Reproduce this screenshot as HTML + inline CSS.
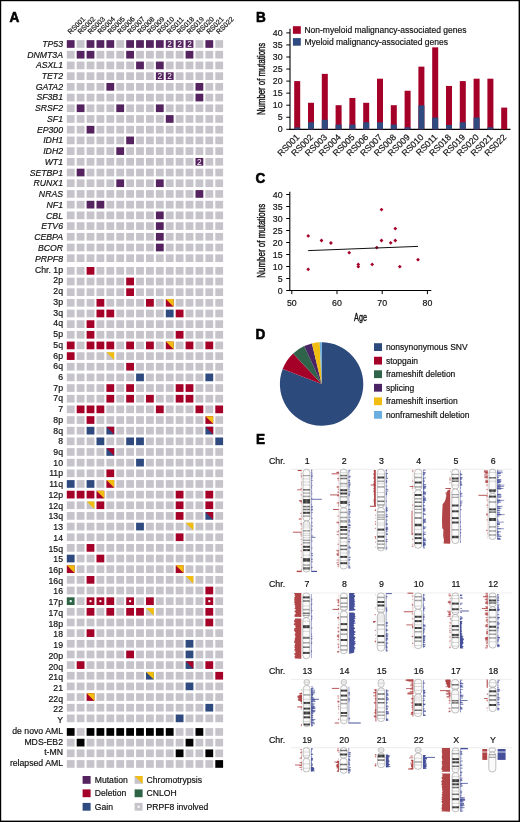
<!DOCTYPE html>
<html><head><meta charset="utf-8"><style>
html,body{margin:0;padding:0;background:#fff;}
svg{display:block;will-change:transform;}
text{font-family:"Liberation Sans", sans-serif;}
text[fill="#111"]{stroke:#111;stroke-width:0.18px;}
</style></head><body>
<svg width="520" height="822" viewBox="0 0 520 822">
<rect width="520" height="822" fill="#fff"/>
<g><rect x="66.80" y="40.15" width="7.8" height="7.7" fill="#55235f"/><rect x="76.70" y="40.15" width="7.8" height="7.7" fill="#c6c4ca"/><rect x="86.60" y="40.15" width="7.8" height="7.7" fill="#55235f"/><rect x="96.50" y="40.15" width="7.8" height="7.7" fill="#55235f"/><rect x="106.40" y="40.15" width="7.8" height="7.7" fill="#55235f"/><rect x="116.30" y="40.15" width="7.8" height="7.7" fill="#c6c4ca"/><rect x="126.20" y="40.15" width="7.8" height="7.7" fill="#55235f"/><rect x="136.10" y="40.15" width="7.8" height="7.7" fill="#55235f"/><rect x="146.00" y="40.15" width="7.8" height="7.7" fill="#55235f"/><rect x="155.90" y="40.15" width="7.8" height="7.7" fill="#55235f"/><rect x="165.80" y="40.15" width="7.8" height="7.7" fill="#55235f"/><text x="169.70" y="47.05" font-size="8.4" fill="#fff" text-anchor="middle">2</text><rect x="175.70" y="40.15" width="7.8" height="7.7" fill="#55235f"/><text x="179.60" y="47.05" font-size="8.4" fill="#fff" text-anchor="middle">2</text><rect x="185.60" y="40.15" width="7.8" height="7.7" fill="#55235f"/><text x="189.50" y="47.05" font-size="8.4" fill="#fff" text-anchor="middle">2</text><rect x="195.50" y="40.15" width="7.8" height="7.7" fill="#c6c4ca"/><rect x="205.40" y="40.15" width="7.8" height="7.7" fill="#55235f"/><rect x="215.30" y="40.15" width="7.8" height="7.7" fill="#c6c4ca"/><text x="63" y="46.80" font-size="8.7" text-anchor="end" font-style="italic" fill="#111">TP53</text><rect x="66.80" y="50.86" width="7.8" height="7.7" fill="#c6c4ca"/><rect x="76.70" y="50.86" width="7.8" height="7.7" fill="#55235f"/><rect x="86.60" y="50.86" width="7.8" height="7.7" fill="#55235f"/><rect x="96.50" y="50.86" width="7.8" height="7.7" fill="#c6c4ca"/><rect x="106.40" y="50.86" width="7.8" height="7.7" fill="#c6c4ca"/><rect x="116.30" y="50.86" width="7.8" height="7.7" fill="#c6c4ca"/><rect x="126.20" y="50.86" width="7.8" height="7.7" fill="#55235f"/><rect x="136.10" y="50.86" width="7.8" height="7.7" fill="#c6c4ca"/><rect x="146.00" y="50.86" width="7.8" height="7.7" fill="#c6c4ca"/><rect x="155.90" y="50.86" width="7.8" height="7.7" fill="#c6c4ca"/><rect x="165.80" y="50.86" width="7.8" height="7.7" fill="#c6c4ca"/><rect x="175.70" y="50.86" width="7.8" height="7.7" fill="#c6c4ca"/><rect x="185.60" y="50.86" width="7.8" height="7.7" fill="#55235f"/><rect x="195.50" y="50.86" width="7.8" height="7.7" fill="#c6c4ca"/><rect x="205.40" y="50.86" width="7.8" height="7.7" fill="#c6c4ca"/><rect x="215.30" y="50.86" width="7.8" height="7.7" fill="#c6c4ca"/><text x="63" y="57.53" font-size="8.7" text-anchor="end" font-style="italic" fill="#111">DNMT3A</text><rect x="66.80" y="61.57" width="7.8" height="7.7" fill="#c6c4ca"/><rect x="76.70" y="61.57" width="7.8" height="7.7" fill="#c6c4ca"/><rect x="86.60" y="61.57" width="7.8" height="7.7" fill="#c6c4ca"/><rect x="96.50" y="61.57" width="7.8" height="7.7" fill="#c6c4ca"/><rect x="106.40" y="61.57" width="7.8" height="7.7" fill="#c6c4ca"/><rect x="116.30" y="61.57" width="7.8" height="7.7" fill="#c6c4ca"/><rect x="126.20" y="61.57" width="7.8" height="7.7" fill="#c6c4ca"/><rect x="136.10" y="61.57" width="7.8" height="7.7" fill="#55235f"/><rect x="146.00" y="61.57" width="7.8" height="7.7" fill="#c6c4ca"/><rect x="155.90" y="61.57" width="7.8" height="7.7" fill="#55235f"/><rect x="165.80" y="61.57" width="7.8" height="7.7" fill="#c6c4ca"/><rect x="175.70" y="61.57" width="7.8" height="7.7" fill="#c6c4ca"/><rect x="185.60" y="61.57" width="7.8" height="7.7" fill="#c6c4ca"/><rect x="195.50" y="61.57" width="7.8" height="7.7" fill="#c6c4ca"/><rect x="205.40" y="61.57" width="7.8" height="7.7" fill="#c6c4ca"/><rect x="215.30" y="61.57" width="7.8" height="7.7" fill="#c6c4ca"/><text x="63" y="68.27" font-size="8.7" text-anchor="end" font-style="italic" fill="#111">ASXL1</text><rect x="66.80" y="72.28" width="7.8" height="7.7" fill="#c6c4ca"/><rect x="76.70" y="72.28" width="7.8" height="7.7" fill="#c6c4ca"/><rect x="86.60" y="72.28" width="7.8" height="7.7" fill="#c6c4ca"/><rect x="96.50" y="72.28" width="7.8" height="7.7" fill="#c6c4ca"/><rect x="106.40" y="72.28" width="7.8" height="7.7" fill="#c6c4ca"/><rect x="116.30" y="72.28" width="7.8" height="7.7" fill="#c6c4ca"/><rect x="126.20" y="72.28" width="7.8" height="7.7" fill="#c6c4ca"/><rect x="136.10" y="72.28" width="7.8" height="7.7" fill="#c6c4ca"/><rect x="146.00" y="72.28" width="7.8" height="7.7" fill="#c6c4ca"/><rect x="155.90" y="72.28" width="7.8" height="7.7" fill="#55235f"/><text x="159.80" y="79.18" font-size="8.4" fill="#fff" text-anchor="middle">2</text><rect x="165.80" y="72.28" width="7.8" height="7.7" fill="#55235f"/><text x="169.70" y="79.18" font-size="8.4" fill="#fff" text-anchor="middle">2</text><rect x="175.70" y="72.28" width="7.8" height="7.7" fill="#c6c4ca"/><rect x="185.60" y="72.28" width="7.8" height="7.7" fill="#c6c4ca"/><rect x="195.50" y="72.28" width="7.8" height="7.7" fill="#c6c4ca"/><rect x="205.40" y="72.28" width="7.8" height="7.7" fill="#c6c4ca"/><rect x="215.30" y="72.28" width="7.8" height="7.7" fill="#c6c4ca"/><text x="63" y="79.00" font-size="8.7" text-anchor="end" font-style="italic" fill="#111">TET2</text><rect x="66.80" y="82.99" width="7.8" height="7.7" fill="#c6c4ca"/><rect x="76.70" y="82.99" width="7.8" height="7.7" fill="#c6c4ca"/><rect x="86.60" y="82.99" width="7.8" height="7.7" fill="#c6c4ca"/><rect x="96.50" y="82.99" width="7.8" height="7.7" fill="#c6c4ca"/><rect x="106.40" y="82.99" width="7.8" height="7.7" fill="#55235f"/><rect x="116.30" y="82.99" width="7.8" height="7.7" fill="#c6c4ca"/><rect x="126.20" y="82.99" width="7.8" height="7.7" fill="#c6c4ca"/><rect x="136.10" y="82.99" width="7.8" height="7.7" fill="#c6c4ca"/><rect x="146.00" y="82.99" width="7.8" height="7.7" fill="#c6c4ca"/><rect x="155.90" y="82.99" width="7.8" height="7.7" fill="#c6c4ca"/><rect x="165.80" y="82.99" width="7.8" height="7.7" fill="#c6c4ca"/><rect x="175.70" y="82.99" width="7.8" height="7.7" fill="#c6c4ca"/><rect x="185.60" y="82.99" width="7.8" height="7.7" fill="#c6c4ca"/><rect x="195.50" y="82.99" width="7.8" height="7.7" fill="#55235f"/><rect x="205.40" y="82.99" width="7.8" height="7.7" fill="#c6c4ca"/><rect x="215.30" y="82.99" width="7.8" height="7.7" fill="#c6c4ca"/><text x="63" y="89.74" font-size="8.7" text-anchor="end" font-style="italic" fill="#111">GATA2</text><rect x="66.80" y="93.70" width="7.8" height="7.7" fill="#c6c4ca"/><rect x="76.70" y="93.70" width="7.8" height="7.7" fill="#c6c4ca"/><rect x="86.60" y="93.70" width="7.8" height="7.7" fill="#c6c4ca"/><rect x="96.50" y="93.70" width="7.8" height="7.7" fill="#c6c4ca"/><rect x="106.40" y="93.70" width="7.8" height="7.7" fill="#c6c4ca"/><rect x="116.30" y="93.70" width="7.8" height="7.7" fill="#c6c4ca"/><rect x="126.20" y="93.70" width="7.8" height="7.7" fill="#c6c4ca"/><rect x="136.10" y="93.70" width="7.8" height="7.7" fill="#c6c4ca"/><rect x="146.00" y="93.70" width="7.8" height="7.7" fill="#c6c4ca"/><rect x="155.90" y="93.70" width="7.8" height="7.7" fill="#c6c4ca"/><rect x="165.80" y="93.70" width="7.8" height="7.7" fill="#c6c4ca"/><rect x="175.70" y="93.70" width="7.8" height="7.7" fill="#c6c4ca"/><rect x="185.60" y="93.70" width="7.8" height="7.7" fill="#c6c4ca"/><rect x="195.50" y="93.70" width="7.8" height="7.7" fill="#55235f"/><rect x="205.40" y="93.70" width="7.8" height="7.7" fill="#c6c4ca"/><rect x="215.30" y="93.70" width="7.8" height="7.7" fill="#c6c4ca"/><text x="63" y="100.47" font-size="8.7" text-anchor="end" font-style="italic" fill="#111">SF3B1</text><rect x="66.80" y="104.41" width="7.8" height="7.7" fill="#c6c4ca"/><rect x="76.70" y="104.41" width="7.8" height="7.7" fill="#55235f"/><rect x="86.60" y="104.41" width="7.8" height="7.7" fill="#c6c4ca"/><rect x="96.50" y="104.41" width="7.8" height="7.7" fill="#c6c4ca"/><rect x="106.40" y="104.41" width="7.8" height="7.7" fill="#c6c4ca"/><rect x="116.30" y="104.41" width="7.8" height="7.7" fill="#55235f"/><rect x="126.20" y="104.41" width="7.8" height="7.7" fill="#c6c4ca"/><rect x="136.10" y="104.41" width="7.8" height="7.7" fill="#c6c4ca"/><rect x="146.00" y="104.41" width="7.8" height="7.7" fill="#c6c4ca"/><rect x="155.90" y="104.41" width="7.8" height="7.7" fill="#55235f"/><rect x="165.80" y="104.41" width="7.8" height="7.7" fill="#c6c4ca"/><rect x="175.70" y="104.41" width="7.8" height="7.7" fill="#c6c4ca"/><rect x="185.60" y="104.41" width="7.8" height="7.7" fill="#c6c4ca"/><rect x="195.50" y="104.41" width="7.8" height="7.7" fill="#c6c4ca"/><rect x="205.40" y="104.41" width="7.8" height="7.7" fill="#c6c4ca"/><rect x="215.30" y="104.41" width="7.8" height="7.7" fill="#c6c4ca"/><text x="63" y="111.21" font-size="8.7" text-anchor="end" font-style="italic" fill="#111">SRSF2</text><rect x="66.80" y="115.12" width="7.8" height="7.7" fill="#c6c4ca"/><rect x="76.70" y="115.12" width="7.8" height="7.7" fill="#c6c4ca"/><rect x="86.60" y="115.12" width="7.8" height="7.7" fill="#c6c4ca"/><rect x="96.50" y="115.12" width="7.8" height="7.7" fill="#c6c4ca"/><rect x="106.40" y="115.12" width="7.8" height="7.7" fill="#c6c4ca"/><rect x="116.30" y="115.12" width="7.8" height="7.7" fill="#c6c4ca"/><rect x="126.20" y="115.12" width="7.8" height="7.7" fill="#c6c4ca"/><rect x="136.10" y="115.12" width="7.8" height="7.7" fill="#c6c4ca"/><rect x="146.00" y="115.12" width="7.8" height="7.7" fill="#c6c4ca"/><rect x="155.90" y="115.12" width="7.8" height="7.7" fill="#c6c4ca"/><rect x="165.80" y="115.12" width="7.8" height="7.7" fill="#55235f"/><rect x="175.70" y="115.12" width="7.8" height="7.7" fill="#c6c4ca"/><rect x="185.60" y="115.12" width="7.8" height="7.7" fill="#c6c4ca"/><rect x="195.50" y="115.12" width="7.8" height="7.7" fill="#c6c4ca"/><rect x="205.40" y="115.12" width="7.8" height="7.7" fill="#c6c4ca"/><rect x="215.30" y="115.12" width="7.8" height="7.7" fill="#c6c4ca"/><text x="63" y="121.94" font-size="8.7" text-anchor="end" font-style="italic" fill="#111">SF1</text><rect x="66.80" y="125.83" width="7.8" height="7.7" fill="#c6c4ca"/><rect x="76.70" y="125.83" width="7.8" height="7.7" fill="#c6c4ca"/><rect x="86.60" y="125.83" width="7.8" height="7.7" fill="#55235f"/><rect x="96.50" y="125.83" width="7.8" height="7.7" fill="#c6c4ca"/><rect x="106.40" y="125.83" width="7.8" height="7.7" fill="#c6c4ca"/><rect x="116.30" y="125.83" width="7.8" height="7.7" fill="#c6c4ca"/><rect x="126.20" y="125.83" width="7.8" height="7.7" fill="#c6c4ca"/><rect x="136.10" y="125.83" width="7.8" height="7.7" fill="#c6c4ca"/><rect x="146.00" y="125.83" width="7.8" height="7.7" fill="#c6c4ca"/><rect x="155.90" y="125.83" width="7.8" height="7.7" fill="#c6c4ca"/><rect x="165.80" y="125.83" width="7.8" height="7.7" fill="#c6c4ca"/><rect x="175.70" y="125.83" width="7.8" height="7.7" fill="#c6c4ca"/><rect x="185.60" y="125.83" width="7.8" height="7.7" fill="#c6c4ca"/><rect x="195.50" y="125.83" width="7.8" height="7.7" fill="#c6c4ca"/><rect x="205.40" y="125.83" width="7.8" height="7.7" fill="#c6c4ca"/><rect x="215.30" y="125.83" width="7.8" height="7.7" fill="#c6c4ca"/><text x="63" y="132.68" font-size="8.7" text-anchor="end" font-style="italic" fill="#111">EP300</text><rect x="66.80" y="136.54" width="7.8" height="7.7" fill="#c6c4ca"/><rect x="76.70" y="136.54" width="7.8" height="7.7" fill="#c6c4ca"/><rect x="86.60" y="136.54" width="7.8" height="7.7" fill="#c6c4ca"/><rect x="96.50" y="136.54" width="7.8" height="7.7" fill="#c6c4ca"/><rect x="106.40" y="136.54" width="7.8" height="7.7" fill="#c6c4ca"/><rect x="116.30" y="136.54" width="7.8" height="7.7" fill="#c6c4ca"/><rect x="126.20" y="136.54" width="7.8" height="7.7" fill="#55235f"/><rect x="136.10" y="136.54" width="7.8" height="7.7" fill="#c6c4ca"/><rect x="146.00" y="136.54" width="7.8" height="7.7" fill="#c6c4ca"/><rect x="155.90" y="136.54" width="7.8" height="7.7" fill="#c6c4ca"/><rect x="165.80" y="136.54" width="7.8" height="7.7" fill="#c6c4ca"/><rect x="175.70" y="136.54" width="7.8" height="7.7" fill="#c6c4ca"/><rect x="185.60" y="136.54" width="7.8" height="7.7" fill="#c6c4ca"/><rect x="195.50" y="136.54" width="7.8" height="7.7" fill="#c6c4ca"/><rect x="205.40" y="136.54" width="7.8" height="7.7" fill="#c6c4ca"/><rect x="215.30" y="136.54" width="7.8" height="7.7" fill="#c6c4ca"/><text x="63" y="143.41" font-size="8.7" text-anchor="end" font-style="italic" fill="#111">IDH1</text><rect x="66.80" y="147.25" width="7.8" height="7.7" fill="#c6c4ca"/><rect x="76.70" y="147.25" width="7.8" height="7.7" fill="#c6c4ca"/><rect x="86.60" y="147.25" width="7.8" height="7.7" fill="#c6c4ca"/><rect x="96.50" y="147.25" width="7.8" height="7.7" fill="#c6c4ca"/><rect x="106.40" y="147.25" width="7.8" height="7.7" fill="#c6c4ca"/><rect x="116.30" y="147.25" width="7.8" height="7.7" fill="#55235f"/><rect x="126.20" y="147.25" width="7.8" height="7.7" fill="#c6c4ca"/><rect x="136.10" y="147.25" width="7.8" height="7.7" fill="#c6c4ca"/><rect x="146.00" y="147.25" width="7.8" height="7.7" fill="#c6c4ca"/><rect x="155.90" y="147.25" width="7.8" height="7.7" fill="#c6c4ca"/><rect x="165.80" y="147.25" width="7.8" height="7.7" fill="#c6c4ca"/><rect x="175.70" y="147.25" width="7.8" height="7.7" fill="#c6c4ca"/><rect x="185.60" y="147.25" width="7.8" height="7.7" fill="#c6c4ca"/><rect x="195.50" y="147.25" width="7.8" height="7.7" fill="#c6c4ca"/><rect x="205.40" y="147.25" width="7.8" height="7.7" fill="#c6c4ca"/><rect x="215.30" y="147.25" width="7.8" height="7.7" fill="#c6c4ca"/><text x="63" y="154.15" font-size="8.7" text-anchor="end" font-style="italic" fill="#111">IDH2</text><rect x="66.80" y="157.96" width="7.8" height="7.7" fill="#c6c4ca"/><rect x="76.70" y="157.96" width="7.8" height="7.7" fill="#c6c4ca"/><rect x="86.60" y="157.96" width="7.8" height="7.7" fill="#c6c4ca"/><rect x="96.50" y="157.96" width="7.8" height="7.7" fill="#c6c4ca"/><rect x="106.40" y="157.96" width="7.8" height="7.7" fill="#c6c4ca"/><rect x="116.30" y="157.96" width="7.8" height="7.7" fill="#c6c4ca"/><rect x="126.20" y="157.96" width="7.8" height="7.7" fill="#c6c4ca"/><rect x="136.10" y="157.96" width="7.8" height="7.7" fill="#c6c4ca"/><rect x="146.00" y="157.96" width="7.8" height="7.7" fill="#c6c4ca"/><rect x="155.90" y="157.96" width="7.8" height="7.7" fill="#c6c4ca"/><rect x="165.80" y="157.96" width="7.8" height="7.7" fill="#c6c4ca"/><rect x="175.70" y="157.96" width="7.8" height="7.7" fill="#c6c4ca"/><rect x="185.60" y="157.96" width="7.8" height="7.7" fill="#c6c4ca"/><rect x="195.50" y="157.96" width="7.8" height="7.7" fill="#55235f"/><text x="199.40" y="164.86" font-size="8.4" fill="#fff" text-anchor="middle">2</text><rect x="205.40" y="157.96" width="7.8" height="7.7" fill="#c6c4ca"/><rect x="215.30" y="157.96" width="7.8" height="7.7" fill="#c6c4ca"/><text x="63" y="164.88" font-size="8.7" text-anchor="end" font-style="italic" fill="#111">WT1</text><rect x="66.80" y="168.67" width="7.8" height="7.7" fill="#c6c4ca"/><rect x="76.70" y="168.67" width="7.8" height="7.7" fill="#55235f"/><rect x="86.60" y="168.67" width="7.8" height="7.7" fill="#c6c4ca"/><rect x="96.50" y="168.67" width="7.8" height="7.7" fill="#c6c4ca"/><rect x="106.40" y="168.67" width="7.8" height="7.7" fill="#c6c4ca"/><rect x="116.30" y="168.67" width="7.8" height="7.7" fill="#c6c4ca"/><rect x="126.20" y="168.67" width="7.8" height="7.7" fill="#c6c4ca"/><rect x="136.10" y="168.67" width="7.8" height="7.7" fill="#c6c4ca"/><rect x="146.00" y="168.67" width="7.8" height="7.7" fill="#c6c4ca"/><rect x="155.90" y="168.67" width="7.8" height="7.7" fill="#c6c4ca"/><rect x="165.80" y="168.67" width="7.8" height="7.7" fill="#c6c4ca"/><rect x="175.70" y="168.67" width="7.8" height="7.7" fill="#c6c4ca"/><rect x="185.60" y="168.67" width="7.8" height="7.7" fill="#c6c4ca"/><rect x="195.50" y="168.67" width="7.8" height="7.7" fill="#c6c4ca"/><rect x="205.40" y="168.67" width="7.8" height="7.7" fill="#c6c4ca"/><rect x="215.30" y="168.67" width="7.8" height="7.7" fill="#c6c4ca"/><text x="63" y="175.62" font-size="8.7" text-anchor="end" font-style="italic" fill="#111">SETBP1</text><rect x="66.80" y="179.38" width="7.8" height="7.7" fill="#c6c4ca"/><rect x="76.70" y="179.38" width="7.8" height="7.7" fill="#c6c4ca"/><rect x="86.60" y="179.38" width="7.8" height="7.7" fill="#c6c4ca"/><rect x="96.50" y="179.38" width="7.8" height="7.7" fill="#c6c4ca"/><rect x="106.40" y="179.38" width="7.8" height="7.7" fill="#c6c4ca"/><rect x="116.30" y="179.38" width="7.8" height="7.7" fill="#55235f"/><rect x="126.20" y="179.38" width="7.8" height="7.7" fill="#c6c4ca"/><rect x="136.10" y="179.38" width="7.8" height="7.7" fill="#c6c4ca"/><rect x="146.00" y="179.38" width="7.8" height="7.7" fill="#c6c4ca"/><rect x="155.90" y="179.38" width="7.8" height="7.7" fill="#55235f"/><rect x="165.80" y="179.38" width="7.8" height="7.7" fill="#c6c4ca"/><rect x="175.70" y="179.38" width="7.8" height="7.7" fill="#c6c4ca"/><rect x="185.60" y="179.38" width="7.8" height="7.7" fill="#c6c4ca"/><rect x="195.50" y="179.38" width="7.8" height="7.7" fill="#c6c4ca"/><rect x="205.40" y="179.38" width="7.8" height="7.7" fill="#c6c4ca"/><rect x="215.30" y="179.38" width="7.8" height="7.7" fill="#c6c4ca"/><text x="63" y="186.36" font-size="8.7" text-anchor="end" font-style="italic" fill="#111">RUNX1</text><rect x="66.80" y="190.09" width="7.8" height="7.7" fill="#c6c4ca"/><rect x="76.70" y="190.09" width="7.8" height="7.7" fill="#c6c4ca"/><rect x="86.60" y="190.09" width="7.8" height="7.7" fill="#c6c4ca"/><rect x="96.50" y="190.09" width="7.8" height="7.7" fill="#c6c4ca"/><rect x="106.40" y="190.09" width="7.8" height="7.7" fill="#c6c4ca"/><rect x="116.30" y="190.09" width="7.8" height="7.7" fill="#c6c4ca"/><rect x="126.20" y="190.09" width="7.8" height="7.7" fill="#c6c4ca"/><rect x="136.10" y="190.09" width="7.8" height="7.7" fill="#c6c4ca"/><rect x="146.00" y="190.09" width="7.8" height="7.7" fill="#c6c4ca"/><rect x="155.90" y="190.09" width="7.8" height="7.7" fill="#c6c4ca"/><rect x="165.80" y="190.09" width="7.8" height="7.7" fill="#c6c4ca"/><rect x="175.70" y="190.09" width="7.8" height="7.7" fill="#c6c4ca"/><rect x="185.60" y="190.09" width="7.8" height="7.7" fill="#c6c4ca"/><rect x="195.50" y="190.09" width="7.8" height="7.7" fill="#55235f"/><rect x="205.40" y="190.09" width="7.8" height="7.7" fill="#c6c4ca"/><rect x="215.30" y="190.09" width="7.8" height="7.7" fill="#c6c4ca"/><text x="63" y="197.09" font-size="8.7" text-anchor="end" font-style="italic" fill="#111">NRAS</text><rect x="66.80" y="200.80" width="7.8" height="7.7" fill="#c6c4ca"/><rect x="76.70" y="200.80" width="7.8" height="7.7" fill="#c6c4ca"/><rect x="86.60" y="200.80" width="7.8" height="7.7" fill="#55235f"/><rect x="96.50" y="200.80" width="7.8" height="7.7" fill="#55235f"/><rect x="106.40" y="200.80" width="7.8" height="7.7" fill="#c6c4ca"/><rect x="116.30" y="200.80" width="7.8" height="7.7" fill="#c6c4ca"/><rect x="126.20" y="200.80" width="7.8" height="7.7" fill="#c6c4ca"/><rect x="136.10" y="200.80" width="7.8" height="7.7" fill="#c6c4ca"/><rect x="146.00" y="200.80" width="7.8" height="7.7" fill="#c6c4ca"/><rect x="155.90" y="200.80" width="7.8" height="7.7" fill="#c6c4ca"/><rect x="165.80" y="200.80" width="7.8" height="7.7" fill="#c6c4ca"/><rect x="175.70" y="200.80" width="7.8" height="7.7" fill="#c6c4ca"/><rect x="185.60" y="200.80" width="7.8" height="7.7" fill="#c6c4ca"/><rect x="195.50" y="200.80" width="7.8" height="7.7" fill="#c6c4ca"/><rect x="205.40" y="200.80" width="7.8" height="7.7" fill="#c6c4ca"/><rect x="215.30" y="200.80" width="7.8" height="7.7" fill="#c6c4ca"/><text x="63" y="207.82" font-size="8.7" text-anchor="end" font-style="italic" fill="#111">NF1</text><rect x="66.80" y="211.51" width="7.8" height="7.7" fill="#c6c4ca"/><rect x="76.70" y="211.51" width="7.8" height="7.7" fill="#c6c4ca"/><rect x="86.60" y="211.51" width="7.8" height="7.7" fill="#c6c4ca"/><rect x="96.50" y="211.51" width="7.8" height="7.7" fill="#c6c4ca"/><rect x="106.40" y="211.51" width="7.8" height="7.7" fill="#c6c4ca"/><rect x="116.30" y="211.51" width="7.8" height="7.7" fill="#c6c4ca"/><rect x="126.20" y="211.51" width="7.8" height="7.7" fill="#c6c4ca"/><rect x="136.10" y="211.51" width="7.8" height="7.7" fill="#c6c4ca"/><rect x="146.00" y="211.51" width="7.8" height="7.7" fill="#c6c4ca"/><rect x="155.90" y="211.51" width="7.8" height="7.7" fill="#55235f"/><rect x="165.80" y="211.51" width="7.8" height="7.7" fill="#c6c4ca"/><rect x="175.70" y="211.51" width="7.8" height="7.7" fill="#c6c4ca"/><rect x="185.60" y="211.51" width="7.8" height="7.7" fill="#c6c4ca"/><rect x="195.50" y="211.51" width="7.8" height="7.7" fill="#c6c4ca"/><rect x="205.40" y="211.51" width="7.8" height="7.7" fill="#c6c4ca"/><rect x="215.30" y="211.51" width="7.8" height="7.7" fill="#c6c4ca"/><text x="63" y="218.56" font-size="8.7" text-anchor="end" font-style="italic" fill="#111">CBL</text><rect x="66.80" y="222.22" width="7.8" height="7.7" fill="#c6c4ca"/><rect x="76.70" y="222.22" width="7.8" height="7.7" fill="#c6c4ca"/><rect x="86.60" y="222.22" width="7.8" height="7.7" fill="#c6c4ca"/><rect x="96.50" y="222.22" width="7.8" height="7.7" fill="#c6c4ca"/><rect x="106.40" y="222.22" width="7.8" height="7.7" fill="#c6c4ca"/><rect x="116.30" y="222.22" width="7.8" height="7.7" fill="#c6c4ca"/><rect x="126.20" y="222.22" width="7.8" height="7.7" fill="#c6c4ca"/><rect x="136.10" y="222.22" width="7.8" height="7.7" fill="#c6c4ca"/><rect x="146.00" y="222.22" width="7.8" height="7.7" fill="#c6c4ca"/><rect x="155.90" y="222.22" width="7.8" height="7.7" fill="#55235f"/><rect x="165.80" y="222.22" width="7.8" height="7.7" fill="#c6c4ca"/><rect x="175.70" y="222.22" width="7.8" height="7.7" fill="#c6c4ca"/><rect x="185.60" y="222.22" width="7.8" height="7.7" fill="#c6c4ca"/><rect x="195.50" y="222.22" width="7.8" height="7.7" fill="#c6c4ca"/><rect x="205.40" y="222.22" width="7.8" height="7.7" fill="#c6c4ca"/><rect x="215.30" y="222.22" width="7.8" height="7.7" fill="#c6c4ca"/><text x="63" y="229.30" font-size="8.7" text-anchor="end" font-style="italic" fill="#111">ETV6</text><rect x="66.80" y="232.93" width="7.8" height="7.7" fill="#c6c4ca"/><rect x="76.70" y="232.93" width="7.8" height="7.7" fill="#c6c4ca"/><rect x="86.60" y="232.93" width="7.8" height="7.7" fill="#c6c4ca"/><rect x="96.50" y="232.93" width="7.8" height="7.7" fill="#c6c4ca"/><rect x="106.40" y="232.93" width="7.8" height="7.7" fill="#c6c4ca"/><rect x="116.30" y="232.93" width="7.8" height="7.7" fill="#c6c4ca"/><rect x="126.20" y="232.93" width="7.8" height="7.7" fill="#c6c4ca"/><rect x="136.10" y="232.93" width="7.8" height="7.7" fill="#c6c4ca"/><rect x="146.00" y="232.93" width="7.8" height="7.7" fill="#c6c4ca"/><rect x="155.90" y="232.93" width="7.8" height="7.7" fill="#55235f"/><rect x="165.80" y="232.93" width="7.8" height="7.7" fill="#c6c4ca"/><rect x="175.70" y="232.93" width="7.8" height="7.7" fill="#c6c4ca"/><rect x="185.60" y="232.93" width="7.8" height="7.7" fill="#c6c4ca"/><rect x="195.50" y="232.93" width="7.8" height="7.7" fill="#c6c4ca"/><rect x="205.40" y="232.93" width="7.8" height="7.7" fill="#c6c4ca"/><rect x="215.30" y="232.93" width="7.8" height="7.7" fill="#c6c4ca"/><text x="63" y="240.03" font-size="8.7" text-anchor="end" font-style="italic" fill="#111">CEBPA</text><rect x="66.80" y="243.64" width="7.8" height="7.7" fill="#c6c4ca"/><rect x="76.70" y="243.64" width="7.8" height="7.7" fill="#c6c4ca"/><rect x="86.60" y="243.64" width="7.8" height="7.7" fill="#c6c4ca"/><rect x="96.50" y="243.64" width="7.8" height="7.7" fill="#c6c4ca"/><rect x="106.40" y="243.64" width="7.8" height="7.7" fill="#c6c4ca"/><rect x="116.30" y="243.64" width="7.8" height="7.7" fill="#c6c4ca"/><rect x="126.20" y="243.64" width="7.8" height="7.7" fill="#c6c4ca"/><rect x="136.10" y="243.64" width="7.8" height="7.7" fill="#c6c4ca"/><rect x="146.00" y="243.64" width="7.8" height="7.7" fill="#c6c4ca"/><rect x="155.90" y="243.64" width="7.8" height="7.7" fill="#55235f"/><rect x="165.80" y="243.64" width="7.8" height="7.7" fill="#c6c4ca"/><rect x="175.70" y="243.64" width="7.8" height="7.7" fill="#c6c4ca"/><rect x="185.60" y="243.64" width="7.8" height="7.7" fill="#c6c4ca"/><rect x="195.50" y="243.64" width="7.8" height="7.7" fill="#c6c4ca"/><rect x="205.40" y="243.64" width="7.8" height="7.7" fill="#c6c4ca"/><rect x="215.30" y="243.64" width="7.8" height="7.7" fill="#c6c4ca"/><text x="63" y="250.76" font-size="8.7" text-anchor="end" font-style="italic" fill="#111">BCOR</text><rect x="66.80" y="254.35" width="7.8" height="7.7" fill="#c6c4ca"/><rect x="76.70" y="254.35" width="7.8" height="7.7" fill="#c6c4ca"/><rect x="86.60" y="254.35" width="7.8" height="7.7" fill="#c6c4ca"/><rect x="96.50" y="254.35" width="7.8" height="7.7" fill="#c6c4ca"/><rect x="106.40" y="254.35" width="7.8" height="7.7" fill="#c6c4ca"/><rect x="116.30" y="254.35" width="7.8" height="7.7" fill="#c6c4ca"/><rect x="126.20" y="254.35" width="7.8" height="7.7" fill="#c6c4ca"/><rect x="136.10" y="254.35" width="7.8" height="7.7" fill="#c6c4ca"/><rect x="146.00" y="254.35" width="7.8" height="7.7" fill="#c6c4ca"/><rect x="155.90" y="254.35" width="7.8" height="7.7" fill="#c6c4ca"/><rect x="165.80" y="254.35" width="7.8" height="7.7" fill="#c6c4ca"/><rect x="175.70" y="254.35" width="7.8" height="7.7" fill="#c6c4ca"/><rect x="185.60" y="254.35" width="7.8" height="7.7" fill="#c6c4ca"/><rect x="195.50" y="254.35" width="7.8" height="7.7" fill="#c6c4ca"/><rect x="205.40" y="254.35" width="7.8" height="7.7" fill="#c6c4ca"/><rect x="215.30" y="254.35" width="7.8" height="7.7" fill="#c6c4ca"/><text x="63" y="261.50" font-size="8.7" text-anchor="end" font-style="italic" fill="#111">PRPF8</text><rect x="66.80" y="267.00" width="7.8" height="7.7" fill="#c6c4ca"/><rect x="76.70" y="267.00" width="7.8" height="7.7" fill="#c6c4ca"/><rect x="86.60" y="267.00" width="7.8" height="7.7" fill="#a50028"/><rect x="96.50" y="267.00" width="7.8" height="7.7" fill="#c6c4ca"/><rect x="106.40" y="267.00" width="7.8" height="7.7" fill="#c6c4ca"/><rect x="116.30" y="267.00" width="7.8" height="7.7" fill="#c6c4ca"/><rect x="126.20" y="267.00" width="7.8" height="7.7" fill="#c6c4ca"/><rect x="136.10" y="267.00" width="7.8" height="7.7" fill="#c6c4ca"/><rect x="146.00" y="267.00" width="7.8" height="7.7" fill="#c6c4ca"/><rect x="155.90" y="267.00" width="7.8" height="7.7" fill="#c6c4ca"/><rect x="165.80" y="267.00" width="7.8" height="7.7" fill="#c6c4ca"/><rect x="175.70" y="267.00" width="7.8" height="7.7" fill="#c6c4ca"/><rect x="185.60" y="267.00" width="7.8" height="7.7" fill="#c6c4ca"/><rect x="195.50" y="267.00" width="7.8" height="7.7" fill="#c6c4ca"/><rect x="205.40" y="267.00" width="7.8" height="7.7" fill="#c6c4ca"/><rect x="215.30" y="267.00" width="7.8" height="7.7" fill="#c6c4ca"/><text x="63" y="272.70" font-size="8.7" text-anchor="end" fill="#111">Chr. 1p</text><rect x="66.80" y="277.65" width="7.8" height="7.7" fill="#c6c4ca"/><rect x="76.70" y="277.65" width="7.8" height="7.7" fill="#c6c4ca"/><rect x="86.60" y="277.65" width="7.8" height="7.7" fill="#c6c4ca"/><rect x="96.50" y="277.65" width="7.8" height="7.7" fill="#c6c4ca"/><rect x="106.40" y="277.65" width="7.8" height="7.7" fill="#c6c4ca"/><rect x="116.30" y="277.65" width="7.8" height="7.7" fill="#c6c4ca"/><rect x="126.20" y="277.65" width="7.8" height="7.7" fill="#a50028"/><rect x="136.10" y="277.65" width="7.8" height="7.7" fill="#c6c4ca"/><rect x="146.00" y="277.65" width="7.8" height="7.7" fill="#c6c4ca"/><rect x="155.90" y="277.65" width="7.8" height="7.7" fill="#c6c4ca"/><rect x="165.80" y="277.65" width="7.8" height="7.7" fill="#c6c4ca"/><rect x="175.70" y="277.65" width="7.8" height="7.7" fill="#c6c4ca"/><rect x="185.60" y="277.65" width="7.8" height="7.7" fill="#c6c4ca"/><rect x="195.50" y="277.65" width="7.8" height="7.7" fill="#c6c4ca"/><rect x="205.40" y="277.65" width="7.8" height="7.7" fill="#c6c4ca"/><rect x="215.30" y="277.65" width="7.8" height="7.7" fill="#c6c4ca"/><text x="63" y="283.43" font-size="8.7" text-anchor="end" fill="#111">2p</text><rect x="66.80" y="288.31" width="7.8" height="7.7" fill="#c6c4ca"/><rect x="76.70" y="288.31" width="7.8" height="7.7" fill="#c6c4ca"/><rect x="86.60" y="288.31" width="7.8" height="7.7" fill="#c6c4ca"/><rect x="96.50" y="288.31" width="7.8" height="7.7" fill="#c6c4ca"/><rect x="106.40" y="288.31" width="7.8" height="7.7" fill="#c6c4ca"/><rect x="116.30" y="288.31" width="7.8" height="7.7" fill="#c6c4ca"/><rect x="126.20" y="288.31" width="7.8" height="7.7" fill="#a50028"/><rect x="136.10" y="288.31" width="7.8" height="7.7" fill="#c6c4ca"/><rect x="146.00" y="288.31" width="7.8" height="7.7" fill="#c6c4ca"/><rect x="155.90" y="288.31" width="7.8" height="7.7" fill="#c6c4ca"/><rect x="165.80" y="288.31" width="7.8" height="7.7" fill="#c6c4ca"/><rect x="175.70" y="288.31" width="7.8" height="7.7" fill="#c6c4ca"/><rect x="185.60" y="288.31" width="7.8" height="7.7" fill="#c6c4ca"/><rect x="195.50" y="288.31" width="7.8" height="7.7" fill="#c6c4ca"/><rect x="205.40" y="288.31" width="7.8" height="7.7" fill="#c6c4ca"/><rect x="215.30" y="288.31" width="7.8" height="7.7" fill="#c6c4ca"/><text x="63" y="294.15" font-size="8.7" text-anchor="end" fill="#111">2q</text><rect x="66.80" y="298.96" width="7.8" height="7.7" fill="#c6c4ca"/><rect x="76.70" y="298.96" width="7.8" height="7.7" fill="#c6c4ca"/><rect x="86.60" y="298.96" width="7.8" height="7.7" fill="#c6c4ca"/><rect x="96.50" y="298.96" width="7.8" height="7.7" fill="#a50028"/><rect x="106.40" y="298.96" width="7.8" height="7.7" fill="#c6c4ca"/><rect x="116.30" y="298.96" width="7.8" height="7.7" fill="#c6c4ca"/><rect x="126.20" y="298.96" width="7.8" height="7.7" fill="#c6c4ca"/><rect x="136.10" y="298.96" width="7.8" height="7.7" fill="#c6c4ca"/><rect x="146.00" y="298.96" width="7.8" height="7.7" fill="#a50028"/><rect x="155.90" y="298.96" width="7.8" height="7.7" fill="#c6c4ca"/><rect x="165.80" y="298.96" width="7.8" height="7.7" fill="#a50028"/><path d="M165.80 298.96H173.60V306.66Z" fill="#f0bd10"/><rect x="175.70" y="298.96" width="7.8" height="7.7" fill="#c6c4ca"/><rect x="185.60" y="298.96" width="7.8" height="7.7" fill="#c6c4ca"/><rect x="195.50" y="298.96" width="7.8" height="7.7" fill="#c6c4ca"/><rect x="205.40" y="298.96" width="7.8" height="7.7" fill="#c6c4ca"/><rect x="215.30" y="298.96" width="7.8" height="7.7" fill="#c6c4ca"/><text x="63" y="304.88" font-size="8.7" text-anchor="end" fill="#111">3p</text><rect x="66.80" y="309.62" width="7.8" height="7.7" fill="#c6c4ca"/><rect x="76.70" y="309.62" width="7.8" height="7.7" fill="#c6c4ca"/><rect x="86.60" y="309.62" width="7.8" height="7.7" fill="#c6c4ca"/><rect x="96.50" y="309.62" width="7.8" height="7.7" fill="#a50028"/><rect x="106.40" y="309.62" width="7.8" height="7.7" fill="#a50028"/><rect x="116.30" y="309.62" width="7.8" height="7.7" fill="#c6c4ca"/><rect x="126.20" y="309.62" width="7.8" height="7.7" fill="#c6c4ca"/><rect x="136.10" y="309.62" width="7.8" height="7.7" fill="#c6c4ca"/><rect x="146.00" y="309.62" width="7.8" height="7.7" fill="#c6c4ca"/><rect x="155.90" y="309.62" width="7.8" height="7.7" fill="#c6c4ca"/><rect x="165.80" y="309.62" width="7.8" height="7.7" fill="#2e4a7e"/><rect x="175.70" y="309.62" width="7.8" height="7.7" fill="#a50028"/><rect x="185.60" y="309.62" width="7.8" height="7.7" fill="#c6c4ca"/><rect x="195.50" y="309.62" width="7.8" height="7.7" fill="#c6c4ca"/><rect x="205.40" y="309.62" width="7.8" height="7.7" fill="#c6c4ca"/><rect x="215.30" y="309.62" width="7.8" height="7.7" fill="#c6c4ca"/><text x="63" y="315.60" font-size="8.7" text-anchor="end" fill="#111">3q</text><rect x="66.80" y="320.27" width="7.8" height="7.7" fill="#c6c4ca"/><rect x="76.70" y="320.27" width="7.8" height="7.7" fill="#c6c4ca"/><rect x="86.60" y="320.27" width="7.8" height="7.7" fill="#a50028"/><rect x="96.50" y="320.27" width="7.8" height="7.7" fill="#c6c4ca"/><rect x="106.40" y="320.27" width="7.8" height="7.7" fill="#c6c4ca"/><rect x="116.30" y="320.27" width="7.8" height="7.7" fill="#c6c4ca"/><rect x="126.20" y="320.27" width="7.8" height="7.7" fill="#c6c4ca"/><rect x="136.10" y="320.27" width="7.8" height="7.7" fill="#c6c4ca"/><rect x="146.00" y="320.27" width="7.8" height="7.7" fill="#c6c4ca"/><rect x="155.90" y="320.27" width="7.8" height="7.7" fill="#c6c4ca"/><rect x="165.80" y="320.27" width="7.8" height="7.7" fill="#c6c4ca"/><rect x="175.70" y="320.27" width="7.8" height="7.7" fill="#c6c4ca"/><rect x="185.60" y="320.27" width="7.8" height="7.7" fill="#c6c4ca"/><rect x="195.50" y="320.27" width="7.8" height="7.7" fill="#c6c4ca"/><rect x="205.40" y="320.27" width="7.8" height="7.7" fill="#c6c4ca"/><rect x="215.30" y="320.27" width="7.8" height="7.7" fill="#c6c4ca"/><text x="63" y="326.32" font-size="8.7" text-anchor="end" fill="#111">4q</text><rect x="66.80" y="330.93" width="7.8" height="7.7" fill="#c6c4ca"/><rect x="76.70" y="330.93" width="7.8" height="7.7" fill="#c6c4ca"/><rect x="86.60" y="330.93" width="7.8" height="7.7" fill="#a50028"/><rect x="96.50" y="330.93" width="7.8" height="7.7" fill="#c6c4ca"/><rect x="106.40" y="330.93" width="7.8" height="7.7" fill="#c6c4ca"/><rect x="116.30" y="330.93" width="7.8" height="7.7" fill="#c6c4ca"/><rect x="126.20" y="330.93" width="7.8" height="7.7" fill="#c6c4ca"/><rect x="136.10" y="330.93" width="7.8" height="7.7" fill="#c6c4ca"/><rect x="146.00" y="330.93" width="7.8" height="7.7" fill="#c6c4ca"/><rect x="155.90" y="330.93" width="7.8" height="7.7" fill="#c6c4ca"/><rect x="165.80" y="330.93" width="7.8" height="7.7" fill="#c6c4ca"/><rect x="175.70" y="330.93" width="7.8" height="7.7" fill="#a50028"/><rect x="185.60" y="330.93" width="7.8" height="7.7" fill="#c6c4ca"/><rect x="195.50" y="330.93" width="7.8" height="7.7" fill="#c6c4ca"/><rect x="205.40" y="330.93" width="7.8" height="7.7" fill="#c6c4ca"/><rect x="215.30" y="330.93" width="7.8" height="7.7" fill="#c6c4ca"/><text x="63" y="337.05" font-size="8.7" text-anchor="end" fill="#111">5p</text><rect x="66.80" y="341.58" width="7.8" height="7.7" fill="#a50028"/><rect x="76.70" y="341.58" width="7.8" height="7.7" fill="#c6c4ca"/><rect x="86.60" y="341.58" width="7.8" height="7.7" fill="#a50028"/><rect x="96.50" y="341.58" width="7.8" height="7.7" fill="#a50028"/><rect x="106.40" y="341.58" width="7.8" height="7.7" fill="#a50028"/><rect x="116.30" y="341.58" width="7.8" height="7.7" fill="#c6c4ca"/><rect x="126.20" y="341.58" width="7.8" height="7.7" fill="#a50028"/><rect x="136.10" y="341.58" width="7.8" height="7.7" fill="#c6c4ca"/><rect x="146.00" y="341.58" width="7.8" height="7.7" fill="#a50028"/><rect x="155.90" y="341.58" width="7.8" height="7.7" fill="#c6c4ca"/><rect x="165.80" y="341.58" width="7.8" height="7.7" fill="#a50028"/><path d="M165.80 341.58H173.60V349.28Z" fill="#f0bd10"/><rect x="175.70" y="341.58" width="7.8" height="7.7" fill="#c6c4ca"/><rect x="185.60" y="341.58" width="7.8" height="7.7" fill="#a50028"/><rect x="195.50" y="341.58" width="7.8" height="7.7" fill="#c6c4ca"/><rect x="205.40" y="341.58" width="7.8" height="7.7" fill="#a50028"/><rect x="215.30" y="341.58" width="7.8" height="7.7" fill="#c6c4ca"/><text x="63" y="347.77" font-size="8.7" text-anchor="end" fill="#111">5q</text><rect x="66.80" y="352.24" width="7.8" height="7.7" fill="#a50028"/><rect x="76.70" y="352.24" width="7.8" height="7.7" fill="#c6c4ca"/><rect x="86.60" y="352.24" width="7.8" height="7.7" fill="#c6c4ca"/><rect x="96.50" y="352.24" width="7.8" height="7.7" fill="#c6c4ca"/><rect x="106.40" y="352.24" width="7.8" height="7.7" fill="#c6c4ca"/><path d="M106.40 352.24H114.20V359.94Z" fill="#f0bd10"/><rect x="116.30" y="352.24" width="7.8" height="7.7" fill="#c6c4ca"/><rect x="126.20" y="352.24" width="7.8" height="7.7" fill="#c6c4ca"/><rect x="136.10" y="352.24" width="7.8" height="7.7" fill="#c6c4ca"/><rect x="146.00" y="352.24" width="7.8" height="7.7" fill="#c6c4ca"/><rect x="155.90" y="352.24" width="7.8" height="7.7" fill="#c6c4ca"/><rect x="165.80" y="352.24" width="7.8" height="7.7" fill="#c6c4ca"/><rect x="175.70" y="352.24" width="7.8" height="7.7" fill="#c6c4ca"/><rect x="185.60" y="352.24" width="7.8" height="7.7" fill="#c6c4ca"/><rect x="195.50" y="352.24" width="7.8" height="7.7" fill="#c6c4ca"/><rect x="205.40" y="352.24" width="7.8" height="7.7" fill="#c6c4ca"/><rect x="215.30" y="352.24" width="7.8" height="7.7" fill="#c6c4ca"/><text x="63" y="358.50" font-size="8.7" text-anchor="end" fill="#111">6p</text><rect x="66.80" y="362.89" width="7.8" height="7.7" fill="#c6c4ca"/><rect x="76.70" y="362.89" width="7.8" height="7.7" fill="#c6c4ca"/><rect x="86.60" y="362.89" width="7.8" height="7.7" fill="#c6c4ca"/><rect x="96.50" y="362.89" width="7.8" height="7.7" fill="#c6c4ca"/><rect x="106.40" y="362.89" width="7.8" height="7.7" fill="#c6c4ca"/><rect x="116.30" y="362.89" width="7.8" height="7.7" fill="#c6c4ca"/><rect x="126.20" y="362.89" width="7.8" height="7.7" fill="#a50028"/><rect x="136.10" y="362.89" width="7.8" height="7.7" fill="#c6c4ca"/><rect x="146.00" y="362.89" width="7.8" height="7.7" fill="#c6c4ca"/><rect x="155.90" y="362.89" width="7.8" height="7.7" fill="#c6c4ca"/><rect x="165.80" y="362.89" width="7.8" height="7.7" fill="#c6c4ca"/><rect x="175.70" y="362.89" width="7.8" height="7.7" fill="#c6c4ca"/><rect x="185.60" y="362.89" width="7.8" height="7.7" fill="#c6c4ca"/><rect x="195.50" y="362.89" width="7.8" height="7.7" fill="#c6c4ca"/><rect x="205.40" y="362.89" width="7.8" height="7.7" fill="#c6c4ca"/><rect x="215.30" y="362.89" width="7.8" height="7.7" fill="#c6c4ca"/><text x="63" y="369.22" font-size="8.7" text-anchor="end" fill="#111">6q</text><rect x="66.80" y="373.55" width="7.8" height="7.7" fill="#c6c4ca"/><rect x="76.70" y="373.55" width="7.8" height="7.7" fill="#c6c4ca"/><rect x="86.60" y="373.55" width="7.8" height="7.7" fill="#c6c4ca"/><rect x="96.50" y="373.55" width="7.8" height="7.7" fill="#c6c4ca"/><rect x="106.40" y="373.55" width="7.8" height="7.7" fill="#c6c4ca"/><rect x="116.30" y="373.55" width="7.8" height="7.7" fill="#c6c4ca"/><rect x="126.20" y="373.55" width="7.8" height="7.7" fill="#c6c4ca"/><rect x="136.10" y="373.55" width="7.8" height="7.7" fill="#2e4a7e"/><rect x="146.00" y="373.55" width="7.8" height="7.7" fill="#c6c4ca"/><rect x="155.90" y="373.55" width="7.8" height="7.7" fill="#c6c4ca"/><rect x="165.80" y="373.55" width="7.8" height="7.7" fill="#c6c4ca"/><rect x="175.70" y="373.55" width="7.8" height="7.7" fill="#c6c4ca"/><rect x="185.60" y="373.55" width="7.8" height="7.7" fill="#c6c4ca"/><rect x="195.50" y="373.55" width="7.8" height="7.7" fill="#c6c4ca"/><rect x="205.40" y="373.55" width="7.8" height="7.7" fill="#2e4a7e"/><rect x="215.30" y="373.55" width="7.8" height="7.7" fill="#c6c4ca"/><text x="63" y="379.95" font-size="8.7" text-anchor="end" fill="#111">6</text><rect x="66.80" y="384.20" width="7.8" height="7.7" fill="#c6c4ca"/><rect x="76.70" y="384.20" width="7.8" height="7.7" fill="#c6c4ca"/><rect x="86.60" y="384.20" width="7.8" height="7.7" fill="#c6c4ca"/><rect x="96.50" y="384.20" width="7.8" height="7.7" fill="#c6c4ca"/><rect x="106.40" y="384.20" width="7.8" height="7.7" fill="#a50028"/><rect x="116.30" y="384.20" width="7.8" height="7.7" fill="#c6c4ca"/><rect x="126.20" y="384.20" width="7.8" height="7.7" fill="#a50028"/><rect x="136.10" y="384.20" width="7.8" height="7.7" fill="#c6c4ca"/><rect x="146.00" y="384.20" width="7.8" height="7.7" fill="#c6c4ca"/><rect x="155.90" y="384.20" width="7.8" height="7.7" fill="#c6c4ca"/><rect x="165.80" y="384.20" width="7.8" height="7.7" fill="#c6c4ca"/><rect x="175.70" y="384.20" width="7.8" height="7.7" fill="#a50028"/><rect x="185.60" y="384.20" width="7.8" height="7.7" fill="#a50028"/><rect x="195.50" y="384.20" width="7.8" height="7.7" fill="#c6c4ca"/><rect x="205.40" y="384.20" width="7.8" height="7.7" fill="#c6c4ca"/><rect x="215.30" y="384.20" width="7.8" height="7.7" fill="#c6c4ca"/><text x="63" y="390.67" font-size="8.7" text-anchor="end" fill="#111">7p</text><rect x="66.80" y="394.86" width="7.8" height="7.7" fill="#c6c4ca"/><rect x="76.70" y="394.86" width="7.8" height="7.7" fill="#c6c4ca"/><rect x="86.60" y="394.86" width="7.8" height="7.7" fill="#c6c4ca"/><rect x="96.50" y="394.86" width="7.8" height="7.7" fill="#c6c4ca"/><rect x="106.40" y="394.86" width="7.8" height="7.7" fill="#a50028"/><rect x="116.30" y="394.86" width="7.8" height="7.7" fill="#c6c4ca"/><rect x="126.20" y="394.86" width="7.8" height="7.7" fill="#a50028"/><rect x="136.10" y="394.86" width="7.8" height="7.7" fill="#c6c4ca"/><rect x="146.00" y="394.86" width="7.8" height="7.7" fill="#a50028"/><rect x="155.90" y="394.86" width="7.8" height="7.7" fill="#c6c4ca"/><rect x="165.80" y="394.86" width="7.8" height="7.7" fill="#c6c4ca"/><rect x="175.70" y="394.86" width="7.8" height="7.7" fill="#a50028"/><rect x="185.60" y="394.86" width="7.8" height="7.7" fill="#a50028"/><rect x="195.50" y="394.86" width="7.8" height="7.7" fill="#c6c4ca"/><rect x="205.40" y="394.86" width="7.8" height="7.7" fill="#c6c4ca"/><rect x="215.30" y="394.86" width="7.8" height="7.7" fill="#c6c4ca"/><text x="63" y="401.40" font-size="8.7" text-anchor="end" fill="#111">7q</text><rect x="66.80" y="405.51" width="7.8" height="7.7" fill="#c6c4ca"/><rect x="76.70" y="405.51" width="7.8" height="7.7" fill="#a50028"/><rect x="86.60" y="405.51" width="7.8" height="7.7" fill="#a50028"/><rect x="96.50" y="405.51" width="7.8" height="7.7" fill="#a50028"/><rect x="106.40" y="405.51" width="7.8" height="7.7" fill="#c6c4ca"/><rect x="116.30" y="405.51" width="7.8" height="7.7" fill="#c6c4ca"/><rect x="126.20" y="405.51" width="7.8" height="7.7" fill="#c6c4ca"/><rect x="136.10" y="405.51" width="7.8" height="7.7" fill="#c6c4ca"/><rect x="146.00" y="405.51" width="7.8" height="7.7" fill="#c6c4ca"/><rect x="155.90" y="405.51" width="7.8" height="7.7" fill="#a50028"/><rect x="165.80" y="405.51" width="7.8" height="7.7" fill="#c6c4ca"/><rect x="175.70" y="405.51" width="7.8" height="7.7" fill="#c6c4ca"/><rect x="185.60" y="405.51" width="7.8" height="7.7" fill="#c6c4ca"/><rect x="195.50" y="405.51" width="7.8" height="7.7" fill="#a50028"/><rect x="205.40" y="405.51" width="7.8" height="7.7" fill="#c6c4ca"/><rect x="215.30" y="405.51" width="7.8" height="7.7" fill="#a50028"/><text x="63" y="412.12" font-size="8.7" text-anchor="end" fill="#111">7</text><rect x="66.80" y="416.17" width="7.8" height="7.7" fill="#c6c4ca"/><rect x="76.70" y="416.17" width="7.8" height="7.7" fill="#c6c4ca"/><rect x="86.60" y="416.17" width="7.8" height="7.7" fill="#a50028"/><rect x="96.50" y="416.17" width="7.8" height="7.7" fill="#c6c4ca"/><rect x="106.40" y="416.17" width="7.8" height="7.7" fill="#c6c4ca"/><rect x="116.30" y="416.17" width="7.8" height="7.7" fill="#c6c4ca"/><rect x="126.20" y="416.17" width="7.8" height="7.7" fill="#c6c4ca"/><rect x="136.10" y="416.17" width="7.8" height="7.7" fill="#c6c4ca"/><rect x="146.00" y="416.17" width="7.8" height="7.7" fill="#c6c4ca"/><rect x="155.90" y="416.17" width="7.8" height="7.7" fill="#c6c4ca"/><rect x="165.80" y="416.17" width="7.8" height="7.7" fill="#c6c4ca"/><rect x="175.70" y="416.17" width="7.8" height="7.7" fill="#c6c4ca"/><rect x="185.60" y="416.17" width="7.8" height="7.7" fill="#c6c4ca"/><rect x="195.50" y="416.17" width="7.8" height="7.7" fill="#c6c4ca"/><rect x="205.40" y="416.17" width="7.8" height="7.7" fill="#a50028"/><path d="M205.40 416.17H213.20V423.87Z" fill="#f0bd10"/><rect x="215.30" y="416.17" width="7.8" height="7.7" fill="#c6c4ca"/><text x="63" y="422.85" font-size="8.7" text-anchor="end" fill="#111">8p</text><rect x="66.80" y="426.82" width="7.8" height="7.7" fill="#c6c4ca"/><rect x="76.70" y="426.82" width="7.8" height="7.7" fill="#c6c4ca"/><rect x="86.60" y="426.82" width="7.8" height="7.7" fill="#2e4a7e"/><rect x="96.50" y="426.82" width="7.8" height="7.7" fill="#c6c4ca"/><rect x="106.40" y="426.82" width="7.8" height="7.7" fill="#2e4a7e"/><path d="M106.40 426.82H114.20V434.52Z" fill="#a50028"/><rect x="116.30" y="426.82" width="7.8" height="7.7" fill="#c6c4ca"/><rect x="126.20" y="426.82" width="7.8" height="7.7" fill="#c6c4ca"/><rect x="136.10" y="426.82" width="7.8" height="7.7" fill="#c6c4ca"/><rect x="146.00" y="426.82" width="7.8" height="7.7" fill="#c6c4ca"/><rect x="155.90" y="426.82" width="7.8" height="7.7" fill="#c6c4ca"/><rect x="165.80" y="426.82" width="7.8" height="7.7" fill="#c6c4ca"/><rect x="175.70" y="426.82" width="7.8" height="7.7" fill="#c6c4ca"/><rect x="185.60" y="426.82" width="7.8" height="7.7" fill="#c6c4ca"/><rect x="195.50" y="426.82" width="7.8" height="7.7" fill="#c6c4ca"/><rect x="205.40" y="426.82" width="7.8" height="7.7" fill="#2e4a7e"/><path d="M205.40 426.82H213.20V434.52Z" fill="#a50028"/><rect x="215.30" y="426.82" width="7.8" height="7.7" fill="#c6c4ca"/><text x="63" y="433.57" font-size="8.7" text-anchor="end" fill="#111">8q</text><rect x="66.80" y="437.48" width="7.8" height="7.7" fill="#c6c4ca"/><rect x="76.70" y="437.48" width="7.8" height="7.7" fill="#c6c4ca"/><rect x="86.60" y="437.48" width="7.8" height="7.7" fill="#c6c4ca"/><rect x="96.50" y="437.48" width="7.8" height="7.7" fill="#2e4a7e"/><rect x="106.40" y="437.48" width="7.8" height="7.7" fill="#c6c4ca"/><rect x="116.30" y="437.48" width="7.8" height="7.7" fill="#c6c4ca"/><rect x="126.20" y="437.48" width="7.8" height="7.7" fill="#2e4a7e"/><rect x="136.10" y="437.48" width="7.8" height="7.7" fill="#2e4a7e"/><rect x="146.00" y="437.48" width="7.8" height="7.7" fill="#c6c4ca"/><rect x="155.90" y="437.48" width="7.8" height="7.7" fill="#c6c4ca"/><rect x="165.80" y="437.48" width="7.8" height="7.7" fill="#c6c4ca"/><rect x="175.70" y="437.48" width="7.8" height="7.7" fill="#c6c4ca"/><rect x="185.60" y="437.48" width="7.8" height="7.7" fill="#c6c4ca"/><rect x="195.50" y="437.48" width="7.8" height="7.7" fill="#c6c4ca"/><rect x="205.40" y="437.48" width="7.8" height="7.7" fill="#c6c4ca"/><rect x="215.30" y="437.48" width="7.8" height="7.7" fill="#2e4a7e"/><text x="63" y="444.30" font-size="8.7" text-anchor="end" fill="#111">8</text><rect x="66.80" y="448.13" width="7.8" height="7.7" fill="#c6c4ca"/><rect x="76.70" y="448.13" width="7.8" height="7.7" fill="#c6c4ca"/><rect x="86.60" y="448.13" width="7.8" height="7.7" fill="#c6c4ca"/><rect x="96.50" y="448.13" width="7.8" height="7.7" fill="#c6c4ca"/><rect x="106.40" y="448.13" width="7.8" height="7.7" fill="#2e4a7e"/><path d="M106.40 448.13H114.20V455.83Z" fill="#a50028"/><rect x="116.30" y="448.13" width="7.8" height="7.7" fill="#c6c4ca"/><rect x="126.20" y="448.13" width="7.8" height="7.7" fill="#c6c4ca"/><rect x="136.10" y="448.13" width="7.8" height="7.7" fill="#c6c4ca"/><rect x="146.00" y="448.13" width="7.8" height="7.7" fill="#c6c4ca"/><rect x="155.90" y="448.13" width="7.8" height="7.7" fill="#c6c4ca"/><rect x="165.80" y="448.13" width="7.8" height="7.7" fill="#c6c4ca"/><rect x="175.70" y="448.13" width="7.8" height="7.7" fill="#c6c4ca"/><rect x="185.60" y="448.13" width="7.8" height="7.7" fill="#c6c4ca"/><rect x="195.50" y="448.13" width="7.8" height="7.7" fill="#c6c4ca"/><rect x="205.40" y="448.13" width="7.8" height="7.7" fill="#c6c4ca"/><rect x="215.30" y="448.13" width="7.8" height="7.7" fill="#c6c4ca"/><text x="63" y="455.02" font-size="8.7" text-anchor="end" fill="#111">9q</text><rect x="66.80" y="458.79" width="7.8" height="7.7" fill="#c6c4ca"/><rect x="76.70" y="458.79" width="7.8" height="7.7" fill="#c6c4ca"/><rect x="86.60" y="458.79" width="7.8" height="7.7" fill="#c6c4ca"/><rect x="96.50" y="458.79" width="7.8" height="7.7" fill="#c6c4ca"/><rect x="106.40" y="458.79" width="7.8" height="7.7" fill="#c6c4ca"/><rect x="116.30" y="458.79" width="7.8" height="7.7" fill="#c6c4ca"/><rect x="126.20" y="458.79" width="7.8" height="7.7" fill="#c6c4ca"/><rect x="136.10" y="458.79" width="7.8" height="7.7" fill="#2e4a7e"/><rect x="146.00" y="458.79" width="7.8" height="7.7" fill="#c6c4ca"/><rect x="155.90" y="458.79" width="7.8" height="7.7" fill="#c6c4ca"/><rect x="165.80" y="458.79" width="7.8" height="7.7" fill="#c6c4ca"/><rect x="175.70" y="458.79" width="7.8" height="7.7" fill="#c6c4ca"/><rect x="185.60" y="458.79" width="7.8" height="7.7" fill="#c6c4ca"/><rect x="195.50" y="458.79" width="7.8" height="7.7" fill="#c6c4ca"/><rect x="205.40" y="458.79" width="7.8" height="7.7" fill="#c6c4ca"/><rect x="215.30" y="458.79" width="7.8" height="7.7" fill="#c6c4ca"/><text x="63" y="465.75" font-size="8.7" text-anchor="end" fill="#111">10</text><rect x="66.80" y="469.44" width="7.8" height="7.7" fill="#c6c4ca"/><rect x="76.70" y="469.44" width="7.8" height="7.7" fill="#c6c4ca"/><rect x="86.60" y="469.44" width="7.8" height="7.7" fill="#c6c4ca"/><rect x="96.50" y="469.44" width="7.8" height="7.7" fill="#c6c4ca"/><rect x="106.40" y="469.44" width="7.8" height="7.7" fill="#a50028"/><rect x="116.30" y="469.44" width="7.8" height="7.7" fill="#c6c4ca"/><rect x="126.20" y="469.44" width="7.8" height="7.7" fill="#c6c4ca"/><rect x="136.10" y="469.44" width="7.8" height="7.7" fill="#c6c4ca"/><rect x="146.00" y="469.44" width="7.8" height="7.7" fill="#c6c4ca"/><rect x="155.90" y="469.44" width="7.8" height="7.7" fill="#c6c4ca"/><rect x="165.80" y="469.44" width="7.8" height="7.7" fill="#c6c4ca"/><rect x="175.70" y="469.44" width="7.8" height="7.7" fill="#c6c4ca"/><rect x="185.60" y="469.44" width="7.8" height="7.7" fill="#c6c4ca"/><rect x="195.50" y="469.44" width="7.8" height="7.7" fill="#c6c4ca"/><rect x="205.40" y="469.44" width="7.8" height="7.7" fill="#c6c4ca"/><rect x="215.30" y="469.44" width="7.8" height="7.7" fill="#c6c4ca"/><text x="63" y="476.48" font-size="8.7" text-anchor="end" fill="#111">11p</text><rect x="66.80" y="480.10" width="7.8" height="7.7" fill="#2e4a7e"/><rect x="76.70" y="480.10" width="7.8" height="7.7" fill="#c6c4ca"/><rect x="86.60" y="480.10" width="7.8" height="7.7" fill="#2e4a7e"/><rect x="96.50" y="480.10" width="7.8" height="7.7" fill="#c6c4ca"/><rect x="106.40" y="480.10" width="7.8" height="7.7" fill="#a50028"/><path d="M106.40 480.10H114.20V487.80Z" fill="#f0bd10"/><rect x="116.30" y="480.10" width="7.8" height="7.7" fill="#c6c4ca"/><rect x="126.20" y="480.10" width="7.8" height="7.7" fill="#c6c4ca"/><rect x="136.10" y="480.10" width="7.8" height="7.7" fill="#c6c4ca"/><rect x="146.00" y="480.10" width="7.8" height="7.7" fill="#c6c4ca"/><rect x="155.90" y="480.10" width="7.8" height="7.7" fill="#c6c4ca"/><rect x="165.80" y="480.10" width="7.8" height="7.7" fill="#c6c4ca"/><rect x="175.70" y="480.10" width="7.8" height="7.7" fill="#c6c4ca"/><rect x="185.60" y="480.10" width="7.8" height="7.7" fill="#c6c4ca"/><rect x="195.50" y="480.10" width="7.8" height="7.7" fill="#c6c4ca"/><rect x="205.40" y="480.10" width="7.8" height="7.7" fill="#c6c4ca"/><rect x="215.30" y="480.10" width="7.8" height="7.7" fill="#c6c4ca"/><text x="63" y="487.20" font-size="8.7" text-anchor="end" fill="#111">11q</text><rect x="66.80" y="490.75" width="7.8" height="7.7" fill="#a50028"/><rect x="76.70" y="490.75" width="7.8" height="7.7" fill="#a50028"/><rect x="86.60" y="490.75" width="7.8" height="7.7" fill="#a50028"/><rect x="96.50" y="490.75" width="7.8" height="7.7" fill="#a50028"/><path d="M96.50 490.75H104.30V498.45Z" fill="#f0bd10"/><rect x="106.40" y="490.75" width="7.8" height="7.7" fill="#c6c4ca"/><rect x="116.30" y="490.75" width="7.8" height="7.7" fill="#c6c4ca"/><rect x="126.20" y="490.75" width="7.8" height="7.7" fill="#c6c4ca"/><rect x="136.10" y="490.75" width="7.8" height="7.7" fill="#c6c4ca"/><rect x="146.00" y="490.75" width="7.8" height="7.7" fill="#c6c4ca"/><rect x="155.90" y="490.75" width="7.8" height="7.7" fill="#c6c4ca"/><rect x="165.80" y="490.75" width="7.8" height="7.7" fill="#c6c4ca"/><rect x="175.70" y="490.75" width="7.8" height="7.7" fill="#a50028"/><rect x="185.60" y="490.75" width="7.8" height="7.7" fill="#c6c4ca"/><rect x="195.50" y="490.75" width="7.8" height="7.7" fill="#c6c4ca"/><rect x="205.40" y="490.75" width="7.8" height="7.7" fill="#a50028"/><rect x="215.30" y="490.75" width="7.8" height="7.7" fill="#c6c4ca"/><text x="63" y="497.92" font-size="8.7" text-anchor="end" fill="#111">12p</text><rect x="66.80" y="501.41" width="7.8" height="7.7" fill="#c6c4ca"/><rect x="76.70" y="501.41" width="7.8" height="7.7" fill="#c6c4ca"/><rect x="86.60" y="501.41" width="7.8" height="7.7" fill="#c6c4ca"/><path d="M86.60 501.41H94.40V509.11Z" fill="#f0bd10"/><rect x="96.50" y="501.41" width="7.8" height="7.7" fill="#a50028"/><rect x="106.40" y="501.41" width="7.8" height="7.7" fill="#c6c4ca"/><rect x="116.30" y="501.41" width="7.8" height="7.7" fill="#c6c4ca"/><rect x="126.20" y="501.41" width="7.8" height="7.7" fill="#c6c4ca"/><rect x="136.10" y="501.41" width="7.8" height="7.7" fill="#c6c4ca"/><rect x="146.00" y="501.41" width="7.8" height="7.7" fill="#c6c4ca"/><rect x="155.90" y="501.41" width="7.8" height="7.7" fill="#c6c4ca"/><rect x="165.80" y="501.41" width="7.8" height="7.7" fill="#c6c4ca"/><rect x="175.70" y="501.41" width="7.8" height="7.7" fill="#a50028"/><rect x="185.60" y="501.41" width="7.8" height="7.7" fill="#c6c4ca"/><rect x="195.50" y="501.41" width="7.8" height="7.7" fill="#c6c4ca"/><rect x="205.40" y="501.41" width="7.8" height="7.7" fill="#a50028"/><rect x="215.30" y="501.41" width="7.8" height="7.7" fill="#c6c4ca"/><text x="63" y="508.65" font-size="8.7" text-anchor="end" fill="#111">12q</text><rect x="66.80" y="512.07" width="7.8" height="7.7" fill="#c6c4ca"/><rect x="76.70" y="512.07" width="7.8" height="7.7" fill="#c6c4ca"/><rect x="86.60" y="512.07" width="7.8" height="7.7" fill="#c6c4ca"/><rect x="96.50" y="512.07" width="7.8" height="7.7" fill="#c6c4ca"/><rect x="106.40" y="512.07" width="7.8" height="7.7" fill="#c6c4ca"/><rect x="116.30" y="512.07" width="7.8" height="7.7" fill="#c6c4ca"/><rect x="126.20" y="512.07" width="7.8" height="7.7" fill="#c6c4ca"/><rect x="136.10" y="512.07" width="7.8" height="7.7" fill="#c6c4ca"/><rect x="146.00" y="512.07" width="7.8" height="7.7" fill="#c6c4ca"/><rect x="155.90" y="512.07" width="7.8" height="7.7" fill="#c6c4ca"/><rect x="165.80" y="512.07" width="7.8" height="7.7" fill="#c6c4ca"/><rect x="175.70" y="512.07" width="7.8" height="7.7" fill="#a50028"/><rect x="185.60" y="512.07" width="7.8" height="7.7" fill="#c6c4ca"/><rect x="195.50" y="512.07" width="7.8" height="7.7" fill="#c6c4ca"/><rect x="205.40" y="512.07" width="7.8" height="7.7" fill="#2e4a7e"/><path d="M205.40 512.07H213.20V519.77Z" fill="#a50028"/><rect x="215.30" y="512.07" width="7.8" height="7.7" fill="#c6c4ca"/><text x="63" y="519.38" font-size="8.7" text-anchor="end" fill="#111">13q</text><rect x="66.80" y="522.72" width="7.8" height="7.7" fill="#c6c4ca"/><rect x="76.70" y="522.72" width="7.8" height="7.7" fill="#c6c4ca"/><rect x="86.60" y="522.72" width="7.8" height="7.7" fill="#c6c4ca"/><rect x="96.50" y="522.72" width="7.8" height="7.7" fill="#c6c4ca"/><rect x="106.40" y="522.72" width="7.8" height="7.7" fill="#c6c4ca"/><rect x="116.30" y="522.72" width="7.8" height="7.7" fill="#c6c4ca"/><rect x="126.20" y="522.72" width="7.8" height="7.7" fill="#c6c4ca"/><rect x="136.10" y="522.72" width="7.8" height="7.7" fill="#2e4a7e"/><rect x="146.00" y="522.72" width="7.8" height="7.7" fill="#c6c4ca"/><rect x="155.90" y="522.72" width="7.8" height="7.7" fill="#c6c4ca"/><rect x="165.80" y="522.72" width="7.8" height="7.7" fill="#c6c4ca"/><rect x="175.70" y="522.72" width="7.8" height="7.7" fill="#c6c4ca"/><rect x="185.60" y="522.72" width="7.8" height="7.7" fill="#c6c4ca"/><path d="M185.60 522.72H193.40V530.42Z" fill="#f0bd10"/><rect x="195.50" y="522.72" width="7.8" height="7.7" fill="#c6c4ca"/><rect x="205.40" y="522.72" width="7.8" height="7.7" fill="#c6c4ca"/><rect x="215.30" y="522.72" width="7.8" height="7.7" fill="#c6c4ca"/><text x="63" y="530.10" font-size="8.7" text-anchor="end" fill="#111">13</text><rect x="66.80" y="533.38" width="7.8" height="7.7" fill="#c6c4ca"/><rect x="76.70" y="533.38" width="7.8" height="7.7" fill="#c6c4ca"/><rect x="86.60" y="533.38" width="7.8" height="7.7" fill="#c6c4ca"/><rect x="96.50" y="533.38" width="7.8" height="7.7" fill="#c6c4ca"/><rect x="106.40" y="533.38" width="7.8" height="7.7" fill="#c6c4ca"/><rect x="116.30" y="533.38" width="7.8" height="7.7" fill="#c6c4ca"/><rect x="126.20" y="533.38" width="7.8" height="7.7" fill="#c6c4ca"/><rect x="136.10" y="533.38" width="7.8" height="7.7" fill="#c6c4ca"/><rect x="146.00" y="533.38" width="7.8" height="7.7" fill="#c6c4ca"/><rect x="155.90" y="533.38" width="7.8" height="7.7" fill="#c6c4ca"/><rect x="165.80" y="533.38" width="7.8" height="7.7" fill="#c6c4ca"/><rect x="175.70" y="533.38" width="7.8" height="7.7" fill="#a50028"/><rect x="185.60" y="533.38" width="7.8" height="7.7" fill="#c6c4ca"/><rect x="195.50" y="533.38" width="7.8" height="7.7" fill="#c6c4ca"/><rect x="205.40" y="533.38" width="7.8" height="7.7" fill="#c6c4ca"/><rect x="215.30" y="533.38" width="7.8" height="7.7" fill="#c6c4ca"/><text x="63" y="540.83" font-size="8.7" text-anchor="end" fill="#111">14</text><rect x="66.80" y="544.03" width="7.8" height="7.7" fill="#c6c4ca"/><rect x="76.70" y="544.03" width="7.8" height="7.7" fill="#c6c4ca"/><rect x="86.60" y="544.03" width="7.8" height="7.7" fill="#a50028"/><rect x="96.50" y="544.03" width="7.8" height="7.7" fill="#c6c4ca"/><rect x="106.40" y="544.03" width="7.8" height="7.7" fill="#c6c4ca"/><rect x="116.30" y="544.03" width="7.8" height="7.7" fill="#c6c4ca"/><rect x="126.20" y="544.03" width="7.8" height="7.7" fill="#c6c4ca"/><rect x="136.10" y="544.03" width="7.8" height="7.7" fill="#c6c4ca"/><rect x="146.00" y="544.03" width="7.8" height="7.7" fill="#c6c4ca"/><rect x="155.90" y="544.03" width="7.8" height="7.7" fill="#c6c4ca"/><rect x="165.80" y="544.03" width="7.8" height="7.7" fill="#c6c4ca"/><rect x="175.70" y="544.03" width="7.8" height="7.7" fill="#c6c4ca"/><rect x="185.60" y="544.03" width="7.8" height="7.7" fill="#c6c4ca"/><rect x="195.50" y="544.03" width="7.8" height="7.7" fill="#c6c4ca"/><rect x="205.40" y="544.03" width="7.8" height="7.7" fill="#c6c4ca"/><rect x="215.30" y="544.03" width="7.8" height="7.7" fill="#c6c4ca"/><text x="63" y="551.55" font-size="8.7" text-anchor="end" fill="#111">15q</text><rect x="66.80" y="554.68" width="7.8" height="7.7" fill="#2e4a7e"/><rect x="76.70" y="554.68" width="7.8" height="7.7" fill="#c6c4ca"/><rect x="86.60" y="554.68" width="7.8" height="7.7" fill="#c6c4ca"/><rect x="96.50" y="554.68" width="7.8" height="7.7" fill="#a50028"/><rect x="106.40" y="554.68" width="7.8" height="7.7" fill="#c6c4ca"/><rect x="116.30" y="554.68" width="7.8" height="7.7" fill="#c6c4ca"/><rect x="126.20" y="554.68" width="7.8" height="7.7" fill="#c6c4ca"/><rect x="136.10" y="554.68" width="7.8" height="7.7" fill="#c6c4ca"/><rect x="146.00" y="554.68" width="7.8" height="7.7" fill="#c6c4ca"/><rect x="155.90" y="554.68" width="7.8" height="7.7" fill="#c6c4ca"/><rect x="165.80" y="554.68" width="7.8" height="7.7" fill="#c6c4ca"/><rect x="175.70" y="554.68" width="7.8" height="7.7" fill="#c6c4ca"/><rect x="185.60" y="554.68" width="7.8" height="7.7" fill="#c6c4ca"/><rect x="195.50" y="554.68" width="7.8" height="7.7" fill="#c6c4ca"/><rect x="205.40" y="554.68" width="7.8" height="7.7" fill="#c6c4ca"/><rect x="215.30" y="554.68" width="7.8" height="7.7" fill="#c6c4ca"/><text x="63" y="562.27" font-size="8.7" text-anchor="end" fill="#111">15</text><rect x="66.80" y="565.34" width="7.8" height="7.7" fill="#a50028"/><path d="M66.80 565.34H74.60V573.04Z" fill="#f0bd10"/><rect x="76.70" y="565.34" width="7.8" height="7.7" fill="#c6c4ca"/><rect x="86.60" y="565.34" width="7.8" height="7.7" fill="#c6c4ca"/><rect x="96.50" y="565.34" width="7.8" height="7.7" fill="#c6c4ca"/><rect x="106.40" y="565.34" width="7.8" height="7.7" fill="#c6c4ca"/><rect x="116.30" y="565.34" width="7.8" height="7.7" fill="#c6c4ca"/><rect x="126.20" y="565.34" width="7.8" height="7.7" fill="#c6c4ca"/><rect x="136.10" y="565.34" width="7.8" height="7.7" fill="#c6c4ca"/><rect x="146.00" y="565.34" width="7.8" height="7.7" fill="#c6c4ca"/><rect x="155.90" y="565.34" width="7.8" height="7.7" fill="#c6c4ca"/><rect x="165.80" y="565.34" width="7.8" height="7.7" fill="#c6c4ca"/><rect x="175.70" y="565.34" width="7.8" height="7.7" fill="#a50028"/><path d="M175.70 565.34H183.50V573.04Z" fill="#f0bd10"/><rect x="185.60" y="565.34" width="7.8" height="7.7" fill="#c6c4ca"/><rect x="195.50" y="565.34" width="7.8" height="7.7" fill="#c6c4ca"/><rect x="205.40" y="565.34" width="7.8" height="7.7" fill="#c6c4ca"/><rect x="215.30" y="565.34" width="7.8" height="7.7" fill="#c6c4ca"/><text x="63" y="573.00" font-size="8.7" text-anchor="end" fill="#111">16p</text><rect x="66.80" y="576.00" width="7.8" height="7.7" fill="#c6c4ca"/><rect x="76.70" y="576.00" width="7.8" height="7.7" fill="#c6c4ca"/><rect x="86.60" y="576.00" width="7.8" height="7.7" fill="#a50028"/><rect x="96.50" y="576.00" width="7.8" height="7.7" fill="#c6c4ca"/><rect x="106.40" y="576.00" width="7.8" height="7.7" fill="#c6c4ca"/><rect x="116.30" y="576.00" width="7.8" height="7.7" fill="#c6c4ca"/><rect x="126.20" y="576.00" width="7.8" height="7.7" fill="#c6c4ca"/><rect x="136.10" y="576.00" width="7.8" height="7.7" fill="#c6c4ca"/><rect x="146.00" y="576.00" width="7.8" height="7.7" fill="#c6c4ca"/><rect x="155.90" y="576.00" width="7.8" height="7.7" fill="#c6c4ca"/><rect x="165.80" y="576.00" width="7.8" height="7.7" fill="#c6c4ca"/><rect x="175.70" y="576.00" width="7.8" height="7.7" fill="#c6c4ca"/><rect x="185.60" y="576.00" width="7.8" height="7.7" fill="#c6c4ca"/><path d="M185.60 576.00H193.40V583.70Z" fill="#f0bd10"/><rect x="195.50" y="576.00" width="7.8" height="7.7" fill="#c6c4ca"/><rect x="205.40" y="576.00" width="7.8" height="7.7" fill="#c6c4ca"/><rect x="215.30" y="576.00" width="7.8" height="7.7" fill="#c6c4ca"/><text x="63" y="583.72" font-size="8.7" text-anchor="end" fill="#111">16q</text><rect x="66.80" y="586.65" width="7.8" height="7.7" fill="#c6c4ca"/><rect x="76.70" y="586.65" width="7.8" height="7.7" fill="#c6c4ca"/><rect x="86.60" y="586.65" width="7.8" height="7.7" fill="#c6c4ca"/><rect x="96.50" y="586.65" width="7.8" height="7.7" fill="#c6c4ca"/><rect x="106.40" y="586.65" width="7.8" height="7.7" fill="#c6c4ca"/><rect x="116.30" y="586.65" width="7.8" height="7.7" fill="#c6c4ca"/><rect x="126.20" y="586.65" width="7.8" height="7.7" fill="#c6c4ca"/><rect x="136.10" y="586.65" width="7.8" height="7.7" fill="#c6c4ca"/><rect x="146.00" y="586.65" width="7.8" height="7.7" fill="#c6c4ca"/><rect x="155.90" y="586.65" width="7.8" height="7.7" fill="#c6c4ca"/><rect x="165.80" y="586.65" width="7.8" height="7.7" fill="#c6c4ca"/><rect x="175.70" y="586.65" width="7.8" height="7.7" fill="#c6c4ca"/><rect x="185.60" y="586.65" width="7.8" height="7.7" fill="#c6c4ca"/><rect x="195.50" y="586.65" width="7.8" height="7.7" fill="#c6c4ca"/><rect x="205.40" y="586.65" width="7.8" height="7.7" fill="#a50028"/><rect x="215.30" y="586.65" width="7.8" height="7.7" fill="#c6c4ca"/><text x="63" y="594.45" font-size="8.7" text-anchor="end" fill="#111">16</text><rect x="66.80" y="597.31" width="7.8" height="7.7" fill="#2d6446"/><rect x="69.70" y="600.16" width="2" height="2" fill="#fff"/><rect x="76.70" y="597.31" width="7.8" height="7.7" fill="#c6c4ca"/><rect x="86.60" y="597.31" width="7.8" height="7.7" fill="#a50028"/><rect x="89.50" y="600.16" width="2" height="2" fill="#fff"/><rect x="96.50" y="597.31" width="7.8" height="7.7" fill="#a50028"/><rect x="99.40" y="600.16" width="2" height="2" fill="#fff"/><rect x="106.40" y="597.31" width="7.8" height="7.7" fill="#a50028"/><rect x="116.30" y="597.31" width="7.8" height="7.7" fill="#c6c4ca"/><rect x="126.20" y="597.31" width="7.8" height="7.7" fill="#a50028"/><rect x="129.10" y="600.16" width="2" height="2" fill="#fff"/><rect x="136.10" y="597.31" width="7.8" height="7.7" fill="#c6c4ca"/><rect x="146.00" y="597.31" width="7.8" height="7.7" fill="#a50028"/><rect x="155.90" y="597.31" width="7.8" height="7.7" fill="#c6c4ca"/><rect x="165.80" y="597.31" width="7.8" height="7.7" fill="#c6c4ca"/><rect x="175.70" y="597.31" width="7.8" height="7.7" fill="#c6c4ca"/><rect x="185.60" y="597.31" width="7.8" height="7.7" fill="#c6c4ca"/><rect x="195.50" y="597.31" width="7.8" height="7.7" fill="#c6c4ca"/><rect x="205.40" y="597.31" width="7.8" height="7.7" fill="#a50028"/><rect x="208.30" y="600.16" width="2" height="2" fill="#fff"/><rect x="215.30" y="597.31" width="7.8" height="7.7" fill="#c6c4ca"/><text x="63" y="605.17" font-size="8.7" text-anchor="end" fill="#111">17p</text><rect x="66.80" y="607.96" width="7.8" height="7.7" fill="#c6c4ca"/><rect x="76.70" y="607.96" width="7.8" height="7.7" fill="#c6c4ca"/><rect x="86.60" y="607.96" width="7.8" height="7.7" fill="#a50028"/><rect x="96.50" y="607.96" width="7.8" height="7.7" fill="#c6c4ca"/><rect x="106.40" y="607.96" width="7.8" height="7.7" fill="#a50028"/><rect x="116.30" y="607.96" width="7.8" height="7.7" fill="#c6c4ca"/><rect x="126.20" y="607.96" width="7.8" height="7.7" fill="#a50028"/><rect x="136.10" y="607.96" width="7.8" height="7.7" fill="#a50028"/><rect x="146.00" y="607.96" width="7.8" height="7.7" fill="#c6c4ca"/><path d="M146.00 607.96H153.80V615.66Z" fill="#f0bd10"/><rect x="155.90" y="607.96" width="7.8" height="7.7" fill="#c6c4ca"/><rect x="165.80" y="607.96" width="7.8" height="7.7" fill="#c6c4ca"/><rect x="175.70" y="607.96" width="7.8" height="7.7" fill="#c6c4ca"/><rect x="185.60" y="607.96" width="7.8" height="7.7" fill="#c6c4ca"/><rect x="195.50" y="607.96" width="7.8" height="7.7" fill="#c6c4ca"/><rect x="205.40" y="607.96" width="7.8" height="7.7" fill="#a50028"/><rect x="215.30" y="607.96" width="7.8" height="7.7" fill="#c6c4ca"/><text x="63" y="615.90" font-size="8.7" text-anchor="end" fill="#111">17q</text><rect x="66.80" y="618.62" width="7.8" height="7.7" fill="#c6c4ca"/><rect x="76.70" y="618.62" width="7.8" height="7.7" fill="#c6c4ca"/><rect x="86.60" y="618.62" width="7.8" height="7.7" fill="#c6c4ca"/><rect x="96.50" y="618.62" width="7.8" height="7.7" fill="#c6c4ca"/><rect x="106.40" y="618.62" width="7.8" height="7.7" fill="#c6c4ca"/><rect x="116.30" y="618.62" width="7.8" height="7.7" fill="#c6c4ca"/><rect x="126.20" y="618.62" width="7.8" height="7.7" fill="#c6c4ca"/><rect x="136.10" y="618.62" width="7.8" height="7.7" fill="#c6c4ca"/><rect x="146.00" y="618.62" width="7.8" height="7.7" fill="#c6c4ca"/><rect x="155.90" y="618.62" width="7.8" height="7.7" fill="#c6c4ca"/><rect x="165.80" y="618.62" width="7.8" height="7.7" fill="#c6c4ca"/><rect x="175.70" y="618.62" width="7.8" height="7.7" fill="#c6c4ca"/><rect x="185.60" y="618.62" width="7.8" height="7.7" fill="#c6c4ca"/><rect x="195.50" y="618.62" width="7.8" height="7.7" fill="#c6c4ca"/><rect x="205.40" y="618.62" width="7.8" height="7.7" fill="#a50028"/><rect x="215.30" y="618.62" width="7.8" height="7.7" fill="#c6c4ca"/><text x="63" y="626.62" font-size="8.7" text-anchor="end" fill="#111">18p</text><rect x="66.80" y="629.27" width="7.8" height="7.7" fill="#c6c4ca"/><rect x="76.70" y="629.27" width="7.8" height="7.7" fill="#c6c4ca"/><rect x="86.60" y="629.27" width="7.8" height="7.7" fill="#a50028"/><rect x="96.50" y="629.27" width="7.8" height="7.7" fill="#c6c4ca"/><rect x="106.40" y="629.27" width="7.8" height="7.7" fill="#c6c4ca"/><rect x="116.30" y="629.27" width="7.8" height="7.7" fill="#c6c4ca"/><rect x="126.20" y="629.27" width="7.8" height="7.7" fill="#c6c4ca"/><rect x="136.10" y="629.27" width="7.8" height="7.7" fill="#c6c4ca"/><rect x="146.00" y="629.27" width="7.8" height="7.7" fill="#c6c4ca"/><rect x="155.90" y="629.27" width="7.8" height="7.7" fill="#c6c4ca"/><rect x="165.80" y="629.27" width="7.8" height="7.7" fill="#c6c4ca"/><rect x="175.70" y="629.27" width="7.8" height="7.7" fill="#c6c4ca"/><rect x="185.60" y="629.27" width="7.8" height="7.7" fill="#c6c4ca"/><rect x="195.50" y="629.27" width="7.8" height="7.7" fill="#c6c4ca"/><rect x="205.40" y="629.27" width="7.8" height="7.7" fill="#c6c4ca"/><rect x="215.30" y="629.27" width="7.8" height="7.7" fill="#c6c4ca"/><text x="63" y="637.35" font-size="8.7" text-anchor="end" fill="#111">18</text><rect x="66.80" y="639.92" width="7.8" height="7.7" fill="#c6c4ca"/><rect x="76.70" y="639.92" width="7.8" height="7.7" fill="#c6c4ca"/><rect x="86.60" y="639.92" width="7.8" height="7.7" fill="#c6c4ca"/><rect x="96.50" y="639.92" width="7.8" height="7.7" fill="#c6c4ca"/><rect x="106.40" y="639.92" width="7.8" height="7.7" fill="#c6c4ca"/><rect x="116.30" y="639.92" width="7.8" height="7.7" fill="#c6c4ca"/><rect x="126.20" y="639.92" width="7.8" height="7.7" fill="#c6c4ca"/><rect x="136.10" y="639.92" width="7.8" height="7.7" fill="#c6c4ca"/><rect x="146.00" y="639.92" width="7.8" height="7.7" fill="#c6c4ca"/><rect x="155.90" y="639.92" width="7.8" height="7.7" fill="#c6c4ca"/><rect x="165.80" y="639.92" width="7.8" height="7.7" fill="#c6c4ca"/><rect x="175.70" y="639.92" width="7.8" height="7.7" fill="#c6c4ca"/><rect x="185.60" y="639.92" width="7.8" height="7.7" fill="#2e4a7e"/><rect x="195.50" y="639.92" width="7.8" height="7.7" fill="#c6c4ca"/><rect x="205.40" y="639.92" width="7.8" height="7.7" fill="#c6c4ca"/><rect x="215.30" y="639.92" width="7.8" height="7.7" fill="#c6c4ca"/><text x="63" y="648.08" font-size="8.7" text-anchor="end" fill="#111">19</text><rect x="66.80" y="650.58" width="7.8" height="7.7" fill="#c6c4ca"/><rect x="76.70" y="650.58" width="7.8" height="7.7" fill="#c6c4ca"/><rect x="86.60" y="650.58" width="7.8" height="7.7" fill="#c6c4ca"/><rect x="96.50" y="650.58" width="7.8" height="7.7" fill="#c6c4ca"/><rect x="106.40" y="650.58" width="7.8" height="7.7" fill="#c6c4ca"/><rect x="116.30" y="650.58" width="7.8" height="7.7" fill="#c6c4ca"/><rect x="126.20" y="650.58" width="7.8" height="7.7" fill="#a50028"/><rect x="136.10" y="650.58" width="7.8" height="7.7" fill="#c6c4ca"/><rect x="146.00" y="650.58" width="7.8" height="7.7" fill="#c6c4ca"/><rect x="155.90" y="650.58" width="7.8" height="7.7" fill="#c6c4ca"/><rect x="165.80" y="650.58" width="7.8" height="7.7" fill="#c6c4ca"/><rect x="175.70" y="650.58" width="7.8" height="7.7" fill="#c6c4ca"/><rect x="185.60" y="650.58" width="7.8" height="7.7" fill="#2e4a7e"/><rect x="195.50" y="650.58" width="7.8" height="7.7" fill="#c6c4ca"/><rect x="205.40" y="650.58" width="7.8" height="7.7" fill="#c6c4ca"/><rect x="215.30" y="650.58" width="7.8" height="7.7" fill="#c6c4ca"/><text x="63" y="658.80" font-size="8.7" text-anchor="end" fill="#111">20p</text><rect x="66.80" y="661.23" width="7.8" height="7.7" fill="#c6c4ca"/><rect x="76.70" y="661.23" width="7.8" height="7.7" fill="#a50028"/><rect x="86.60" y="661.23" width="7.8" height="7.7" fill="#c6c4ca"/><rect x="96.50" y="661.23" width="7.8" height="7.7" fill="#c6c4ca"/><rect x="106.40" y="661.23" width="7.8" height="7.7" fill="#c6c4ca"/><rect x="116.30" y="661.23" width="7.8" height="7.7" fill="#c6c4ca"/><rect x="126.20" y="661.23" width="7.8" height="7.7" fill="#c6c4ca"/><rect x="136.10" y="661.23" width="7.8" height="7.7" fill="#c6c4ca"/><rect x="146.00" y="661.23" width="7.8" height="7.7" fill="#c6c4ca"/><rect x="155.90" y="661.23" width="7.8" height="7.7" fill="#c6c4ca"/><rect x="165.80" y="661.23" width="7.8" height="7.7" fill="#c6c4ca"/><rect x="175.70" y="661.23" width="7.8" height="7.7" fill="#c6c4ca"/><rect x="185.60" y="661.23" width="7.8" height="7.7" fill="#2e4a7e"/><path d="M185.60 661.23H193.40V668.93Z" fill="#a50028"/><rect x="195.50" y="661.23" width="7.8" height="7.7" fill="#c6c4ca"/><rect x="205.40" y="661.23" width="7.8" height="7.7" fill="#a50028"/><rect x="215.30" y="661.23" width="7.8" height="7.7" fill="#c6c4ca"/><text x="63" y="669.52" font-size="8.7" text-anchor="end" fill="#111">20q</text><rect x="66.80" y="671.89" width="7.8" height="7.7" fill="#c6c4ca"/><rect x="76.70" y="671.89" width="7.8" height="7.7" fill="#c6c4ca"/><rect x="86.60" y="671.89" width="7.8" height="7.7" fill="#c6c4ca"/><rect x="96.50" y="671.89" width="7.8" height="7.7" fill="#c6c4ca"/><rect x="106.40" y="671.89" width="7.8" height="7.7" fill="#c6c4ca"/><rect x="116.30" y="671.89" width="7.8" height="7.7" fill="#c6c4ca"/><rect x="126.20" y="671.89" width="7.8" height="7.7" fill="#c6c4ca"/><rect x="136.10" y="671.89" width="7.8" height="7.7" fill="#c6c4ca"/><rect x="146.00" y="671.89" width="7.8" height="7.7" fill="#2e4a7e"/><path d="M146.00 671.89H153.80V679.59Z" fill="#f0bd10"/><rect x="155.90" y="671.89" width="7.8" height="7.7" fill="#c6c4ca"/><rect x="165.80" y="671.89" width="7.8" height="7.7" fill="#c6c4ca"/><rect x="175.70" y="671.89" width="7.8" height="7.7" fill="#c6c4ca"/><rect x="185.60" y="671.89" width="7.8" height="7.7" fill="#c6c4ca"/><rect x="195.50" y="671.89" width="7.8" height="7.7" fill="#c6c4ca"/><rect x="205.40" y="671.89" width="7.8" height="7.7" fill="#c6c4ca"/><rect x="215.30" y="671.89" width="7.8" height="7.7" fill="#a50028"/><text x="63" y="680.25" font-size="8.7" text-anchor="end" fill="#111">21q</text><rect x="66.80" y="682.54" width="7.8" height="7.7" fill="#c6c4ca"/><rect x="76.70" y="682.54" width="7.8" height="7.7" fill="#c6c4ca"/><rect x="86.60" y="682.54" width="7.8" height="7.7" fill="#c6c4ca"/><rect x="96.50" y="682.54" width="7.8" height="7.7" fill="#c6c4ca"/><rect x="106.40" y="682.54" width="7.8" height="7.7" fill="#c6c4ca"/><rect x="116.30" y="682.54" width="7.8" height="7.7" fill="#c6c4ca"/><rect x="126.20" y="682.54" width="7.8" height="7.7" fill="#c6c4ca"/><rect x="136.10" y="682.54" width="7.8" height="7.7" fill="#c6c4ca"/><rect x="146.00" y="682.54" width="7.8" height="7.7" fill="#c6c4ca"/><rect x="155.90" y="682.54" width="7.8" height="7.7" fill="#c6c4ca"/><rect x="165.80" y="682.54" width="7.8" height="7.7" fill="#c6c4ca"/><rect x="175.70" y="682.54" width="7.8" height="7.7" fill="#c6c4ca"/><rect x="185.60" y="682.54" width="7.8" height="7.7" fill="#2e4a7e"/><rect x="195.50" y="682.54" width="7.8" height="7.7" fill="#c6c4ca"/><rect x="205.40" y="682.54" width="7.8" height="7.7" fill="#c6c4ca"/><rect x="215.30" y="682.54" width="7.8" height="7.7" fill="#c6c4ca"/><text x="63" y="690.97" font-size="8.7" text-anchor="end" fill="#111">21</text><rect x="66.80" y="693.20" width="7.8" height="7.7" fill="#c6c4ca"/><rect x="76.70" y="693.20" width="7.8" height="7.7" fill="#c6c4ca"/><rect x="86.60" y="693.20" width="7.8" height="7.7" fill="#a50028"/><path d="M86.60 693.20H94.40V700.90Z" fill="#f0bd10"/><rect x="96.50" y="693.20" width="7.8" height="7.7" fill="#c6c4ca"/><rect x="106.40" y="693.20" width="7.8" height="7.7" fill="#c6c4ca"/><rect x="116.30" y="693.20" width="7.8" height="7.7" fill="#c6c4ca"/><rect x="126.20" y="693.20" width="7.8" height="7.7" fill="#c6c4ca"/><rect x="136.10" y="693.20" width="7.8" height="7.7" fill="#c6c4ca"/><rect x="146.00" y="693.20" width="7.8" height="7.7" fill="#c6c4ca"/><rect x="155.90" y="693.20" width="7.8" height="7.7" fill="#c6c4ca"/><rect x="165.80" y="693.20" width="7.8" height="7.7" fill="#c6c4ca"/><rect x="175.70" y="693.20" width="7.8" height="7.7" fill="#c6c4ca"/><rect x="185.60" y="693.20" width="7.8" height="7.7" fill="#c6c4ca"/><rect x="195.50" y="693.20" width="7.8" height="7.7" fill="#c6c4ca"/><rect x="205.40" y="693.20" width="7.8" height="7.7" fill="#c6c4ca"/><rect x="215.30" y="693.20" width="7.8" height="7.7" fill="#c6c4ca"/><text x="63" y="701.70" font-size="8.7" text-anchor="end" fill="#111">22q</text><rect x="66.80" y="703.86" width="7.8" height="7.7" fill="#c6c4ca"/><rect x="76.70" y="703.86" width="7.8" height="7.7" fill="#c6c4ca"/><rect x="86.60" y="703.86" width="7.8" height="7.7" fill="#c6c4ca"/><rect x="96.50" y="703.86" width="7.8" height="7.7" fill="#c6c4ca"/><rect x="106.40" y="703.86" width="7.8" height="7.7" fill="#c6c4ca"/><rect x="116.30" y="703.86" width="7.8" height="7.7" fill="#c6c4ca"/><rect x="126.20" y="703.86" width="7.8" height="7.7" fill="#c6c4ca"/><rect x="136.10" y="703.86" width="7.8" height="7.7" fill="#c6c4ca"/><rect x="146.00" y="703.86" width="7.8" height="7.7" fill="#c6c4ca"/><rect x="155.90" y="703.86" width="7.8" height="7.7" fill="#c6c4ca"/><rect x="165.80" y="703.86" width="7.8" height="7.7" fill="#c6c4ca"/><rect x="175.70" y="703.86" width="7.8" height="7.7" fill="#c6c4ca"/><rect x="185.60" y="703.86" width="7.8" height="7.7" fill="#c6c4ca"/><rect x="195.50" y="703.86" width="7.8" height="7.7" fill="#c6c4ca"/><rect x="205.40" y="703.86" width="7.8" height="7.7" fill="#2e4a7e"/><rect x="215.30" y="703.86" width="7.8" height="7.7" fill="#c6c4ca"/><text x="63" y="712.42" font-size="8.7" text-anchor="end" fill="#111">22</text><rect x="66.80" y="714.51" width="7.8" height="7.7" fill="#c6c4ca"/><rect x="76.70" y="714.51" width="7.8" height="7.7" fill="#c6c4ca"/><rect x="86.60" y="714.51" width="7.8" height="7.7" fill="#c6c4ca"/><rect x="96.50" y="714.51" width="7.8" height="7.7" fill="#c6c4ca"/><rect x="106.40" y="714.51" width="7.8" height="7.7" fill="#c6c4ca"/><rect x="116.30" y="714.51" width="7.8" height="7.7" fill="#c6c4ca"/><rect x="126.20" y="714.51" width="7.8" height="7.7" fill="#c6c4ca"/><rect x="136.10" y="714.51" width="7.8" height="7.7" fill="#c6c4ca"/><rect x="146.00" y="714.51" width="7.8" height="7.7" fill="#c6c4ca"/><rect x="155.90" y="714.51" width="7.8" height="7.7" fill="#c6c4ca"/><rect x="165.80" y="714.51" width="7.8" height="7.7" fill="#c6c4ca"/><rect x="175.70" y="714.51" width="7.8" height="7.7" fill="#2e4a7e"/><rect x="185.60" y="714.51" width="7.8" height="7.7" fill="#c6c4ca"/><rect x="195.50" y="714.51" width="7.8" height="7.7" fill="#c6c4ca"/><rect x="205.40" y="714.51" width="7.8" height="7.7" fill="#c6c4ca"/><rect x="215.30" y="714.51" width="7.8" height="7.7" fill="#c6c4ca"/><text x="63" y="723.15" font-size="8.7" text-anchor="end" fill="#111">Y</text><rect x="66.80" y="728.10" width="7.8" height="7.7" fill="#000"/><rect x="76.70" y="728.10" width="7.8" height="7.7" fill="#c6c4ca"/><rect x="86.60" y="728.10" width="7.8" height="7.7" fill="#000"/><rect x="96.50" y="728.10" width="7.8" height="7.7" fill="#000"/><rect x="106.40" y="728.10" width="7.8" height="7.7" fill="#000"/><rect x="116.30" y="728.10" width="7.8" height="7.7" fill="#000"/><rect x="126.20" y="728.10" width="7.8" height="7.7" fill="#000"/><rect x="136.10" y="728.10" width="7.8" height="7.7" fill="#000"/><rect x="146.00" y="728.10" width="7.8" height="7.7" fill="#000"/><rect x="155.90" y="728.10" width="7.8" height="7.7" fill="#000"/><rect x="165.80" y="728.10" width="7.8" height="7.7" fill="#000"/><rect x="175.70" y="728.10" width="7.8" height="7.7" fill="#c6c4ca"/><rect x="185.60" y="728.10" width="7.8" height="7.7" fill="#c6c4ca"/><rect x="195.50" y="728.10" width="7.8" height="7.7" fill="#000"/><rect x="205.40" y="728.10" width="7.8" height="7.7" fill="#c6c4ca"/><rect x="215.30" y="728.10" width="7.8" height="7.7" fill="#c6c4ca"/><text x="63" y="733.90" font-size="8.7" text-anchor="end" fill="#111">de novo AML</text><rect x="66.80" y="738.77" width="7.8" height="7.7" fill="#c6c4ca"/><rect x="76.70" y="738.77" width="7.8" height="7.7" fill="#000"/><rect x="86.60" y="738.77" width="7.8" height="7.7" fill="#c6c4ca"/><rect x="96.50" y="738.77" width="7.8" height="7.7" fill="#c6c4ca"/><rect x="106.40" y="738.77" width="7.8" height="7.7" fill="#c6c4ca"/><rect x="116.30" y="738.77" width="7.8" height="7.7" fill="#c6c4ca"/><rect x="126.20" y="738.77" width="7.8" height="7.7" fill="#c6c4ca"/><rect x="136.10" y="738.77" width="7.8" height="7.7" fill="#c6c4ca"/><rect x="146.00" y="738.77" width="7.8" height="7.7" fill="#c6c4ca"/><rect x="155.90" y="738.77" width="7.8" height="7.7" fill="#c6c4ca"/><rect x="165.80" y="738.77" width="7.8" height="7.7" fill="#c6c4ca"/><rect x="175.70" y="738.77" width="7.8" height="7.7" fill="#c6c4ca"/><rect x="185.60" y="738.77" width="7.8" height="7.7" fill="#000"/><rect x="195.50" y="738.77" width="7.8" height="7.7" fill="#c6c4ca"/><rect x="205.40" y="738.77" width="7.8" height="7.7" fill="#c6c4ca"/><rect x="215.30" y="738.77" width="7.8" height="7.7" fill="#c6c4ca"/><text x="63" y="744.60" font-size="8.7" text-anchor="end" fill="#111">MDS-EB2</text><rect x="66.80" y="749.44" width="7.8" height="7.7" fill="#c6c4ca"/><rect x="76.70" y="749.44" width="7.8" height="7.7" fill="#c6c4ca"/><rect x="86.60" y="749.44" width="7.8" height="7.7" fill="#c6c4ca"/><rect x="96.50" y="749.44" width="7.8" height="7.7" fill="#c6c4ca"/><rect x="106.40" y="749.44" width="7.8" height="7.7" fill="#c6c4ca"/><rect x="116.30" y="749.44" width="7.8" height="7.7" fill="#c6c4ca"/><rect x="126.20" y="749.44" width="7.8" height="7.7" fill="#c6c4ca"/><rect x="136.10" y="749.44" width="7.8" height="7.7" fill="#c6c4ca"/><rect x="146.00" y="749.44" width="7.8" height="7.7" fill="#c6c4ca"/><rect x="155.90" y="749.44" width="7.8" height="7.7" fill="#c6c4ca"/><rect x="165.80" y="749.44" width="7.8" height="7.7" fill="#c6c4ca"/><rect x="175.70" y="749.44" width="7.8" height="7.7" fill="#000"/><rect x="185.60" y="749.44" width="7.8" height="7.7" fill="#c6c4ca"/><rect x="195.50" y="749.44" width="7.8" height="7.7" fill="#c6c4ca"/><rect x="205.40" y="749.44" width="7.8" height="7.7" fill="#000"/><rect x="215.30" y="749.44" width="7.8" height="7.7" fill="#c6c4ca"/><text x="63" y="755.30" font-size="8.7" text-anchor="end" fill="#111">t-MN</text><rect x="66.80" y="760.11" width="7.8" height="7.7" fill="#c6c4ca"/><rect x="76.70" y="760.11" width="7.8" height="7.7" fill="#c6c4ca"/><rect x="86.60" y="760.11" width="7.8" height="7.7" fill="#c6c4ca"/><rect x="96.50" y="760.11" width="7.8" height="7.7" fill="#c6c4ca"/><rect x="106.40" y="760.11" width="7.8" height="7.7" fill="#c6c4ca"/><rect x="116.30" y="760.11" width="7.8" height="7.7" fill="#c6c4ca"/><rect x="126.20" y="760.11" width="7.8" height="7.7" fill="#c6c4ca"/><rect x="136.10" y="760.11" width="7.8" height="7.7" fill="#c6c4ca"/><rect x="146.00" y="760.11" width="7.8" height="7.7" fill="#c6c4ca"/><rect x="155.90" y="760.11" width="7.8" height="7.7" fill="#c6c4ca"/><rect x="165.80" y="760.11" width="7.8" height="7.7" fill="#c6c4ca"/><rect x="175.70" y="760.11" width="7.8" height="7.7" fill="#c6c4ca"/><rect x="185.60" y="760.11" width="7.8" height="7.7" fill="#c6c4ca"/><rect x="195.50" y="760.11" width="7.8" height="7.7" fill="#c6c4ca"/><rect x="205.40" y="760.11" width="7.8" height="7.7" fill="#c6c4ca"/><rect x="215.30" y="760.11" width="7.8" height="7.7" fill="#000"/><text x="63" y="766.00" font-size="8.7" text-anchor="end" fill="#111">relapsed AML</text></g><text transform="translate(70.60,34.6) rotate(-45)" font-size="7" fill="#111">RS001</text><text transform="translate(80.50,34.6) rotate(-45)" font-size="7" fill="#111">RS002</text><text transform="translate(90.40,34.6) rotate(-45)" font-size="7" fill="#111">RS003</text><text transform="translate(100.30,34.6) rotate(-45)" font-size="7" fill="#111">RS004</text><text transform="translate(110.20,34.6) rotate(-45)" font-size="7" fill="#111">RS005</text><text transform="translate(120.10,34.6) rotate(-45)" font-size="7" fill="#111">RS006</text><text transform="translate(130.00,34.6) rotate(-45)" font-size="7" fill="#111">RS007</text><text transform="translate(139.90,34.6) rotate(-45)" font-size="7" fill="#111">RS008</text><text transform="translate(149.80,34.6) rotate(-45)" font-size="7" fill="#111">RS009</text><text transform="translate(159.70,34.6) rotate(-45)" font-size="7" fill="#111">RS010</text><text transform="translate(169.60,34.6) rotate(-45)" font-size="7" fill="#111">RS011</text><text transform="translate(179.50,34.6) rotate(-45)" font-size="7" fill="#111">RS018</text><text transform="translate(189.40,34.6) rotate(-45)" font-size="7" fill="#111">RS019</text><text transform="translate(199.30,34.6) rotate(-45)" font-size="7" fill="#111">RS020</text><text transform="translate(209.20,34.6) rotate(-45)" font-size="7" fill="#111">RS021</text><text transform="translate(219.10,34.6) rotate(-45)" font-size="7" fill="#111">RS022</text><text transform="translate(9.6,21.8) scale(1,1.1)" font-size="13.6" font-weight="bold" fill="#000" stroke="#000" stroke-width="0.55">A</text><rect x="82.6" y="776" width="8" height="7.8" fill="#55235f"/><text x="94.8" y="782.8" font-size="8.6" fill="#111">Mutation</text><rect x="82.6" y="789.4" width="8" height="7.8" fill="#a50028"/><text x="94.8" y="796.1999999999999" font-size="8.6" fill="#111">Deletion</text><rect x="82.6" y="802.9" width="8" height="7.8" fill="#2e4a7e"/><text x="94.8" y="809.6999999999999" font-size="8.6" fill="#111">Gain</text><rect x="134.6" y="776" width="8" height="7.8" fill="#c6c4ca"/><path d="M134.6 776H142.6V783.8Z" fill="#f0bd10"/><text x="146.6" y="782.8" font-size="8.6" fill="#111">Chromotrypsis</text><rect x="134.6" y="789.4" width="8" height="7.8" fill="#2d6446"/><text x="146.6" y="796.2" font-size="8.6" fill="#111">CNLOH</text><rect x="134.6" y="802.9" width="8" height="7.8" fill="#c6c4ca"/><rect x="137.6" y="805.8" width="2" height="2" fill="#fff"/><text x="146.6" y="809.7" font-size="8.6" fill="#111">PRPF8 involved</text><text transform="translate(255.9,21.7) scale(1,1.1)" font-size="13.6" font-weight="bold" fill="#000" stroke="#000" stroke-width="0.55">B</text><line x1="290" y1="28.8" x2="290" y2="129.9" stroke="#000" stroke-width="1.1"/><line x1="289.5" y1="129.3" x2="510.5" y2="129.3" stroke="#000" stroke-width="1.3"/><line x1="286.3" y1="129.30" x2="290" y2="129.30" stroke="#000" stroke-width="1"/><text x="282.6" y="132.40" font-size="8.8" text-anchor="end" fill="#111">0</text><line x1="286.3" y1="117.25" x2="290" y2="117.25" stroke="#000" stroke-width="1"/><text x="282.6" y="120.35" font-size="8.8" text-anchor="end" fill="#111">5</text><line x1="286.3" y1="105.20" x2="290" y2="105.20" stroke="#000" stroke-width="1"/><text x="282.6" y="108.30" font-size="8.8" text-anchor="end" fill="#111">10</text><line x1="286.3" y1="93.15" x2="290" y2="93.15" stroke="#000" stroke-width="1"/><text x="282.6" y="96.25" font-size="8.8" text-anchor="end" fill="#111">15</text><line x1="286.3" y1="81.10" x2="290" y2="81.10" stroke="#000" stroke-width="1"/><text x="282.6" y="84.20" font-size="8.8" text-anchor="end" fill="#111">20</text><line x1="286.3" y1="69.05" x2="290" y2="69.05" stroke="#000" stroke-width="1"/><text x="282.6" y="72.15" font-size="8.8" text-anchor="end" fill="#111">25</text><line x1="286.3" y1="57.00" x2="290" y2="57.00" stroke="#000" stroke-width="1"/><text x="282.6" y="60.10" font-size="8.8" text-anchor="end" fill="#111">30</text><line x1="286.3" y1="44.95" x2="290" y2="44.95" stroke="#000" stroke-width="1"/><text x="282.6" y="48.05" font-size="8.8" text-anchor="end" fill="#111">35</text><line x1="286.3" y1="32.90" x2="290" y2="32.90" stroke="#000" stroke-width="1"/><text x="282.6" y="36.00" font-size="8.8" text-anchor="end" fill="#111">40</text><rect x="294.20" y="81.10" width="6" height="48.20" fill="#a50028"/><rect x="294.20" y="127.40" width="6" height="1.90" fill="#2e4a7e"/><text transform="translate(300.00,137.8) rotate(-45)" font-size="8.8" text-anchor="end" fill="#111">RS001</text><rect x="308.00" y="102.79" width="6" height="26.51" fill="#a50028"/><rect x="308.00" y="122.30" width="6" height="7.00" fill="#2e4a7e"/><text transform="translate(313.80,137.8) rotate(-45)" font-size="8.8" text-anchor="end" fill="#111">RS002</text><rect x="321.80" y="73.87" width="6" height="55.43" fill="#a50028"/><rect x="321.80" y="119.80" width="6" height="9.50" fill="#2e4a7e"/><text transform="translate(327.60,137.8) rotate(-45)" font-size="8.8" text-anchor="end" fill="#111">RS003</text><rect x="335.60" y="105.20" width="6" height="24.10" fill="#a50028"/><rect x="335.60" y="124.60" width="6" height="4.70" fill="#2e4a7e"/><text transform="translate(341.40,137.8) rotate(-45)" font-size="8.8" text-anchor="end" fill="#111">RS004</text><rect x="349.40" y="97.97" width="6" height="31.33" fill="#a50028"/><rect x="349.40" y="124.60" width="6" height="4.70" fill="#2e4a7e"/><text transform="translate(355.20,137.8) rotate(-45)" font-size="8.8" text-anchor="end" fill="#111">RS005</text><rect x="363.20" y="102.79" width="6" height="26.51" fill="#a50028"/><rect x="363.20" y="122.30" width="6" height="7.00" fill="#2e4a7e"/><text transform="translate(369.00,137.8) rotate(-45)" font-size="8.8" text-anchor="end" fill="#111">RS006</text><rect x="377.00" y="78.69" width="6" height="50.61" fill="#a50028"/><rect x="377.00" y="122.30" width="6" height="7.00" fill="#2e4a7e"/><text transform="translate(382.80,137.8) rotate(-45)" font-size="8.8" text-anchor="end" fill="#111">RS007</text><rect x="390.80" y="105.20" width="6" height="24.10" fill="#a50028"/><rect x="390.80" y="124.60" width="6" height="4.70" fill="#2e4a7e"/><text transform="translate(396.60,137.8) rotate(-45)" font-size="8.8" text-anchor="end" fill="#111">RS008</text><rect x="404.60" y="90.74" width="6" height="38.56" fill="#a50028"/><rect x="404.60" y="127.30" width="6" height="2.00" fill="#2e4a7e"/><text transform="translate(410.40,137.8) rotate(-45)" font-size="8.8" text-anchor="end" fill="#111">RS009</text><rect x="418.40" y="66.64" width="6" height="62.66" fill="#a50028"/><rect x="418.40" y="105.40" width="6" height="23.90" fill="#2e4a7e"/><text transform="translate(424.20,137.8) rotate(-45)" font-size="8.8" text-anchor="end" fill="#111">RS010</text><rect x="432.20" y="47.36" width="6" height="81.94" fill="#a50028"/><rect x="432.20" y="117.60" width="6" height="11.70" fill="#2e4a7e"/><text transform="translate(438.00,137.8) rotate(-45)" font-size="8.8" text-anchor="end" fill="#111">RS011</text><rect x="446.00" y="85.92" width="6" height="43.38" fill="#a50028"/><rect x="446.00" y="125.00" width="6" height="4.30" fill="#2e4a7e"/><text transform="translate(451.80,137.8) rotate(-45)" font-size="8.8" text-anchor="end" fill="#111">RS018</text><rect x="459.80" y="81.10" width="6" height="48.20" fill="#a50028"/><rect x="459.80" y="122.30" width="6" height="7.00" fill="#2e4a7e"/><text transform="translate(465.60,137.8) rotate(-45)" font-size="8.8" text-anchor="end" fill="#111">RS019</text><rect x="473.60" y="78.69" width="6" height="50.61" fill="#a50028"/><rect x="473.60" y="117.60" width="6" height="11.70" fill="#2e4a7e"/><text transform="translate(479.40,137.8) rotate(-45)" font-size="8.8" text-anchor="end" fill="#111">RS020</text><rect x="487.40" y="78.69" width="6" height="50.61" fill="#a50028"/><rect x="487.40" y="127.30" width="6" height="2.00" fill="#2e4a7e"/><text transform="translate(493.20,137.8) rotate(-45)" font-size="8.8" text-anchor="end" fill="#111">RS021</text><rect x="501.20" y="107.61" width="6" height="21.69" fill="#a50028"/><text transform="translate(507.00,137.8) rotate(-45)" font-size="8.8" text-anchor="end" fill="#111">RS022</text><rect x="292.9" y="26.2" width="7.9" height="7.6" fill="#a50028"/><rect x="292.9" y="38.1" width="7.9" height="7.6" fill="#2e4a7e"/><text x="304.4" y="33.3" font-size="8.5" fill="#111">Non-myeloid malignancy-associated genes</text><text x="304.4" y="45.2" font-size="8.5" fill="#111">Myeloid malignancy-associated genes</text><text transform="translate(265.3,78.9) rotate(-90) scale(0.742,1)" font-size="10.5" text-anchor="middle" fill="#111" style="stroke:#111;stroke-width:0.4px">Number of mutations</text><text transform="translate(255.4,182.8) scale(1,1.1)" font-size="13.6" font-weight="bold" fill="#000" stroke="#000" stroke-width="0.55">C</text><line x1="289.8" y1="191.8" x2="289.8" y2="291.0" stroke="#000" stroke-width="1.1"/><line x1="289.3" y1="290.5" x2="431.3" y2="290.5" stroke="#000" stroke-width="1.1"/><line x1="286.2" y1="290.50" x2="289.8" y2="290.50" stroke="#000" stroke-width="1"/><text x="282.6" y="293.60" font-size="8.8" text-anchor="end" fill="#111">0</text><line x1="286.2" y1="278.50" x2="289.8" y2="278.50" stroke="#000" stroke-width="1"/><text x="282.6" y="281.60" font-size="8.8" text-anchor="end" fill="#111">5</text><line x1="286.2" y1="266.50" x2="289.8" y2="266.50" stroke="#000" stroke-width="1"/><text x="282.6" y="269.60" font-size="8.8" text-anchor="end" fill="#111">10</text><line x1="286.2" y1="254.50" x2="289.8" y2="254.50" stroke="#000" stroke-width="1"/><text x="282.6" y="257.60" font-size="8.8" text-anchor="end" fill="#111">15</text><line x1="286.2" y1="242.50" x2="289.8" y2="242.50" stroke="#000" stroke-width="1"/><text x="282.6" y="245.60" font-size="8.8" text-anchor="end" fill="#111">20</text><line x1="286.2" y1="230.50" x2="289.8" y2="230.50" stroke="#000" stroke-width="1"/><text x="282.6" y="233.60" font-size="8.8" text-anchor="end" fill="#111">25</text><line x1="286.2" y1="218.50" x2="289.8" y2="218.50" stroke="#000" stroke-width="1"/><text x="282.6" y="221.60" font-size="8.8" text-anchor="end" fill="#111">30</text><line x1="286.2" y1="206.50" x2="289.8" y2="206.50" stroke="#000" stroke-width="1"/><text x="282.6" y="209.60" font-size="8.8" text-anchor="end" fill="#111">35</text><line x1="286.2" y1="194.50" x2="289.8" y2="194.50" stroke="#000" stroke-width="1"/><text x="282.6" y="197.60" font-size="8.8" text-anchor="end" fill="#111">40</text><line x1="291.80" y1="290.5" x2="291.80" y2="294.1" stroke="#000" stroke-width="1"/><text x="291.80" y="305.9" font-size="8.8" text-anchor="middle" fill="#111">50</text><line x1="337.00" y1="290.5" x2="337.00" y2="294.1" stroke="#000" stroke-width="1"/><text x="337.00" y="305.9" font-size="8.8" text-anchor="middle" fill="#111">60</text><line x1="382.20" y1="290.5" x2="382.20" y2="294.1" stroke="#000" stroke-width="1"/><text x="382.20" y="305.9" font-size="8.8" text-anchor="middle" fill="#111">70</text><line x1="427.40" y1="290.5" x2="427.40" y2="294.1" stroke="#000" stroke-width="1"/><text x="427.40" y="305.9" font-size="8.8" text-anchor="middle" fill="#111">80</text><path d="M308.20 234.00L310.10 235.90L308.20 237.80L306.30 235.90Z" fill="#a50028"/><path d="M308.20 267.40L310.10 269.30L308.20 271.20L306.30 269.30Z" fill="#a50028"/><path d="M321.50 238.60L323.40 240.50L321.50 242.40L319.60 240.50Z" fill="#a50028"/><path d="M330.90 241.10L332.80 243.00L330.90 244.90L329.00 243.00Z" fill="#a50028"/><path d="M349.20 250.80L351.10 252.70L349.20 254.60L347.30 252.70Z" fill="#a50028"/><path d="M358.30 262.50L360.20 264.40L358.30 266.30L356.40 264.40Z" fill="#a50028"/><path d="M358.30 264.80L360.20 266.70L358.30 268.60L356.40 266.70Z" fill="#a50028"/><path d="M372.20 262.50L374.10 264.40L372.20 266.30L370.30 264.40Z" fill="#a50028"/><path d="M376.80 245.70L378.70 247.60L376.80 249.50L374.90 247.60Z" fill="#a50028"/><path d="M381.50 207.70L383.40 209.60L381.50 211.50L379.60 209.60Z" fill="#a50028"/><path d="M381.50 238.60L383.40 240.50L381.50 242.40L379.60 240.50Z" fill="#a50028"/><path d="M390.70 240.90L392.60 242.80L390.70 244.70L388.80 242.80Z" fill="#a50028"/><path d="M395.30 226.70L397.20 228.60L395.30 230.50L393.40 228.60Z" fill="#a50028"/><path d="M395.30 238.60L397.20 240.50L395.30 242.40L393.40 240.50Z" fill="#a50028"/><path d="M399.80 264.80L401.70 266.70L399.80 268.60L397.90 266.70Z" fill="#a50028"/><path d="M418.00 257.80L419.90 259.70L418.00 261.60L416.10 259.70Z" fill="#a50028"/><line x1="308.2" y1="250.6" x2="418" y2="246.4" stroke="#111" stroke-width="1.0"/><text transform="translate(265.3,240.8) rotate(-90) scale(0.76,1)" font-size="10.5" text-anchor="middle" fill="#111" style="stroke:#111;stroke-width:0.4px">Number of mutations</text><text transform="translate(360.5,320.8) scale(0.66,1)" font-size="11" text-anchor="middle" fill="#111" style="stroke:#111;stroke-width:0.4px">Age</text><text transform="translate(255.6,338.8) scale(1,1.1)" font-size="13.6" font-weight="bold" fill="#000" stroke="#000" stroke-width="0.55">D</text><path d="M321.6 384.0L321.60 342.30A41.7 41.7 0 1 1 282.72 368.92Z" fill="#2c4a7c"/><path d="M321.6 384.0L282.72 368.92A41.7 41.7 0 0 1 293.16 353.50Z" fill="#a50028"/><path d="M321.6 384.0L293.16 353.50A41.7 41.7 0 0 1 304.17 346.12Z" fill="#2f644a"/><path d="M321.6 384.0L304.17 346.12A41.7 41.7 0 0 1 311.94 343.44Z" fill="#4a2464"/><path d="M321.6 384.0L311.94 343.44A41.7 41.7 0 0 1 319.71 342.34Z" fill="#f0bd10"/><path d="M321.6 384.0L319.71 342.34A41.7 41.7 0 0 1 321.60 342.30Z" fill="#6aaee0"/><rect x="374" y="343.20" width="8" height="7.8" fill="#2c4a7c"/><text x="385.9" y="350.10" font-size="8.5" fill="#111">nonsynonymous SNV</text><rect x="374" y="356.75" width="8" height="7.8" fill="#a50028"/><text x="385.9" y="363.65" font-size="8.5" fill="#111">stopgain</text><rect x="374" y="370.30" width="8" height="7.8" fill="#2f644a"/><text x="385.9" y="377.20" font-size="8.5" fill="#111">frameshift deletion</text><rect x="374" y="383.85" width="8" height="7.8" fill="#4a2464"/><text x="385.9" y="390.75" font-size="8.5" fill="#111">splicing</text><rect x="374" y="397.40" width="8" height="7.8" fill="#f0bd10"/><text x="385.9" y="404.30" font-size="8.5" fill="#111">frameshift insertion</text><rect x="374" y="410.95" width="8" height="7.8" fill="#6aaee0"/><text x="385.9" y="417.85" font-size="8.5" fill="#111">nonframeshift deletion</text><text transform="translate(256,443.5) scale(1,1.1)" font-size="13.6" font-weight="bold" fill="#000" stroke="#000" stroke-width="0.55">E</text><defs><linearGradient id="cyl" x1="0" x2="1" y1="0" y2="0"><stop offset="0" stop-color="#fff" stop-opacity="0"/><stop offset="0.5" stop-color="#fff" stop-opacity="0.28"/><stop offset="1" stop-color="#fff" stop-opacity="0"/></linearGradient></defs><text x="269" y="463.8" font-size="8.8" fill="#111">Chr.</text><line x1="291" y1="469.3" x2="512" y2="469.3" stroke="#e6e6e6" stroke-width="0.7"/><text x="307.10" y="463.8" font-size="8.8" text-anchor="middle" fill="#111">1</text><text x="344.30" y="463.8" font-size="8.8" text-anchor="middle" fill="#111">2</text><text x="381.55" y="463.8" font-size="8.8" text-anchor="middle" fill="#111">3</text><text x="418.75" y="463.8" font-size="8.8" text-anchor="middle" fill="#111">4</text><text x="455.90" y="463.8" font-size="8.8" text-anchor="middle" fill="#111">5</text><text x="493.10" y="463.8" font-size="8.8" text-anchor="middle" fill="#111">6</text><text x="269" y="586.9" font-size="8.8" fill="#111">Chr.</text><line x1="291" y1="593.0" x2="512" y2="593.0" stroke="#e6e6e6" stroke-width="0.7"/><text x="306.90" y="586.9" font-size="8.8" text-anchor="middle" fill="#111">7</text><text x="344.50" y="586.9" font-size="8.8" text-anchor="middle" fill="#111">8</text><text x="381.55" y="586.9" font-size="8.8" text-anchor="middle" fill="#111">9</text><text x="418.75" y="586.9" font-size="8.8" text-anchor="middle" fill="#111">10</text><text x="455.95" y="586.9" font-size="8.8" text-anchor="middle" fill="#111">11</text><text x="493.20" y="586.9" font-size="8.8" text-anchor="middle" fill="#111">12</text><text x="269" y="673.8" font-size="8.8" fill="#111">Chr.</text><line x1="291" y1="679.4" x2="512" y2="679.4" stroke="#e6e6e6" stroke-width="0.7"/><text x="307.35" y="673.8" font-size="8.8" text-anchor="middle" fill="#111">13</text><text x="344.50" y="673.8" font-size="8.8" text-anchor="middle" fill="#111">14</text><text x="381.73" y="673.8" font-size="8.8" text-anchor="middle" fill="#111">15</text><text x="418.75" y="673.8" font-size="8.8" text-anchor="middle" fill="#111">16</text><text x="455.80" y="673.8" font-size="8.8" text-anchor="middle" fill="#111">17</text><text x="493.30" y="673.8" font-size="8.8" text-anchor="middle" fill="#111">18</text><text x="269" y="742.5" font-size="8.8" fill="#111">Chr.</text><line x1="291" y1="747.7" x2="512" y2="747.7" stroke="#e6e6e6" stroke-width="0.7"/><text x="307.05" y="742.5" font-size="8.8" text-anchor="middle" fill="#111">19</text><text x="344.20" y="742.5" font-size="8.8" text-anchor="middle" fill="#111">20</text><text x="381.73" y="742.5" font-size="8.8" text-anchor="middle" fill="#111">21</text><text x="418.75" y="742.5" font-size="8.8" text-anchor="middle" fill="#111">22</text><text x="456.20" y="742.5" font-size="8.8" text-anchor="middle" fill="#111">X</text><text x="492.90" y="742.5" font-size="8.8" text-anchor="middle" fill="#111">Y</text><path d="M301.50 748.60V771.50" stroke="#b04446" stroke-width="0.5" stroke-opacity="0.3"/><path d="M487.40 594.00V647.50" stroke="#b04446" stroke-width="0.5" stroke-opacity="0.3"/><path d="M450.20 594.00V648.10" stroke="#b04446" stroke-width="0.5" stroke-opacity="0.3"/><path d="M412.90 594.00V648.10" stroke="#b04446" stroke-width="0.5" stroke-opacity="0.3"/><path d="M338.80 594.00V653.20" stroke="#b04446" stroke-width="0.5" stroke-opacity="0.3"/><path d="M487.40 470.20V539.00" stroke="#b04446" stroke-width="0.5" stroke-opacity="0.3"/><path d="M412.90 470.20V547.70" stroke="#b04446" stroke-width="0.5" stroke-opacity="0.3"/><path d="M338.50 470.20V568.50" stroke="#b04446" stroke-width="0.5" stroke-opacity="0.3"/><path d="M301.40 470.40V571.50" stroke="#b04446" stroke-width="0.5" stroke-opacity="0.3"/><path d="M460.70 748.90V811.30" stroke="#46509a" stroke-width="0.7" stroke-opacity="0.7"/><path d="M348.80 748.60V772.75" stroke="#46509a" stroke-width="0.7" stroke-opacity="0.7"/><path d="M311.40 748.60V771.50" stroke="#46509a" stroke-width="0.7" stroke-opacity="0.7"/><path d="M497.90 680.50V711.00" stroke="#46509a" stroke-width="0.7" stroke-opacity="0.7"/><path d="M460.40 680.50V712.50" stroke="#46509a" stroke-width="0.7" stroke-opacity="0.7"/><path d="M423.50 680.30V716.00" stroke="#46509a" stroke-width="0.7" stroke-opacity="0.7"/><path d="M386.35 689.00V721.00" stroke="#46509a" stroke-width="0.7" stroke-opacity="0.7"/><path d="M348.90 686.50V723.30" stroke="#46509a" stroke-width="0.7" stroke-opacity="0.7"/><path d="M497.80 594.00V647.50" stroke="#46509a" stroke-width="0.7" stroke-opacity="0.7"/><path d="M423.40 594.00V648.10" stroke="#46509a" stroke-width="0.7" stroke-opacity="0.7"/><path d="M386.20 594.00V650.60" stroke="#46509a" stroke-width="0.7" stroke-opacity="0.7"/><path d="M311.40 594.00V658.20" stroke="#46509a" stroke-width="0.7" stroke-opacity="0.7"/><path d="M497.60 470.20V539.00" stroke="#46509a" stroke-width="0.7" stroke-opacity="0.7"/><path d="M460.40 470.20V543.00" stroke="#46509a" stroke-width="0.7" stroke-opacity="0.7"/><path d="M423.40 470.20V547.70" stroke="#46509a" stroke-width="0.7" stroke-opacity="0.7"/><path d="M386.20 470.20V550.30" stroke="#46509a" stroke-width="0.7" stroke-opacity="0.7"/><path d="M348.90 470.20V568.50" stroke="#46509a" stroke-width="0.7" stroke-opacity="0.7"/><path d="M311.60 470.40V571.50" stroke="#46509a" stroke-width="0.7" stroke-opacity="0.7"/><path d="M301.12 503.03H301.70M301.21 536.40H301.70M300.86 524.66H301.70M300.69 475.92H301.70M300.78 473.82H301.70M301.19 477.13H301.70M300.31 513.30H301.70M301.03 482.63H301.70M300.16 534.00H301.70M300.82 528.86H301.70M301.24 569.58H301.70M300.95 557.56H301.70M301.16 484.71H301.70M300.32 501.47H301.70M300.60 488.43H301.70M300.85 535.17H301.70M301.22 525.87H301.70M301.05 476.08H301.70M300.79 539.40H301.70M300.60 502.04H301.70M300.94 516.22H301.70M300.46 551.03H301.70M300.61 494.90H301.70M300.25 523.57H301.70M300.95 544.40H301.70M301.16 569.98H301.70" stroke="#b04446" stroke-width="0.7" fill="none"/><path d="M297.70 470.50H301.70" stroke="#b04446" stroke-width="1.1" fill="none"/><path d="M297.20 489.80H301.70" stroke="#b04446" stroke-width="0.8" fill="none"/><path d="M299.20 500.80H301.70" stroke="#b04446" stroke-width="1.3" fill="none"/><path d="M298.70 519.00H301.70" stroke="#b04446" stroke-width="1.0" fill="none"/><path d="M292.90 532.20H301.70" stroke="#b04446" stroke-width="0.9" fill="none"/><path d="M296.70 571.40H301.70" stroke="#b04446" stroke-width="1.4" fill="none"/><path d="M311.30 512.65H312.78M311.30 485.50H312.44M311.30 474.00H312.67M311.30 547.99H312.54M311.30 559.30H312.21M311.30 540.92H312.57M311.30 529.15H312.39M311.30 555.68H313.03M311.30 518.36H312.66M311.30 476.19H312.71M311.30 536.01H313.09M311.30 553.84H312.17M311.30 509.35H312.67M311.30 472.30H312.40M311.30 487.14H311.95M311.30 476.01H312.80M311.30 483.19H312.12M311.30 509.88H312.93M311.30 478.22H312.38M311.30 526.04H312.95M311.30 553.57H312.92M311.30 498.40H312.34M311.30 506.59H312.95M311.30 567.69H312.00M311.30 487.97H312.10M311.30 493.80H312.43M311.30 530.09H312.14M311.30 470.42H312.34M311.30 507.66H312.54M311.30 567.22H312.70M311.30 522.58H312.60M311.30 538.97H311.87M311.30 561.75H312.81M311.30 559.20H312.84M311.30 510.02H312.32M311.30 480.56H312.62M311.30 476.35H311.89M311.30 491.29H312.01M311.30 504.69H311.87M311.30 470.02H312.00" stroke="#46509a" stroke-width="0.7" fill="none"/><path d="M311.30 499.30H321.80" stroke="#46509a" stroke-width="0.8" fill="none"/><path d="M311.30 537.30H315.50" stroke="#46509a" stroke-width="0.8" fill="none"/><path d="M311.30 571.40H317.00" stroke="#46509a" stroke-width="1.2" fill="none"/><path d="M337.64 480.04H338.80M336.56 472.52H338.80M338.09 530.79H338.80M337.67 494.97H338.80M338.14 506.05H338.80M336.31 554.04H338.80M337.38 516.13H338.80M338.19 478.50H338.80M337.84 503.92H338.80M338.06 552.06H338.80M336.40 472.29H338.80M338.09 522.30H338.80M338.34 523.77H338.80M336.35 522.28H338.80M336.94 555.47H338.80M337.63 495.85H338.80M336.78 486.54H338.80M336.76 522.73H338.80M337.93 502.64H338.80M336.33 550.34H338.80M336.71 554.41H338.80M336.85 551.01H338.80M337.31 492.45H338.80M338.34 505.20H338.80M337.81 472.77H338.80M336.95 495.66H338.80M337.46 564.69H338.80M336.33 562.77H338.80M337.63 564.55H338.80M337.92 491.83H338.80M337.97 489.47H338.80M336.51 531.78H338.80M337.39 553.20H338.80M336.72 534.64H338.80M337.01 478.39H338.80M336.76 560.07H338.80M337.40 544.26H338.80M336.74 487.67H338.80M336.72 502.92H338.80M337.57 566.19H338.80" stroke="#b04446" stroke-width="0.7" fill="none"/><path d="M331.60 473.80H338.80" stroke="#b04446" stroke-width="0.9" fill="none"/><path d="M330.10 494.90H338.80" stroke="#b04446" stroke-width="0.9" fill="none"/><path d="M333.00 509.50H338.80" stroke="#b04446" stroke-width="0.9" fill="none"/><path d="M348.60 509.74H350.71M348.60 541.76H349.39M348.60 482.58H349.36M348.60 559.58H350.47M348.60 484.47H350.51M348.60 567.05H350.22M348.60 504.69H350.03M348.60 482.97H349.12M348.60 566.12H350.20M348.60 522.13H350.69M348.60 512.95H350.58M348.60 551.79H349.46M348.60 494.93H349.60M348.60 493.81H350.10M348.60 495.68H349.81M348.60 482.98H350.65M348.60 505.02H349.88M348.60 527.75H350.64M348.60 511.64H350.66M348.60 519.66H350.00M348.60 521.83H349.13M348.60 513.57H349.41M348.60 470.39H350.46M348.60 487.06H349.90M348.60 541.79H350.05M348.60 502.27H349.98M348.60 524.99H350.43M348.60 480.50H350.05M348.60 494.60H349.57M348.60 546.45H349.96M348.60 525.61H350.39M348.60 560.34H349.85M348.60 530.64H349.96M348.60 520.70H350.28M348.60 514.78H350.01M348.60 517.33H350.70M348.60 539.22H350.59M348.60 563.28H349.54M348.60 525.39H350.70M348.60 553.16H349.33M348.60 482.04H349.85M348.60 477.18H349.51M348.60 477.24H350.24M348.60 547.61H350.62M348.60 485.29H350.32M348.60 535.37H349.34M348.60 557.40H350.74M348.60 491.74H350.72M348.60 509.43H349.93M348.60 568.00H350.52M348.60 485.99H349.83M348.60 521.04H349.68M348.60 489.38H349.64M348.60 541.49H349.13M348.60 524.85H349.85M348.60 471.79H349.66M348.60 531.77H349.97M348.60 476.36H350.77M348.60 548.05H350.75M348.60 480.37H349.55" stroke="#46509a" stroke-width="0.7" fill="none"/><path d="M375.80 470.00L374.16 470.00L373.42 470.80L373.93 471.60L374.07 472.40L373.78 473.20L373.29 474.00L373.38 474.80L373.94 475.60L374.05 476.40L373.28 477.20L373.63 478.00L373.50 478.80L374.11 479.60L374.14 480.40L373.51 481.20L373.77 482.00L374.13 482.80L373.26 483.60L373.57 484.40L373.40 485.20L374.12 486.00L373.34 486.80L374.13 487.60L373.34 488.40L373.75 489.20L373.86 490.00L373.65 490.80L373.27 491.60L373.93 492.40L374.07 493.20L373.67 494.00L373.96 494.80L374.09 495.60L374.04 496.40L374.15 497.20L374.00 498.00L373.89 498.80L373.89 499.60L373.44 500.40L373.91 501.20L373.70 502.00L374.02 502.80L373.85 503.60L374.18 504.40L373.95 505.20L374.18 506.00L375.80 506.30Z" fill="#b04446"/><path d="M370.60 485.00H376.00" stroke="#b04446" stroke-width="0.9" fill="none"/><path d="M370.00 506.30H376.00" stroke="#b04446" stroke-width="1.0" fill="none"/><path d="M375.05 538.52H376.00M375.13 515.15H376.00M375.49 547.19H376.00M375.17 542.21H376.00M374.77 528.29H376.00M375.09 523.90H376.00M374.62 536.57H376.00M374.77 521.74H376.00M374.96 537.39H376.00M375.25 524.40H376.00M375.47 509.34H376.00M374.86 510.04H376.00M375.44 517.99H376.00M374.76 510.63H376.00" stroke="#b04446" stroke-width="0.7" fill="none"/><path d="M385.90 539.64H387.67M385.90 492.55H386.86M385.90 493.44H387.27M385.90 482.60H387.25M385.90 491.06H388.23M385.90 547.81H387.44M385.90 489.56H388.23M385.90 494.76H387.08M385.90 470.09H387.13M385.90 507.97H387.36M385.90 486.08H387.36M385.90 470.40H386.90M385.90 477.18H387.16M385.90 473.33H386.44M385.90 494.34H386.84M385.90 516.85H387.41M385.90 530.04H387.65M385.90 527.28H388.07M385.90 501.16H387.02M385.90 548.78H386.68M385.90 527.93H387.62M385.90 473.50H387.99M385.90 541.36H387.59M385.90 528.71H387.94M385.90 481.14H387.40M385.90 510.35H387.99M385.90 534.37H387.97M385.90 516.72H388.10M385.90 524.63H387.72M385.90 488.40H386.46M385.90 480.65H387.09M385.90 478.39H387.99M385.90 514.68H387.59M385.90 520.10H387.69M385.90 509.14H386.41M385.90 533.82H387.82M385.90 510.24H387.42M385.90 522.74H386.53M385.90 528.94H386.88M385.90 475.96H386.90M385.90 528.35H386.79M385.90 529.19H388.25M385.90 509.52H387.13M385.90 508.32H387.70M385.90 531.36H387.57M385.90 521.42H386.55M385.90 481.79H386.88M385.90 529.46H386.98M385.90 515.42H386.42M385.90 474.85H386.91M385.90 523.76H387.72M385.90 524.06H386.95M385.90 511.32H387.28M385.90 507.31H386.63M385.90 541.49H386.78" stroke="#46509a" stroke-width="0.7" fill="none"/><path d="M411.77 546.29H413.20M412.30 471.37H413.20M411.74 533.95H413.20M412.50 505.06H413.20M411.76 486.37H413.20M412.16 486.44H413.20M412.22 481.06H413.20M412.65 544.31H413.20M412.24 533.98H413.20M412.03 539.18H413.20M411.81 488.05H413.20M412.77 507.92H413.20M412.26 470.28H413.20M412.47 505.16H413.20" stroke="#b04446" stroke-width="0.7" fill="none"/><path d="M412.00 510.6V535" stroke="#b04446" stroke-width="0.8"/><path d="M409.70 486.50H413.20" stroke="#b04446" stroke-width="0.8" fill="none"/><path d="M423.10 480.98H424.59M423.10 494.65H425.88M423.10 470.14H425.65M423.10 535.45H424.01M423.10 542.26H425.55M423.10 540.32H424.45M423.10 499.03H424.72M423.10 547.91H425.23M423.10 498.14H424.81M423.10 491.46H423.83M423.10 477.93H425.87M423.10 492.28H426.13M423.10 489.45H424.39M423.10 509.86H424.19M423.10 499.12H426.19M423.10 538.97H425.81M423.10 519.21H426.07M423.10 543.37H425.13M423.10 526.13H423.83M423.10 527.12H424.87M423.10 528.71H425.38M423.10 492.32H423.83M423.10 542.29H424.03M423.10 506.83H424.59M423.10 493.23H425.62M423.10 546.15H424.38M423.10 521.17H424.48M423.10 513.47H424.73M423.10 483.05H424.12M423.10 486.21H426.06M423.10 508.77H424.27M423.10 540.69H426.29M423.10 505.10H424.06M423.10 485.01H423.94M423.10 496.67H423.94M423.10 488.65H424.37M423.10 514.43H426.01M423.10 528.47H424.77M423.10 502.28H425.06M423.10 499.40H424.58M423.10 474.84H424.42M423.10 545.48H424.03M423.10 509.26H425.34M423.10 537.30H424.26M423.10 491.14H424.35M423.10 501.18H424.86M423.10 544.41H425.91M423.10 538.09H423.76M423.10 472.51H425.54M423.10 539.86H424.93M423.10 515.80H423.70M423.10 500.54H426.11M423.10 534.40H425.92M423.10 545.83H424.35M423.10 478.51H424.10M423.10 510.74H425.47M423.10 543.44H425.58M423.10 520.49H425.69M423.10 505.67H425.13M423.10 473.08H425.73M423.10 488.14H426.09M423.10 520.35H424.49M423.10 479.98H424.35M423.10 519.63H425.52M423.10 478.75H423.88M423.10 510.91H425.22M423.10 500.27H424.28M423.10 516.88H423.73M423.10 493.52H424.90M423.10 544.80H425.38M423.10 538.93H424.94M423.10 488.31H424.34M423.10 544.93H425.53M423.10 493.98H423.76M423.10 508.87H425.45M423.10 502.76H424.37M423.10 522.05H426.11M423.10 487.69H423.79M423.10 496.37H424.79M423.10 523.24H424.22M423.10 532.17H425.62M423.10 509.38H424.23M423.10 545.65H424.51M423.10 533.96H424.30M423.10 487.27H425.68M423.10 493.00H426.18M423.10 508.67H424.19M423.10 487.42H424.78M423.10 521.89H426.17M423.10 481.42H424.72M423.10 486.61H426.23M423.10 481.07H423.83M423.10 474.69H424.72M423.10 540.06H426.00M423.10 527.15H426.29M423.10 542.66H424.56M423.10 484.47H426.13M423.10 528.21H423.78M423.10 521.83H424.68M423.10 499.16H424.56M423.10 483.20H423.71M423.10 491.82H424.61M423.10 544.53H424.02M423.10 545.21H424.24M423.10 497.82H425.84M423.10 534.12H424.82M423.10 473.84H424.93M423.10 499.07H426.09M423.10 485.06H424.65M423.10 539.97H423.78" stroke="#46509a" stroke-width="0.7" fill="none"/><path d="M450.20 489.50L447.40 490.60L446.50 494.00L446.00 498.60L444.50 502.00L442.70 504.00L442.30 510.00L442.00 520.00L442.20 528.30L443.40 529.60L443.20 536.00L444.00 540.40L443.50 543.50L450.20 543.70Z" fill="#b04446"/><path d="M446.60 492.00L445.99 492.00L445.59 493.00L445.63 494.00L446.36 495.00L446.37 496.00L446.34 497.00L445.48 498.00L446.14 499.00L445.65 500.00L445.50 501.00L446.06 502.00L446.13 503.00L445.44 504.00L445.78 505.00L446.14 506.00L445.68 507.00L446.08 508.00L446.12 509.00L446.40 510.00L445.64 511.00L445.48 512.00L445.77 513.00L445.46 514.00L446.38 515.00L446.17 516.00L445.92 517.00L445.44 518.00L445.45 519.00L446.01 520.00L446.15 521.00L445.97 522.00L445.91 523.00L445.47 524.00L446.22 525.00L445.60 526.00L445.66 527.00L445.58 528.00L445.63 529.00L445.79 530.00L446.07 531.00L446.08 532.00L446.04 533.00L445.62 534.00L446.32 535.00L446.20 536.00L445.65 537.00L446.15 538.00L446.34 539.00L446.37 540.00L446.60 540.00Z" fill="#b04446"/><path d="M449.74 480.50H450.50M449.13 488.62H450.50M449.81 488.77H450.50M449.99 471.60H450.50M449.32 479.47H450.50M449.84 478.49H450.50M449.42 477.92H450.50M449.28 482.81H450.50" stroke="#b04446" stroke-width="0.7" fill="none"/><path d="M445.40 488.50H450.50" stroke="#b04446" stroke-width="0.9" fill="none"/><path d="M460.10 503.88H461.93M460.10 474.85H462.28M460.10 481.75H461.73M460.10 484.92H462.08M460.10 477.97H461.09M460.10 479.81H460.91M460.10 505.37H461.76M460.10 483.05H461.39M460.10 509.70H461.61M460.10 479.26H462.22M460.10 496.13H462.58M460.10 474.09H461.55M460.10 502.76H462.28M460.10 506.58H460.68M460.10 481.75H460.84M460.10 477.58H462.55M460.10 493.33H462.46M460.10 484.89H462.33M460.10 487.96H461.12M460.10 501.11H462.49M460.10 474.23H461.79M460.10 494.80H461.04M460.10 484.75H460.88M460.10 478.16H461.11M460.10 493.98H461.90M460.10 478.14H460.62M460.10 483.09H461.96M460.10 477.41H461.22M460.10 478.14H462.19M460.10 491.92H460.73" stroke="#46509a" stroke-width="0.7" fill="none"/><path d="M460.10 522.33H460.93M460.10 532.65H461.20M460.10 522.10H460.68M460.10 535.99H460.95M460.10 526.52H460.84M460.10 541.92H460.84M460.10 533.03H460.89M460.10 529.58H461.45" stroke="#46509a" stroke-width="0.7" fill="none"/><path d="M485.61 482.46H487.70M484.52 472.47H487.70M486.68 472.55H487.70M485.43 481.27H487.70M485.48 480.25H487.70M485.32 481.04H487.70M486.66 472.03H487.70M484.78 476.89H487.70M486.43 481.37H487.70M485.59 477.78H487.70M486.26 476.31H487.70M485.14 473.54H487.70M486.37 481.57H487.70M484.29 476.13H487.70M486.11 482.09H487.70M483.87 471.58H487.70M485.25 482.19H487.70M483.92 470.67H487.70M483.99 474.85H487.70M484.23 477.75H487.70M484.34 472.00H487.70M485.49 472.78H487.70" stroke="#b04446" stroke-width="0.7" fill="none"/><path d="M478.40 495.30H487.70" stroke="#b04446" stroke-width="0.9" fill="none"/><path d="M485.97 530.40H487.70M486.95 493.25H487.70M486.47 505.39H487.70M487.10 504.48H487.70M486.14 496.84H487.70M487.23 533.25H487.70M486.09 514.49H487.70M485.96 485.14H487.70M486.34 489.59H487.70M486.30 513.80H487.70M486.63 500.15H487.70M486.62 515.63H487.70M486.59 519.90H487.70M487.26 507.55H487.70" stroke="#b04446" stroke-width="0.7" fill="none"/><path d="M497.30 513.01H499.91M497.30 486.35H500.93M497.30 524.21H499.80M497.30 482.48H499.85M497.30 477.44H498.58M497.30 499.93H498.44M497.30 500.72H499.99M497.30 472.83H500.45M497.30 475.72H500.81M497.30 524.05H499.99M497.30 473.77H499.96M497.30 496.26H501.62M497.30 479.46H501.27M497.30 539.23H500.81M497.30 526.64H498.82M497.30 538.23H499.92M497.30 536.49H501.49M497.30 481.48H501.02M497.30 534.68H498.34M497.30 494.39H500.90M497.30 481.03H501.42M497.30 489.11H501.12M497.30 479.98H499.96M497.30 533.93H498.87M497.30 488.27H499.97M497.30 492.18H498.24M497.30 482.66H498.70M497.30 535.08H500.61M497.30 532.23H498.72M497.30 524.55H498.53M497.30 506.89H500.45M497.30 495.00H501.33M497.30 508.59H500.25M497.30 531.34H498.49M497.30 539.01H500.43M497.30 497.40H501.05M497.30 488.40H501.76M497.30 510.13H499.43M497.30 523.14H499.74M497.30 482.28H500.85M497.30 473.36H501.13M497.30 487.63H500.47M497.30 538.39H500.27M497.30 516.13H499.26M497.30 470.12H498.23M497.30 480.38H500.38M497.30 500.04H500.00M497.30 532.24H498.59M497.30 485.79H500.52M497.30 471.55H498.11M497.30 494.67H498.49M497.30 494.82H498.93M497.30 510.56H500.28M497.30 484.19H500.41M497.30 503.01H498.60M497.30 535.09H499.00M497.30 480.38H498.45M497.30 514.36H501.32M497.30 524.36H499.59M497.30 488.36H498.14M497.30 514.82H500.18M497.30 494.35H500.49M497.30 500.84H501.57M497.30 520.98H499.02M497.30 532.79H498.26M497.30 506.94H499.60M497.30 486.52H498.32M497.30 524.13H498.15M497.30 508.29H501.58M497.30 479.89H498.84M497.30 512.26H499.98M497.30 514.59H501.11M497.30 482.14H499.24M497.30 490.87H498.28M497.30 531.81H501.00M497.30 519.72H498.12M497.30 528.69H500.86M497.30 502.34H500.84M497.30 501.45H498.94M497.30 477.32H498.96" stroke="#46509a" stroke-width="0.7" fill="none"/><path d="M497.30 472.70H502.81M497.30 522.10H503.89M497.30 528.75H503.94M497.30 488.49H503.46M497.30 500.31H504.17M497.30 506.37H502.60M497.30 514.62H504.70M497.30 485.08H504.44M497.30 471.06H502.58M497.30 486.41H504.03" stroke="#46509a" stroke-width="0.6" fill="none"/><path d="M301.30 593.00L294.00 593.00L294.36 593.70L295.11 594.40L294.12 595.10L295.11 595.80L295.27 596.50L294.07 597.20L294.56 597.90L294.45 598.60L294.50 599.30L293.94 600.00L294.85 600.70L294.19 601.40L294.44 602.10L294.16 602.80L294.91 603.50L294.40 604.20L294.67 604.90L295.15 605.60L295.32 606.30L294.58 607.00L295.56 607.70L294.06 608.40L295.44 609.10L295.65 609.80L295.51 610.50L294.03 611.20L295.08 611.90L295.44 612.60L295.65 613.30L295.63 614.00L294.45 614.70L294.56 615.40L294.45 616.10L294.37 616.80L301.30 616.90Z" fill="#b04446"/><path d="M301.30 618.60L295.57 618.60L294.52 619.30L294.97 620.00L294.06 620.70L294.06 621.40L293.92 622.10L295.57 622.80L293.96 623.50L293.87 624.20L293.81 624.90L295.49 625.60L295.29 626.30L295.48 627.00L295.63 627.70L294.00 628.40L294.08 629.10L294.43 629.80L294.05 630.50L294.44 631.20L295.13 631.90L295.50 632.60L295.50 633.30L294.19 634.00L295.29 634.70L295.06 635.40L294.85 636.10L295.66 636.80L295.19 637.50L295.13 638.20L294.27 638.90L294.96 639.60L295.06 640.30L293.77 641.00L294.69 641.70L294.00 642.40L294.46 643.10L295.64 643.80L294.87 644.50L294.83 645.20L294.15 645.90L295.01 646.60L294.29 647.30L294.62 648.00L295.27 648.70L293.98 649.40L295.52 650.10L294.06 650.80L295.36 651.50L295.70 652.20L295.30 652.90L294.18 653.60L293.74 654.30L295.69 655.00L294.72 655.70L294.72 656.40L294.11 657.10L295.33 657.80L294.71 658.50L301.30 658.70Z" fill="#b04446"/><path d="M311.10 616.22H312.50M311.10 610.68H312.63M311.10 612.16H311.76M311.10 638.77H312.10M311.10 601.04H312.26M311.10 599.18H312.45M311.10 638.62H312.44M311.10 634.19H311.93M311.10 619.68H311.97M311.10 650.99H311.60M311.10 650.86H311.53M311.10 607.19H311.82M311.10 651.68H312.10M311.10 618.28H312.56M311.10 608.95H312.05M311.10 628.02H312.41M311.10 642.19H312.28M311.10 616.30H311.89M311.10 603.94H312.51M311.10 636.37H312.39M311.10 604.85H312.03M311.10 643.50H312.20" stroke="#46509a" stroke-width="0.7" fill="none"/><path d="M337.73 601.44H339.10M338.20 646.22H339.10M338.07 605.30H339.10M336.93 635.49H339.10M338.37 603.12H339.10M338.01 608.61H339.10M338.36 624.81H339.10M338.30 613.36H339.10M337.17 651.53H339.10M336.68 600.01H339.10M337.89 600.00H339.10M337.03 652.05H339.10M337.79 637.26H339.10M337.36 605.58H339.10M338.27 600.31H339.10M338.63 616.91H339.10M337.04 617.54H339.10M337.65 634.91H339.10M337.73 631.31H339.10M337.43 602.37H339.10M337.14 617.88H339.10M337.80 647.57H339.10M337.13 627.86H339.10M338.22 618.85H339.10M336.85 636.61H339.10M337.23 639.67H339.10M337.27 644.29H339.10M337.75 631.85H339.10" stroke="#b04446" stroke-width="0.7" fill="none"/><path d="M332.60 609.40H339.10" stroke="#b04446" stroke-width="0.9" fill="none"/><path d="M349.10 593.00L354.05 593.00L354.81 593.70L353.53 594.40L354.31 595.10L355.18 595.80L355.01 596.50L354.81 597.20L353.90 597.90L354.32 598.60L354.39 599.30L354.79 600.00L354.28 600.70L354.92 601.40L355.53 602.10L353.74 602.80L354.87 603.50L355.17 604.20L354.23 604.90L354.48 605.60L355.64 606.30L353.39 607.00L354.60 607.70L353.69 608.40L355.18 609.10L355.56 609.80L354.55 610.50L349.10 611.00Z" fill="#46509a"/><path d="M349.10 612.50L353.58 612.50L354.91 613.20L354.81 613.90L355.31 614.60L354.73 615.30L355.09 616.00L355.62 616.70L354.76 617.40L354.45 618.10L355.95 618.80L353.89 619.50L355.22 620.20L354.40 620.90L355.44 621.60L353.64 622.30L356.06 623.00L354.30 623.70L353.46 624.40L354.07 625.10L354.42 625.80L353.34 626.50L354.47 627.20L354.48 627.90L355.26 628.60L354.29 629.30L354.04 630.00L353.93 630.70L355.38 631.40L355.93 632.10L354.78 632.80L353.91 633.50L355.54 634.20L354.40 634.90L353.89 635.60L353.66 636.30L355.47 637.00L355.57 637.70L355.08 638.40L354.61 639.10L354.87 639.80L353.93 640.50L356.00 641.20L354.29 641.90L355.09 642.60L355.59 643.30L355.59 644.00L354.61 644.70L354.12 645.40L354.84 646.10L353.65 646.80L355.63 647.50L354.29 648.20L355.68 648.90L354.05 649.60L354.35 650.30L354.01 651.00L354.49 651.70L353.82 652.40L353.31 653.10L349.10 653.70Z" fill="#46509a"/><rect x="373" y="621" width="2.2" height="1.5" fill="#b04446"/><path d="M375.29 635.14H376.00M375.27 607.96H376.00M375.13 621.33H376.00M374.87 630.33H376.00M374.58 614.66H376.00M375.54 642.70H376.00M374.60 641.19H376.00M375.45 638.69H376.00M374.90 641.39H376.00M375.59 594.85H376.00" stroke="#b04446" stroke-width="0.7" fill="none"/><path d="M385.90 593.60H391.90" stroke="#46509a" stroke-width="0.9" fill="none"/><path d="M385.90 611.13H387.22M385.90 598.50H386.44M385.90 596.57H386.63M385.90 607.97H386.79M385.90 596.75H387.57M385.90 608.25H386.54M385.90 610.04H387.15M385.90 608.06H387.24M385.90 610.09H387.40M385.90 609.10H386.58" stroke="#46509a" stroke-width="0.7" fill="none"/><path d="M385.90 642.28H387.51M385.90 643.76H387.32M385.90 647.98H387.57M385.90 629.43H386.89M385.90 625.68H387.44M385.90 623.25H387.38M385.90 625.83H387.43M385.90 636.45H387.53M385.90 647.39H386.41M385.90 646.72H387.38M385.90 638.38H387.80M385.90 646.72H387.19M385.90 634.06H388.42M385.90 623.76H387.74M385.90 640.58H386.46M385.90 639.79H387.83M385.90 649.44H387.09M385.90 650.95H387.47M385.90 636.04H388.28M385.90 622.52H387.91M385.90 640.26H387.11M385.90 647.35H387.17M385.90 635.74H387.50M385.90 644.62H386.84M385.90 634.56H387.29M385.90 638.12H388.14M385.90 630.29H388.14M385.90 633.61H387.46M385.90 629.65H387.46M385.90 650.75H387.77M385.90 645.26H387.09M385.90 631.01H387.03M385.90 639.09H387.73M385.90 645.03H386.48M385.90 643.18H388.26" stroke="#46509a" stroke-width="0.7" fill="none"/><path d="M407.50 593.20H413.20" stroke="#b04446" stroke-width="1.0" fill="none"/><path d="M403.75 611.75H413.20" stroke="#b04446" stroke-width="0.9" fill="none"/><path d="M406.25 624.90H413.20" stroke="#b04446" stroke-width="0.8" fill="none"/><path d="M412.74 623.45H413.20M412.79 610.22H413.20M411.69 604.26H413.20M412.01 626.87H413.20M411.71 636.61H413.20M412.06 627.03H413.20M411.96 627.85H413.20M411.98 626.20H413.20M412.00 605.48H413.20M411.88 618.73H413.20M412.58 599.47H413.20M411.87 596.00H413.20M412.01 643.36H413.20M411.81 613.92H413.20M412.13 636.47H413.20M412.44 607.93H413.20" stroke="#b04446" stroke-width="0.7" fill="none"/><path d="M423.10 616.78H424.27M423.10 617.26H424.95M423.10 644.43H423.71M423.10 624.65H423.68M423.10 600.42H425.30M423.10 625.07H425.53M423.10 618.11H423.63M423.10 614.91H424.84M423.10 644.64H425.66M423.10 619.67H424.47M423.10 599.51H424.95M423.10 605.46H423.92M423.10 594.84H423.61M423.10 630.92H423.86M423.10 646.18H423.79M423.10 640.96H423.87M423.10 594.96H425.11M423.10 607.08H425.14M423.10 604.12H423.71M423.10 635.80H425.10M423.10 640.20H425.13M423.10 598.55H424.92M423.10 632.30H424.57M423.10 644.35H424.13M423.10 646.07H425.11M423.10 594.62H423.63M423.10 629.14H425.32M423.10 598.30H424.25M423.10 633.39H423.95M423.10 640.49H424.62M423.10 597.23H424.37M423.10 625.05H424.52M423.10 630.55H423.90M423.10 637.06H424.36M423.10 628.82H424.92M423.10 616.57H424.41M423.10 636.46H425.58M423.10 636.37H424.79M423.10 609.79H423.73M423.10 646.59H425.08M423.10 638.68H424.30M423.10 626.71H425.65M423.10 638.89H424.86M423.10 610.66H424.50M423.10 641.96H424.39M423.10 630.98H424.86M423.10 642.39H425.30M423.10 609.30H423.60M423.10 608.20H424.49M423.10 625.68H425.31M423.10 641.92H423.69M423.10 638.99H425.30M423.10 640.83H424.80M423.10 608.79H425.39M423.10 637.58H425.04" stroke="#46509a" stroke-width="0.7" fill="none"/><path d="M449.13 603.96H450.50M448.62 594.02H450.50M449.50 602.57H450.50M447.67 602.00H450.50M448.48 595.81H450.50M448.84 601.13H450.50M449.36 595.48H450.50M448.02 602.01H450.50M449.78 598.52H450.50M448.07 602.68H450.50" stroke="#b04446" stroke-width="0.7" fill="none"/><path d="M448.05 612.40H450.50M447.29 616.38H450.50M448.31 614.13H450.50M449.03 614.54H450.50M449.05 612.15H450.50M448.59 615.21H450.50M448.49 614.39H450.50M449.13 614.10H450.50M447.01 611.27H450.50M449.23 613.24H450.50" stroke="#b04446" stroke-width="0.7" fill="none"/><path d="M449.23 636.98H450.50M449.44 622.68H450.50M449.53 628.35H450.50M450.06 618.62H450.50M449.15 647.71H450.50M449.48 632.59H450.50M449.24 625.85H450.50M449.06 630.78H450.50M449.20 641.02H450.50M449.82 646.90H450.50M449.88 619.14H450.50M450.01 623.42H450.50" stroke="#b04446" stroke-width="0.7" fill="none"/><path d="M460.20 595.33H461.87M460.20 616.64H461.66M460.20 618.63H462.61M460.20 595.67H461.96M460.20 604.33H460.95M460.20 618.94H461.24M460.20 608.68H462.05M460.20 618.87H462.11M460.20 604.22H461.64M460.20 598.15H462.73M460.20 619.78H461.17M460.20 595.00H461.24M460.20 603.15H462.60M460.20 617.52H462.46M460.20 595.22H462.35M460.20 612.45H462.06M460.20 619.62H460.82M460.20 597.76H462.29" stroke="#46509a" stroke-width="0.7" fill="none"/><path d="M460.20 611.00H468.75" stroke="#46509a" stroke-width="0.9" fill="none"/><path d="M460.00 621.00L462.52 621.00L462.15 621.70L461.62 622.40L462.03 623.10L462.26 623.80L461.35 624.50L461.65 625.20L461.56 625.90L461.37 626.60L461.87 627.30L461.44 628.00L461.53 628.70L461.40 629.40L462.15 630.10L461.22 630.80L462.20 631.50L461.47 632.20L461.25 632.90L462.50 633.60L461.51 634.30L462.51 635.00L462.41 635.70L460.00 636.00Z" fill="#46509a"/><path d="M460.00 636.00L463.96 636.00L462.31 636.70L462.98 637.40L462.21 638.10L464.04 638.80L463.85 639.50L463.38 640.20L463.00 640.90L462.75 641.60L463.81 642.30L463.05 643.00L463.38 643.70L462.31 644.40L462.49 645.10L462.12 645.80L463.57 646.50L463.22 647.20L462.32 647.90L463.92 648.60L460.00 648.60Z" fill="#46509a"/><path d="M485.99 607.65H487.70M486.30 601.56H487.70M486.16 639.18H487.70M485.82 602.23H487.70M484.91 610.49H487.70M484.75 599.28H487.70M484.93 596.13H487.70M486.44 629.76H487.70M486.27 619.26H487.70M486.46 607.18H487.70M484.72 613.04H487.70M484.86 647.89H487.70M486.26 598.37H487.70M486.77 642.29H487.70M486.25 632.96H487.70M486.86 646.82H487.70M486.15 637.39H487.70M486.90 600.71H487.70M485.74 638.77H487.70M485.94 603.22H487.70M486.42 643.16H487.70M486.60 624.42H487.70M485.21 602.91H487.70M486.47 632.14H487.70M486.71 597.36H487.70M485.81 626.47H487.70M486.45 608.06H487.70M485.34 626.68H487.70M485.62 637.64H487.70M486.76 604.13H487.70M486.00 633.30H487.70M486.78 632.69H487.70M486.16 637.59H487.70M485.00 639.30H487.70M486.87 620.12H487.70M485.85 643.06H487.70M486.31 640.96H487.70M485.07 603.23H487.70M486.54 613.19H487.70M485.59 613.41H487.70M485.76 593.26H487.70M485.77 617.52H487.70M485.33 599.64H487.70M485.00 637.91H487.70M485.34 610.65H487.70M485.25 613.98H487.70M484.98 596.37H487.70M485.81 645.47H487.70M485.73 621.23H487.70M486.85 622.55H487.70M486.41 646.21H487.70M486.67 603.03H487.70M485.10 606.78H487.70M486.69 594.65H487.70M486.47 631.44H487.70M485.58 593.97H487.70M485.75 624.71H487.70M486.67 631.65H487.70M485.32 640.82H487.70M486.63 595.48H487.70M485.80 620.15H487.70M486.63 608.38H487.70M486.60 615.31H487.70M485.01 625.55H487.70M485.64 601.10H487.70M486.54 634.06H487.70M484.84 638.43H487.70M485.97 614.38H487.70M485.74 639.18H487.70M484.83 614.76H487.70" stroke="#b04446" stroke-width="0.7" fill="none"/><path d="M483.00 596.75H487.70" stroke="#b04446" stroke-width="0.9" fill="none"/><path d="M481.90 608.60H487.70" stroke="#b04446" stroke-width="0.9" fill="none"/><path d="M497.50 635.95H498.68M497.50 606.98H498.67M497.50 617.52H499.96M497.50 637.44H499.83M497.50 638.01H499.70M497.50 596.89H499.03M497.50 645.72H499.87M497.50 607.46H498.84M497.50 628.17H498.73M497.50 622.66H498.14M497.50 617.38H499.01M497.50 595.12H498.28M497.50 646.36H499.55M497.50 644.59H499.27M497.50 637.70H499.77M497.50 641.77H498.07M497.50 628.65H498.53M497.50 630.64H498.55M497.50 623.28H499.85M497.50 627.55H498.50M497.50 622.10H498.87M497.50 645.35H498.58M497.50 610.49H499.30M497.50 600.50H499.19M497.50 645.63H499.03M497.50 608.49H498.93M497.50 622.83H498.30M497.50 600.69H498.26M497.50 609.85H498.81M497.50 609.57H498.49M497.50 598.74H499.09M497.50 639.35H499.22M497.50 624.79H499.30M497.50 604.86H499.42M497.50 618.89H499.10M497.50 627.09H498.94M497.50 610.77H498.48M497.50 605.97H499.02M497.50 614.69H499.17M497.50 594.64H498.71M497.50 640.54H498.48M497.50 624.06H498.98M497.50 609.38H499.98M497.50 609.96H499.54M497.50 602.56H498.13M497.50 641.05H498.88M497.50 597.35H498.78M497.50 617.75H499.47M497.50 599.90H498.45M497.50 645.80H499.48" stroke="#46509a" stroke-width="0.7" fill="none"/><path d="M300.05 693.55H302.00M298.90 695.52H302.00M298.31 698.16H302.00M299.44 700.21H302.00M298.67 699.39H302.00M299.58 699.60H302.00M298.79 699.85H302.00M300.77 701.15H302.00M301.19 700.71H302.00M299.21 699.66H302.00M297.93 696.98H302.00M299.78 697.72H302.00M298.23 699.84H302.00M299.91 698.07H302.00M299.64 696.52H302.00M300.20 699.23H302.00M299.31 695.91H302.00M300.11 695.85H302.00M298.31 699.87H302.00M299.69 697.00H302.00M300.17 693.84H302.00M299.24 693.45H302.00M300.90 697.82H302.00M300.10 701.20H302.00M298.35 700.43H302.00M300.51 701.59H302.00" stroke="#b04446" stroke-width="0.7" fill="none"/><path d="M297.59 696.56H302.00M299.40 694.06H302.00M298.46 697.39H302.00M297.88 699.52H302.00M297.40 697.23H302.00M298.41 697.10H302.00M298.68 698.11H302.00M298.25 696.15H302.00M297.51 696.11H302.00M298.40 698.06H302.00" stroke="#b04446" stroke-width="0.7" fill="none"/><path d="M297.20 706.90H302.00" stroke="#b04446" stroke-width="0.9" fill="none"/><path d="M301.23 689.96H302.00M301.04 702.04H302.00M300.72 708.96H302.00M301.11 724.58H302.00M300.98 703.61H302.00M301.26 725.84H302.00M300.78 707.21H302.00M301.28 692.83H302.00M300.77 725.14H302.00M301.49 706.50H302.00" stroke="#b04446" stroke-width="0.7" fill="none"/><path d="M311.80 688V726.5" stroke="#46509a" stroke-width="1.0"/><path d="M311.50 722.44H314.45M311.50 719.59H315.47M311.50 722.19H313.53M311.50 694.02H313.09M311.50 707.70H313.82M311.50 695.24H312.72M311.50 712.26H314.15M311.50 701.60H315.48M311.50 712.51H312.24M311.50 703.84H314.78M311.50 699.81H314.45M311.50 688.15H313.14M311.50 720.42H314.09M311.50 713.72H312.77M311.50 707.17H313.98M311.50 698.24H314.30M311.50 708.46H315.49M311.50 710.12H313.50M311.50 692.68H312.63M311.50 717.24H312.46M311.50 691.85H312.68M311.50 708.12H314.90M311.50 711.60H314.84M311.50 690.39H312.14M311.50 717.67H313.20M311.50 715.55H313.30M311.50 694.52H313.01M311.50 691.83H315.17M311.50 710.42H313.29M311.50 705.32H313.41M311.50 690.11H315.13M311.50 710.43H315.36M311.50 704.93H314.21M311.50 697.60H312.25M311.50 723.84H315.01M311.50 700.12H315.16M311.50 719.41H313.13M311.50 711.20H315.36M311.50 707.08H315.33M311.50 697.35H313.43M311.50 715.66H312.85M311.50 699.90H315.08M311.50 706.65H314.80M311.50 697.37H312.69M311.50 701.80H312.73M311.50 725.40H313.09M311.50 709.62H312.49M311.50 708.55H313.41M311.50 703.52H312.32M311.50 692.75H314.91M311.50 701.52H312.93M311.50 695.36H313.06M311.50 697.13H312.22M311.50 713.57H313.26M311.50 694.00H314.50" stroke="#46509a" stroke-width="0.7" fill="none"/><path d="M311.50 699.30H318.90" stroke="#46509a" stroke-width="0.9" fill="none"/><path d="M311.50 686.46H312.54M311.50 690.18H312.26M311.50 688.22H313.67M311.50 690.02H312.32" stroke="#46509a" stroke-width="0.7" fill="none"/><path d="M331.80 688.40H339.20" stroke="#b04446" stroke-width="0.9" fill="none"/><path d="M334.70 723.00H339.20" stroke="#b04446" stroke-width="0.9" fill="none"/><path d="M337.64 701.00H339.20M337.27 701.81H339.20M337.28 696.07H339.20M338.44 706.16H339.20M338.59 704.39H339.20M338.38 713.02H339.20M337.86 719.59H339.20M338.41 701.51H339.20M338.46 709.68H339.20M338.60 718.66H339.20M337.93 706.44H339.20M337.57 698.19H339.20M337.75 702.08H339.20M338.30 708.30H339.20" stroke="#b04446" stroke-width="0.7" fill="none"/><path d="M348.60 701.87H349.12M348.60 694.84H350.19M348.60 699.59H349.93M348.60 692.60H349.79M348.60 700.93H349.70M348.60 698.80H349.09M348.60 699.27H349.32M348.60 693.16H350.00M348.60 698.32H349.56M348.60 718.99H350.08M348.60 718.13H350.21M348.60 693.36H349.39" stroke="#46509a" stroke-width="0.7" fill="none"/><path d="M348.60 723.00H360.70" stroke="#46509a" stroke-width="1.0" fill="none"/><path d="M375.9 689V721.5" stroke="#b04446" stroke-width="0.9"/><path d="M373.83 689.96H376.20M374.69 710.57H376.20M373.89 702.41H376.20M374.95 711.73H376.20M374.68 716.52H376.20M375.13 709.44H376.20M373.23 692.75H376.20M373.75 712.86H376.20M375.50 690.31H376.20M375.08 694.27H376.20M374.61 698.85H376.20M374.79 690.28H376.20M375.13 709.75H376.20M374.12 716.28H376.20M374.94 712.29H376.20M373.82 703.14H376.20M375.60 700.34H376.20M373.58 716.11H376.20M375.49 698.31H376.20M374.02 716.76H376.20M374.96 690.54H376.20M373.54 692.61H376.20M373.22 695.83H376.20M375.38 713.36H376.20" stroke="#b04446" stroke-width="0.7" fill="none"/><path d="M386.05 711.58H387.67M386.05 713.30H388.80M386.05 698.14H386.88M386.05 719.76H387.75M386.05 719.23H388.45M386.05 713.00H388.81M386.05 709.41H387.83M386.05 690.76H388.47M386.05 702.92H387.98M386.05 719.16H386.98M386.05 713.76H386.76M386.05 711.84H388.74M386.05 697.49H388.07M386.05 720.51H388.31M386.05 706.68H387.30M386.05 690.93H387.58M386.05 702.38H387.17M386.05 699.09H387.01M386.05 711.98H388.39M386.05 696.73H387.28M386.05 705.75H387.81M386.05 719.41H387.56M386.05 698.73H388.95M386.05 693.61H388.11M386.05 699.84H388.77M386.05 706.82H388.63M386.05 694.50H388.38M386.05 708.46H387.85M386.05 713.90H388.81M386.05 692.72H387.40M386.05 700.72H387.19M386.05 690.96H387.38M386.05 695.41H388.47M386.05 703.56H386.94M386.05 699.55H387.87" stroke="#46509a" stroke-width="0.7" fill="none"/><path d="M410.59 684.76H413.10M411.54 680.54H413.10M407.10 693.89H413.10M407.30 680.72H413.10M408.22 693.71H413.10M408.67 681.08H413.10M410.46 685.80H413.10M411.55 687.37H413.10M407.73 692.83H413.10M405.99 688.60H413.10M410.09 688.96H413.10M410.77 683.07H413.10M406.95 679.90H413.10M409.82 691.67H413.10" stroke="#b04446" stroke-width="0.8" fill="none"/><path d="M412.9 679.5V694" stroke="#b04446" stroke-width="0.9"/><path d="M405.60 680.20H413.10" stroke="#b04446" stroke-width="1.2" fill="none"/><path d="M412.90 695V716.5" stroke="#b04446" stroke-width="0.8"/><path d="M411.32 698.99H413.10M410.75 713.18H413.10M411.03 698.62H413.10M411.12 712.85H413.10M412.23 702.02H413.10M411.96 712.74H413.10M411.50 702.92H413.10M410.94 702.94H413.10M412.52 700.15H413.10M411.34 707.19H413.10M411.19 712.62H413.10M410.71 714.46H413.10M411.60 705.63H413.10M412.00 698.39H413.10M412.44 707.49H413.10M412.27 709.79H413.10" stroke="#b04446" stroke-width="0.7" fill="none"/><path d="M423.20 696.18H425.93M423.20 683.27H423.79M423.20 696.04H424.14M423.20 706.39H423.71M423.20 710.69H425.67M423.20 708.72H424.68M423.20 690.34H425.22M423.20 698.78H424.67M423.20 692.36H424.71M423.20 704.31H425.60M423.20 713.00H424.08M423.20 690.79H424.72M423.20 700.56H424.50M423.20 687.13H423.90M423.20 691.81H424.76M423.20 715.45H425.79M423.20 711.59H425.94M423.20 715.11H425.13M423.20 709.61H423.84M423.20 704.69H425.10M423.20 690.84H425.01M423.20 714.78H424.81M423.20 703.63H424.39M423.20 692.53H425.74M423.20 681.02H424.13M423.20 704.77H424.73M423.20 683.11H425.22M423.20 693.58H425.04M423.20 695.20H424.92M423.20 700.62H424.61" stroke="#46509a" stroke-width="0.7" fill="none"/><path d="M450.30 679.50L445.60 679.50L445.80 682.00L446.60 683.50L447.00 685.50L448.20 687.70L450.30 687.70Z" fill="#b04446"/><path d="M446.44 680.86H450.30M445.70 686.67H450.30M445.08 680.84H450.30M446.61 681.90H450.30M446.30 683.98H450.30M445.69 683.67H450.30M445.65 681.70H450.30M445.77 680.85H450.30" stroke="#b04446" stroke-width="0.7" fill="none"/><path d="M440.00 690.60H450.30" stroke="#b04446" stroke-width="0.9" fill="none"/><path d="M448.98 694.53H450.30M449.01 693.45H450.30M445.85 693.64H450.30M446.44 694.30H450.30M448.84 695.54H450.30M446.41 696.94H450.30M445.98 691.61H450.30M448.61 693.35H450.30M447.05 696.76H450.30M448.75 695.65H450.30M449.07 695.66H450.30M447.81 692.42H450.30" stroke="#b04446" stroke-width="0.7" fill="none"/><path d="M448.95 698.23H450.30M449.42 701.20H450.30M449.22 708.61H450.30M448.91 711.33H450.30M449.00 711.08H450.30M448.51 711.76H450.30M448.71 700.52H450.30M448.68 703.12H450.30M448.58 708.21H450.30M449.30 699.84H450.30" stroke="#b04446" stroke-width="0.7" fill="none"/><path d="M460.10 704.33H463.44M460.10 703.82H460.73M460.10 699.93H460.90M460.10 698.11H463.01M460.10 683.73H463.38M460.10 702.28H461.36M460.10 686.37H461.94M460.10 707.66H462.34M460.10 683.75H460.66M460.10 683.64H463.00M460.10 686.11H462.26M460.10 689.57H462.66M460.10 692.57H461.03M460.10 708.89H462.22M460.10 702.75H463.02M460.10 711.31H460.64M460.10 691.30H461.05M460.10 696.56H463.22M460.10 706.41H460.71M460.10 686.02H463.05M460.10 702.42H461.78M460.10 695.70H461.07M460.10 707.89H461.78M460.10 708.81H462.43M460.10 682.50H461.59M460.10 687.14H463.28M460.10 699.44H460.73M460.10 685.60H461.68M460.10 695.44H462.33M460.10 692.80H461.66M460.10 680.20H462.34M460.10 691.01H460.66M460.10 695.16H463.56M460.10 681.50H461.04M460.10 702.14H461.42" stroke="#46509a" stroke-width="0.7" fill="none"/><path d="M460.10 700.50H467.50" stroke="#46509a" stroke-width="0.8" fill="none"/><path d="M487.2 679.5V687.7" stroke="#b04446" stroke-width="1.1"/><path d="M484.00 698.50H487.80" stroke="#b04446" stroke-width="0.8" fill="none"/><path d="M486.90 694.29H487.80M486.83 694.03H487.80M486.44 700.15H487.80M487.37 710.82H487.80M486.63 700.89H487.80M486.63 708.06H487.80" stroke="#b04446" stroke-width="0.7" fill="none"/><path d="M497.60 699.63H499.43M497.60 691.25H498.69M497.60 704.65H499.93M497.60 709.10H499.53M497.60 689.42H499.70M497.60 702.93H499.17M497.60 699.69H498.84M497.60 697.07H498.95M497.60 681.87H498.81M497.60 690.02H500.18M497.60 694.93H498.87M497.60 687.55H498.59M497.60 690.83H498.38M497.60 680.22H499.93M497.60 694.05H499.04M497.60 697.63H498.74M497.60 685.24H498.24M497.60 689.35H498.75M497.60 702.53H499.26M497.60 709.06H498.81M497.60 708.56H499.33M497.60 682.48H498.48M497.60 697.99H500.17M497.60 691.07H499.73" stroke="#46509a" stroke-width="0.7" fill="none"/><path d="M299.48 758.28H301.80M300.28 749.63H301.80M300.72 769.58H301.80M301.25 754.18H301.80M300.74 751.95H301.80M300.84 764.91H301.80M300.88 757.59H301.80M299.49 762.47H301.80M300.89 763.55H301.80M299.28 765.61H301.80M301.13 762.42H301.80M299.46 767.43H301.80M301.01 756.19H301.80M300.17 752.52H301.80" stroke="#b04446" stroke-width="0.7" fill="none"/><path d="M295.00 765.00H301.80" stroke="#b04446" stroke-width="0.8" fill="none"/><path d="M311.10 764.63H312.94M311.10 765.53H312.05M311.10 754.21H313.17M311.10 760.33H312.45M311.10 760.90H312.31M311.10 749.09H312.47M311.10 748.86H312.92M311.10 754.36H312.64M311.10 759.36H312.14M311.10 756.80H311.63M311.10 765.58H312.78M311.10 766.76H311.72M311.10 759.67H313.12M311.10 754.25H311.80M311.10 750.97H311.90M311.10 762.58H311.79M311.10 763.47H312.49M311.10 758.23H312.84M311.10 758.54H312.98M311.10 759.43H312.29" stroke="#46509a" stroke-width="0.7" fill="none"/><path d="M310.90 767.00L314.25 767.00L313.04 767.60L314.18 768.20L314.31 768.80L314.34 769.40L313.17 770.00L314.33 770.60L314.84 771.20L310.90 771.40Z" fill="#46509a"/><path d="M338.90 760.75L336.88 760.75L337.35 761.35L336.69 761.95L335.56 762.55L337.74 763.15L338.08 763.75L336.82 764.35L336.33 764.95L336.01 765.55L337.12 766.15L335.43 766.75L337.48 767.35L336.06 767.95L337.86 768.55L338.02 769.15L337.74 769.75L337.94 770.35L336.75 770.95L336.60 771.55L338.90 772.00Z" fill="#b04446"/><path d="M334.40 762.00H338.70" stroke="#b04446" stroke-width="0.8" fill="none"/><path d="M337.27 750.18H338.70M338.14 752.39H338.70M337.49 750.13H338.70M338.12 759.06H338.70M337.44 748.35H338.70M337.22 750.91H338.70" stroke="#b04446" stroke-width="0.7" fill="none"/><path d="M348.50 760.47H350.34M348.50 756.61H350.68M348.50 759.50H349.68M348.50 770.59H349.23M348.50 766.33H349.14M348.50 764.14H349.84M348.50 769.60H349.13M348.50 762.11H349.86M348.50 770.98H350.98M348.50 763.68H349.47M348.50 754.30H349.55M348.50 758.84H349.49M348.50 753.08H350.59M348.50 764.07H349.63M348.50 772.86H349.45M348.50 762.24H349.33M348.50 769.58H350.83M348.50 754.68H350.58M348.50 768.57H349.59M348.50 756.29H350.02M348.50 770.27H349.34M348.50 765.07H350.25M348.50 759.33H350.22M348.50 770.07H349.44M348.50 770.09H349.76M348.50 767.50H350.81M348.50 752.56H350.81M348.50 772.87H349.62M348.50 748.61H349.23M348.50 772.36H349.02" stroke="#46509a" stroke-width="0.7" fill="none"/><path d="M375.53 765.85H376.20M375.59 763.57H376.20M374.95 756.19H376.20M375.33 755.17H376.20M374.91 765.94H376.20M374.62 765.47H376.20M375.44 754.43H376.20M374.94 764.30H376.20M375.14 754.49H376.20M375.23 757.01H376.20" stroke="#b04446" stroke-width="0.7" fill="none"/><path d="M385.85 754.50L388.14 754.50L387.91 755.10L390.62 755.70L388.74 756.30L390.31 756.90L388.19 757.50L389.21 758.10L388.23 758.70L389.05 759.30L388.35 759.90L389.77 760.50L388.26 761.10L389.92 761.70L389.25 762.30L388.16 762.90L388.84 763.50L389.24 764.10L390.42 764.70L388.83 765.30L388.45 765.90L390.56 766.50L390.32 767.10L385.85 767.60Z" fill="#46509a"/><path d="M413.30 760.00L410.53 760.00L411.76 760.80L412.02 761.60L411.79 762.40L412.31 763.20L412.38 764.00L411.13 764.80L411.40 765.60L411.00 766.40L411.52 767.20L412.47 768.00L410.64 768.80L413.30 769.00Z" fill="#b04446"/><path d="M410.70 764.49H413.10M410.18 763.13H413.10M409.54 768.77H413.10M411.20 765.33H413.10M411.13 760.14H413.10M411.25 768.65H413.10M411.17 761.01H413.10M409.11 757.86H413.10M410.47 756.07H413.10M411.71 768.04H413.10" stroke="#b04446" stroke-width="0.7" fill="none"/><path d="M423.00 755.00L426.33 755.00L425.63 755.60L425.22 756.20L425.10 756.80L424.85 757.40L427.03 758.00L426.85 758.60L427.23 759.20L424.65 759.80L426.58 760.40L425.47 761.00L426.44 761.60L426.15 762.20L425.45 762.80L427.41 763.40L424.50 764.00L426.74 764.60L427.06 765.20L426.03 765.80L426.28 766.40L427.48 767.00L425.20 767.60L426.39 768.20L426.73 768.80L423.00 769.00Z" fill="#46509a"/><path d="M423.20 757.40H435.00" stroke="#46509a" stroke-width="0.9" fill="none"/><path d="M408.00 769.00H413.10" stroke="#b04446" stroke-width="0.9" fill="none"/><path d="M450.00 747.90L442.17 747.90L441.70 748.60L442.15 749.30L441.96 750.00L441.84 750.70L441.75 751.40L442.25 752.10L441.82 752.80L441.94 753.50L442.39 754.20L441.84 754.90L442.33 755.60L441.43 756.30L442.04 757.00L441.69 757.70L441.97 758.40L442.03 759.10L442.39 759.80L442.50 760.50L441.40 761.20L441.96 761.90L441.97 762.60L441.96 763.30L441.56 764.00L442.37 764.70L442.46 765.40L441.55 766.10L442.06 766.80L441.80 767.50L441.54 768.20L441.45 768.90L441.49 769.60L442.64 770.30L442.17 771.00L441.54 771.70L450.00 771.70Z" fill="#b04446"/><path d="M450.00 773.50L441.31 773.50L442.49 774.20L442.44 774.90L442.27 775.60L442.53 776.30L442.09 777.00L441.33 777.70L441.81 778.40L441.93 779.10L442.55 779.80L442.03 780.50L441.01 781.20L441.52 781.90L441.94 782.60L441.89 783.30L441.34 784.00L441.41 784.70L442.45 785.40L441.54 786.10L442.08 786.80L441.81 787.50L442.30 788.20L442.07 788.90L442.12 789.60L442.05 790.30L442.67 791.00L442.36 791.70L441.73 792.40L442.60 793.10L442.40 793.80L441.48 794.50L442.23 795.20L442.15 795.90L442.29 796.60L441.28 797.30L442.54 798.00L441.62 798.70L441.24 799.40L442.36 800.10L441.98 800.80L441.35 801.50L441.65 802.20L442.07 802.90L442.63 803.60L441.95 804.30L442.08 805.00L441.49 805.70L442.20 806.40L442.01 807.10L441.60 807.80L441.32 808.50L442.10 809.20L442.04 809.90L441.72 810.60L441.13 811.30L450.00 811.80Z" fill="#b04446"/><path d="M460.40 748.60H467.90" stroke="#46509a" stroke-width="1.4" fill="none"/><path d="M460.40 761.07H462.75M460.40 793.85H461.61M460.40 790.93H461.53M460.40 753.46H462.34M460.40 772.90H461.90M460.40 780.29H462.61M460.40 796.69H460.95M460.40 786.34H461.78M460.40 778.12H462.50M460.40 775.14H461.80M460.40 805.09H461.74M460.40 779.95H461.87M460.40 800.95H462.17M460.40 795.65H461.66M460.40 751.56H462.19M460.40 783.89H462.36M460.40 797.50H461.12M460.40 762.90H461.05M460.40 800.50H461.09M460.40 754.56H462.33M460.40 784.56H461.00M460.40 791.90H462.25M460.40 779.42H461.00M460.40 792.53H461.69M460.40 785.79H462.80M460.40 800.46H462.56M460.40 758.17H461.54M460.40 781.65H460.91M460.40 811.29H461.42M460.40 765.53H461.49M460.40 765.07H462.53M460.40 784.01H461.87M460.40 775.47H461.00M460.40 768.18H462.55M460.40 799.52H462.53M460.40 765.20H461.28M460.40 752.28H461.92M460.40 772.55H461.78M460.40 779.81H462.01M460.40 772.04H462.42" stroke="#46509a" stroke-width="0.7" fill="none"/><path d="M460.40 783.40H467.90" stroke="#46509a" stroke-width="0.8" fill="none"/><path d="M460.40 800.00H465.08M460.40 805.34H461.60M460.40 801.71H463.53M460.40 803.13H463.66M460.40 801.85H462.49M460.40 808.94H462.57M460.40 807.66H464.61M460.40 805.88H463.22M460.40 811.02H463.18M460.40 810.17H461.63M460.40 803.51H463.96M460.40 797.73H464.85M460.40 798.08H463.79M460.40 799.70H465.09M460.40 805.42H464.60M460.40 804.47H464.10M460.40 807.12H462.58M460.40 800.17H464.75M460.40 799.19H465.07M460.40 800.10H461.80" stroke="#46509a" stroke-width="0.7" fill="none"/><rect x="482.3" y="749" width="4.9" height="2.6" fill="#b04446"/><rect x="482.3" y="752.4" width="4.9" height="7.5" fill="#b04446"/><rect x="497.6" y="749" width="8.0" height="2.6" fill="#46509a"/><rect x="497.6" y="752.4" width="8.0" height="7.5" fill="#46509a"/><clipPath id="c10"><rect x="303.00" y="469.40" width="7.00" height="51.60" rx="3.2"/></clipPath><g clip-path="url(#c10)"><rect x="303.00" y="469.40" width="7.00" height="51.60" fill="#fafafa"/><rect x="303.00" y="475.00" width="7.00" height="1.20" fill="#929292"/><rect x="303.00" y="478.40" width="7.00" height="1.00" fill="#cdcdcd"/><rect x="303.00" y="481.50" width="7.00" height="1.00" fill="#cdcdcd"/><rect x="303.00" y="484.50" width="7.00" height="1.00" fill="#cdcdcd"/><rect x="303.00" y="489.05" width="7.00" height="1.50" fill="#545454"/><rect x="303.00" y="492.50" width="7.00" height="1.20" fill="#929292"/><rect x="303.00" y="495.65" width="7.00" height="1.50" fill="#929292"/><rect x="303.00" y="499.05" width="7.00" height="4.50" fill="#202020"/><rect x="303.00" y="505.85" width="7.00" height="1.50" fill="#545454"/><rect x="303.00" y="508.75" width="7.00" height="1.50" fill="#545454"/><rect x="303.00" y="511.80" width="7.00" height="2.00" fill="#202020"/><rect x="303.00" y="515.35" width="7.00" height="1.50" fill="#929292"/><rect x="303.00" y="469.40" width="7.00" height="51.60" fill="url(#cyl)"/></g><rect x="303.00" y="469.40" width="7.00" height="51.60" rx="3.2" fill="none" stroke="#8f8f8f" stroke-width="0.55"/><clipPath id="c11"><rect x="303.00" y="521.00" width="7.00" height="51.00" rx="3.2"/></clipPath><g clip-path="url(#c11)"><rect x="303.00" y="521.00" width="7.00" height="51.00" fill="#fafafa"/><rect x="303.00" y="522.50" width="7.00" height="6.00" fill="#e6e6e6"/><rect x="303.00" y="530.05" width="7.00" height="1.50" fill="#929292"/><rect x="303.00" y="533.20" width="7.00" height="1.00" fill="#cdcdcd"/><rect x="303.00" y="535.00" width="7.00" height="1.00" fill="#cdcdcd"/><rect x="303.00" y="537.20" width="7.00" height="1.00" fill="#cdcdcd"/><rect x="303.00" y="539.55" width="7.00" height="1.50" fill="#929292"/><rect x="303.00" y="542.05" width="7.00" height="1.50" fill="#929292"/><rect x="303.00" y="545.80" width="7.00" height="2.00" fill="#202020"/><rect x="303.00" y="549.10" width="7.00" height="2.00" fill="#202020"/><rect x="303.00" y="554.70" width="7.00" height="1.00" fill="#cdcdcd"/><rect x="303.00" y="558.15" width="7.00" height="3.50" fill="#202020"/><rect x="303.00" y="564.35" width="7.00" height="1.50" fill="#929292"/><rect x="303.00" y="567.15" width="7.00" height="2.50" fill="#545454"/><rect x="303.00" y="521.00" width="7.00" height="51.00" fill="url(#cyl)"/></g><rect x="303.00" y="521.00" width="7.00" height="51.00" rx="3.2" fill="none" stroke="#8f8f8f" stroke-width="0.55"/><clipPath id="c20"><rect x="340.10" y="469.20" width="7.20" height="38.60" rx="3.2"/></clipPath><g clip-path="url(#c20)"><rect x="340.10" y="469.20" width="7.20" height="38.60" fill="#fafafa"/><rect x="340.10" y="472.20" width="7.20" height="1.00" fill="#cdcdcd"/><rect x="340.10" y="474.85" width="7.20" height="1.50" fill="#545454"/><rect x="340.10" y="477.75" width="7.20" height="1.50" fill="#545454"/><rect x="340.10" y="482.85" width="7.20" height="1.50" fill="#929292"/><rect x="340.10" y="485.60" width="7.20" height="1.20" fill="#cdcdcd"/><rect x="340.10" y="489.20" width="7.20" height="2.00" fill="#202020"/><rect x="340.10" y="492.50" width="7.20" height="2.00" fill="#202020"/><rect x="340.10" y="496.05" width="7.20" height="1.50" fill="#929292"/><rect x="340.10" y="500.90" width="7.20" height="3.00" fill="#202020"/><rect x="340.10" y="469.20" width="7.20" height="38.60" fill="url(#cyl)"/></g><rect x="340.10" y="469.20" width="7.20" height="38.60" rx="3.2" fill="none" stroke="#8f8f8f" stroke-width="0.55"/><clipPath id="c21"><rect x="340.10" y="507.80" width="7.20" height="61.20" rx="3.2"/></clipPath><g clip-path="url(#c21)"><rect x="340.10" y="507.80" width="7.20" height="61.20" fill="#fafafa"/><rect x="340.10" y="511.65" width="7.20" height="1.50" fill="#929292"/><rect x="340.10" y="516.75" width="7.20" height="1.50" fill="#929292"/><rect x="340.10" y="520.15" width="7.20" height="2.50" fill="#929292"/><rect x="340.10" y="526.00" width="7.20" height="2.00" fill="#202020"/><rect x="340.10" y="528.90" width="7.20" height="2.00" fill="#202020"/><rect x="340.10" y="533.35" width="7.20" height="1.50" fill="#545454"/><rect x="340.10" y="537.25" width="7.20" height="1.50" fill="#545454"/><rect x="340.10" y="541.50" width="7.20" height="1.00" fill="#cdcdcd"/><rect x="340.10" y="544.95" width="7.20" height="1.50" fill="#545454"/><rect x="340.10" y="548.65" width="7.20" height="1.50" fill="#545454"/><rect x="340.10" y="552.60" width="7.20" height="1.00" fill="#cdcdcd"/><rect x="340.10" y="555.90" width="7.20" height="2.00" fill="#202020"/><rect x="340.10" y="560.10" width="7.20" height="1.00" fill="#cdcdcd"/><rect x="340.10" y="562.20" width="7.20" height="2.00" fill="#202020"/><rect x="340.10" y="507.80" width="7.20" height="61.20" fill="url(#cyl)"/></g><rect x="340.10" y="507.80" width="7.20" height="61.20" rx="3.2" fill="none" stroke="#8f8f8f" stroke-width="0.55"/><clipPath id="c30"><rect x="377.30" y="469.20" width="7.30" height="38.30" rx="3.2"/></clipPath><g clip-path="url(#c30)"><rect x="377.30" y="469.20" width="7.30" height="38.30" fill="#fafafa"/><rect x="377.30" y="473.50" width="7.30" height="1.00" fill="#cdcdcd"/><rect x="377.30" y="476.50" width="7.30" height="2.00" fill="#202020"/><rect x="377.30" y="480.55" width="7.30" height="1.50" fill="#929292"/><rect x="377.30" y="483.30" width="7.30" height="1.00" fill="#cdcdcd"/><rect x="377.30" y="486.15" width="7.30" height="1.50" fill="#929292"/><rect x="377.30" y="492.00" width="7.30" height="1.00" fill="#cdcdcd"/><rect x="377.30" y="496.15" width="7.30" height="1.50" fill="#929292"/><rect x="377.30" y="500.55" width="7.30" height="1.50" fill="#545454"/><rect x="377.30" y="504.25" width="7.30" height="1.50" fill="#929292"/><rect x="377.30" y="469.20" width="7.30" height="38.30" fill="url(#cyl)"/></g><rect x="377.30" y="469.20" width="7.30" height="38.30" rx="3.2" fill="none" stroke="#8f8f8f" stroke-width="0.55"/><clipPath id="c31"><rect x="377.30" y="507.50" width="7.30" height="43.30" rx="3.2"/></clipPath><g clip-path="url(#c31)"><rect x="377.30" y="507.50" width="7.30" height="43.30" fill="#fafafa"/><rect x="377.30" y="511.15" width="7.30" height="1.50" fill="#929292"/><rect x="377.30" y="514.40" width="7.30" height="1.20" fill="#929292"/><rect x="377.30" y="516.60" width="7.30" height="1.20" fill="#929292"/><rect x="377.30" y="518.70" width="7.30" height="1.20" fill="#929292"/><rect x="377.30" y="522.00" width="7.30" height="4.00" fill="#e6e6e6"/><rect x="377.30" y="528.60" width="7.30" height="2.00" fill="#202020"/><rect x="377.30" y="532.50" width="7.30" height="1.00" fill="#cdcdcd"/><rect x="377.30" y="535.70" width="7.30" height="2.00" fill="#202020"/><rect x="377.30" y="540.25" width="7.30" height="1.50" fill="#545454"/><rect x="377.30" y="543.45" width="7.30" height="1.50" fill="#929292"/><rect x="377.30" y="547.15" width="7.30" height="1.50" fill="#929292"/><rect x="377.30" y="507.50" width="7.30" height="43.30" fill="url(#cyl)"/></g><rect x="377.30" y="507.50" width="7.30" height="43.30" rx="3.2" fill="none" stroke="#8f8f8f" stroke-width="0.55"/><clipPath id="c40"><rect x="414.50" y="469.20" width="7.30" height="20.80" rx="3.2"/></clipPath><g clip-path="url(#c40)"><rect x="414.50" y="469.20" width="7.30" height="20.80" fill="#fafafa"/><rect x="414.50" y="473.25" width="7.30" height="1.00" fill="#cdcdcd"/><rect x="414.50" y="476.75" width="7.30" height="1.50" fill="#929292"/><rect x="414.50" y="481.50" width="7.30" height="2.00" fill="#202020"/><rect x="414.50" y="486.15" width="7.30" height="1.50" fill="#929292"/><rect x="414.50" y="469.20" width="7.30" height="20.80" fill="url(#cyl)"/></g><rect x="414.50" y="469.20" width="7.30" height="20.80" rx="3.2" fill="none" stroke="#8f8f8f" stroke-width="0.55"/><clipPath id="c41"><rect x="414.50" y="490.00" width="7.30" height="58.20" rx="3.2"/></clipPath><g clip-path="url(#c41)"><rect x="414.50" y="490.00" width="7.30" height="58.20" fill="#fafafa"/><rect x="414.50" y="494.00" width="7.30" height="2.00" fill="#202020"/><rect x="414.50" y="498.00" width="7.30" height="1.50" fill="#929292"/><rect x="414.50" y="501.45" width="7.30" height="1.50" fill="#545454"/><rect x="414.50" y="505.55" width="7.30" height="1.50" fill="#545454"/><rect x="414.50" y="508.80" width="7.30" height="1.20" fill="#929292"/><rect x="414.50" y="512.05" width="7.30" height="1.50" fill="#929292"/><rect x="414.50" y="517.25" width="7.30" height="1.50" fill="#545454"/><rect x="414.50" y="523.75" width="7.30" height="2.50" fill="#202020"/><rect x="414.50" y="528.90" width="7.30" height="1.00" fill="#cdcdcd"/><rect x="414.50" y="533.40" width="7.30" height="2.00" fill="#202020"/><rect x="414.50" y="537.10" width="7.30" height="2.00" fill="#202020"/><rect x="414.50" y="542.10" width="7.30" height="2.00" fill="#202020"/><rect x="414.50" y="490.00" width="7.30" height="58.20" fill="url(#cyl)"/></g><rect x="414.50" y="490.00" width="7.30" height="58.20" rx="3.2" fill="none" stroke="#8f8f8f" stroke-width="0.55"/><clipPath id="c50"><rect x="451.80" y="469.20" width="7.00" height="19.80" rx="3.2"/></clipPath><g clip-path="url(#c50)"><rect x="451.80" y="469.20" width="7.00" height="19.80" fill="#fafafa"/><rect x="451.80" y="473.80" width="7.00" height="1.20" fill="#929292"/><rect x="451.80" y="477.50" width="7.00" height="2.00" fill="#202020"/><rect x="451.80" y="480.45" width="7.00" height="1.50" fill="#545454"/><rect x="451.80" y="484.70" width="7.00" height="1.00" fill="#cdcdcd"/><rect x="451.80" y="469.20" width="7.00" height="19.80" fill="url(#cyl)"/></g><rect x="451.80" y="469.20" width="7.00" height="19.80" rx="3.2" fill="none" stroke="#8f8f8f" stroke-width="0.55"/><clipPath id="c51"><rect x="451.80" y="489.00" width="7.00" height="54.50" rx="3.2"/></clipPath><g clip-path="url(#c51)"><rect x="451.80" y="489.00" width="7.00" height="54.50" fill="#fafafa"/><rect x="451.80" y="494.00" width="7.00" height="1.20" fill="#929292"/><rect x="451.80" y="496.70" width="7.00" height="1.20" fill="#929292"/><rect x="451.80" y="504.50" width="7.00" height="2.00" fill="#202020"/><rect x="451.80" y="510.30" width="7.00" height="2.00" fill="#202020"/><rect x="451.80" y="517.10" width="7.00" height="2.00" fill="#202020"/><rect x="451.80" y="521.50" width="7.00" height="2.00" fill="#202020"/><rect x="451.80" y="529.05" width="7.00" height="1.50" fill="#929292"/><rect x="451.80" y="535.75" width="7.00" height="2.50" fill="#202020"/><rect x="451.80" y="489.00" width="7.00" height="54.50" fill="url(#cyl)"/></g><rect x="451.80" y="489.00" width="7.00" height="54.50" rx="3.2" fill="none" stroke="#8f8f8f" stroke-width="0.55"/><clipPath id="c60"><rect x="489.00" y="469.20" width="7.00" height="24.10" rx="3.2"/></clipPath><g clip-path="url(#c60)"><rect x="489.00" y="469.20" width="7.00" height="24.10" fill="#fafafa"/><rect x="489.00" y="471.90" width="7.00" height="1.00" fill="#cdcdcd"/><rect x="489.00" y="477.05" width="7.00" height="1.50" fill="#545454"/><rect x="489.00" y="480.70" width="7.00" height="1.00" fill="#cdcdcd"/><rect x="489.00" y="489.35" width="7.00" height="2.50" fill="#202020"/><rect x="489.00" y="469.20" width="7.00" height="24.10" fill="url(#cyl)"/></g><rect x="489.00" y="469.20" width="7.00" height="24.10" rx="3.2" fill="none" stroke="#8f8f8f" stroke-width="0.55"/><clipPath id="c61"><rect x="489.00" y="493.30" width="7.00" height="46.20" rx="3.2"/></clipPath><g clip-path="url(#c61)"><rect x="489.00" y="493.30" width="7.00" height="46.20" fill="#fafafa"/><rect x="489.00" y="495.60" width="7.00" height="2.00" fill="#202020"/><rect x="489.00" y="501.25" width="7.00" height="1.50" fill="#929292"/><rect x="489.00" y="508.40" width="7.00" height="2.00" fill="#202020"/><rect x="489.00" y="511.35" width="7.00" height="1.50" fill="#545454"/><rect x="489.00" y="518.00" width="7.00" height="3.00" fill="#202020"/><rect x="489.00" y="526.15" width="7.00" height="1.50" fill="#929292"/><rect x="489.00" y="530.25" width="7.00" height="1.50" fill="#929292"/><rect x="489.00" y="534.25" width="7.00" height="1.50" fill="#929292"/><rect x="489.00" y="493.30" width="7.00" height="46.20" fill="url(#cyl)"/></g><rect x="489.00" y="493.30" width="7.00" height="46.20" rx="3.2" fill="none" stroke="#8f8f8f" stroke-width="0.55"/><clipPath id="c70"><rect x="302.80" y="593.00" width="7.00" height="24.60" rx="3.2"/></clipPath><g clip-path="url(#c70)"><rect x="302.80" y="593.00" width="7.00" height="24.60" fill="#fafafa"/><rect x="302.80" y="596.40" width="7.00" height="2.00" fill="#202020"/><rect x="302.80" y="600.25" width="7.00" height="1.50" fill="#545454"/><rect x="302.80" y="605.50" width="7.00" height="1.00" fill="#cdcdcd"/><rect x="302.80" y="608.85" width="7.00" height="1.50" fill="#929292"/><rect x="302.80" y="612.55" width="7.00" height="1.50" fill="#545454"/><rect x="302.80" y="614.80" width="7.00" height="1.20" fill="#929292"/><rect x="302.80" y="593.00" width="7.00" height="24.60" fill="url(#cyl)"/></g><rect x="302.80" y="593.00" width="7.00" height="24.60" rx="3.2" fill="none" stroke="#8f8f8f" stroke-width="0.55"/><clipPath id="c71"><rect x="302.80" y="617.60" width="7.00" height="41.10" rx="3.2"/></clipPath><g clip-path="url(#c71)"><rect x="302.80" y="617.60" width="7.00" height="41.10" fill="#fafafa"/><rect x="302.80" y="620.70" width="7.00" height="1.00" fill="#cdcdcd"/><rect x="302.80" y="625.20" width="7.00" height="3.00" fill="#202020"/><rect x="302.80" y="630.80" width="7.00" height="1.00" fill="#cdcdcd"/><rect x="302.80" y="636.80" width="7.00" height="2.00" fill="#545454"/><rect x="302.80" y="642.05" width="7.00" height="1.50" fill="#929292"/><rect x="302.80" y="646.45" width="7.00" height="1.50" fill="#545454"/><rect x="302.80" y="651.90" width="7.00" height="2.00" fill="#202020"/><rect x="302.80" y="617.60" width="7.00" height="41.10" fill="url(#cyl)"/></g><rect x="302.80" y="617.60" width="7.00" height="41.10" rx="3.2" fill="none" stroke="#8f8f8f" stroke-width="0.55"/><clipPath id="c80"><rect x="340.40" y="593.00" width="7.00" height="18.10" rx="3.2"/></clipPath><g clip-path="url(#c80)"><rect x="340.40" y="593.00" width="7.00" height="18.10" fill="#fafafa"/><rect x="340.40" y="597.35" width="7.00" height="1.50" fill="#545454"/><rect x="340.40" y="602.45" width="7.00" height="1.50" fill="#929292"/><rect x="340.40" y="606.05" width="7.00" height="1.50" fill="#929292"/><rect x="340.40" y="609.10" width="7.00" height="1.00" fill="#cdcdcd"/><rect x="340.40" y="593.00" width="7.00" height="18.10" fill="url(#cyl)"/></g><rect x="340.40" y="593.00" width="7.00" height="18.10" rx="3.2" fill="none" stroke="#8f8f8f" stroke-width="0.55"/><clipPath id="c81"><rect x="340.40" y="611.10" width="7.00" height="42.60" rx="3.2"/></clipPath><g clip-path="url(#c81)"><rect x="340.40" y="611.10" width="7.00" height="42.60" fill="#fafafa"/><rect x="340.40" y="616.15" width="7.00" height="1.50" fill="#929292"/><rect x="340.40" y="623.10" width="7.00" height="2.00" fill="#202020"/><rect x="340.40" y="628.80" width="7.00" height="2.00" fill="#202020"/><rect x="340.40" y="633.45" width="7.00" height="1.50" fill="#929292"/><rect x="340.40" y="639.00" width="7.00" height="2.00" fill="#202020"/><rect x="340.40" y="644.95" width="7.00" height="1.50" fill="#929292"/><rect x="340.40" y="649.25" width="7.00" height="1.50" fill="#929292"/><rect x="340.40" y="611.10" width="7.00" height="42.60" fill="url(#cyl)"/></g><rect x="340.40" y="611.10" width="7.00" height="42.60" rx="3.2" fill="none" stroke="#8f8f8f" stroke-width="0.55"/><clipPath id="c90"><rect x="377.30" y="593.00" width="7.30" height="20.00" rx="3.2"/></clipPath><g clip-path="url(#c90)"><rect x="377.30" y="593.00" width="7.30" height="20.00" fill="#fafafa"/><rect x="377.30" y="596.65" width="7.30" height="1.50" fill="#929292"/><rect x="377.30" y="601.00" width="7.30" height="2.00" fill="#202020"/><rect x="377.30" y="604.50" width="7.30" height="2.00" fill="#202020"/><rect x="377.30" y="608.75" width="7.30" height="1.00" fill="#cdcdcd"/><rect x="377.30" y="611.25" width="7.30" height="1.00" fill="#cdcdcd"/><rect x="377.30" y="593.00" width="7.30" height="20.00" fill="url(#cyl)"/></g><rect x="377.30" y="593.00" width="7.30" height="20.00" rx="3.2" fill="none" stroke="#8f8f8f" stroke-width="0.55"/><clipPath id="c91"><rect x="377.30" y="613.00" width="7.30" height="38.10" rx="3.2"/></clipPath><g clip-path="url(#c91)"><rect x="377.30" y="613.00" width="7.30" height="38.10" fill="#fafafa"/><rect x="377.30" y="614.50" width="7.30" height="8.00" fill="#e6e6e6"/><rect x="377.30" y="624.15" width="7.30" height="1.50" fill="#929292"/><rect x="377.30" y="628.65" width="7.30" height="1.20" fill="#cdcdcd"/><rect x="377.30" y="635.00" width="7.30" height="2.00" fill="#202020"/><rect x="377.30" y="641.65" width="7.30" height="1.50" fill="#545454"/><rect x="377.30" y="645.00" width="7.30" height="1.00" fill="#cdcdcd"/><rect x="377.30" y="613.00" width="7.30" height="38.10" fill="url(#cyl)"/></g><rect x="377.30" y="613.00" width="7.30" height="38.10" rx="3.2" fill="none" stroke="#8f8f8f" stroke-width="0.55"/><clipPath id="c100"><rect x="414.50" y="593.00" width="7.30" height="16.25" rx="3.2"/></clipPath><g clip-path="url(#c100)"><rect x="414.50" y="593.00" width="7.30" height="16.25" fill="#fafafa"/><rect x="414.50" y="596.00" width="7.30" height="1.50" fill="#929292"/><rect x="414.50" y="599.75" width="7.30" height="1.50" fill="#929292"/><rect x="414.50" y="605.60" width="7.30" height="1.00" fill="#cdcdcd"/><rect x="414.50" y="593.00" width="7.30" height="16.25" fill="url(#cyl)"/></g><rect x="414.50" y="593.00" width="7.30" height="16.25" rx="3.2" fill="none" stroke="#8f8f8f" stroke-width="0.55"/><clipPath id="c101"><rect x="414.50" y="609.25" width="7.30" height="39.35" rx="3.2"/></clipPath><g clip-path="url(#c101)"><rect x="414.50" y="609.25" width="7.30" height="39.35" fill="#fafafa"/><rect x="414.50" y="615.75" width="7.30" height="2.00" fill="#202020"/><rect x="414.50" y="620.10" width="7.30" height="2.00" fill="#202020"/><rect x="414.50" y="624.40" width="7.30" height="1.00" fill="#cdcdcd"/><rect x="414.50" y="627.00" width="7.30" height="2.00" fill="#202020"/><rect x="414.50" y="631.00" width="7.30" height="1.50" fill="#929292"/><rect x="414.50" y="636.40" width="7.30" height="2.00" fill="#202020"/><rect x="414.50" y="640.35" width="7.30" height="1.50" fill="#929292"/><rect x="414.50" y="645.00" width="7.30" height="1.00" fill="#cdcdcd"/><rect x="414.50" y="609.25" width="7.30" height="39.35" fill="url(#cyl)"/></g><rect x="414.50" y="609.25" width="7.30" height="39.35" rx="3.2" fill="none" stroke="#8f8f8f" stroke-width="0.55"/><clipPath id="c110"><rect x="451.80" y="593.00" width="7.10" height="21.50" rx="3.2"/></clipPath><g clip-path="url(#c110)"><rect x="451.80" y="593.00" width="7.10" height="21.50" fill="#fafafa"/><rect x="451.80" y="595.00" width="7.10" height="1.00" fill="#cdcdcd"/><rect x="451.80" y="598.10" width="7.10" height="1.00" fill="#cdcdcd"/><rect x="451.80" y="602.60" width="7.10" height="2.00" fill="#202020"/><rect x="451.80" y="608.25" width="7.10" height="2.00" fill="#202020"/><rect x="451.80" y="611.90" width="7.10" height="1.00" fill="#cdcdcd"/><rect x="451.80" y="593.00" width="7.10" height="21.50" fill="url(#cyl)"/></g><rect x="451.80" y="593.00" width="7.10" height="21.50" rx="3.2" fill="none" stroke="#8f8f8f" stroke-width="0.55"/><clipPath id="c111"><rect x="451.80" y="614.50" width="7.10" height="34.10" rx="3.2"/></clipPath><g clip-path="url(#c111)"><rect x="451.80" y="614.50" width="7.10" height="34.10" fill="#fafafa"/><rect x="451.80" y="616.25" width="7.10" height="1.00" fill="#cdcdcd"/><rect x="451.80" y="620.00" width="7.10" height="1.00" fill="#cdcdcd"/><rect x="451.80" y="625.10" width="7.10" height="2.00" fill="#202020"/><rect x="451.80" y="629.15" width="7.10" height="1.50" fill="#545454"/><rect x="451.80" y="633.90" width="7.10" height="2.00" fill="#202020"/><rect x="451.80" y="636.65" width="7.10" height="1.50" fill="#545454"/><rect x="451.80" y="641.90" width="7.10" height="1.00" fill="#cdcdcd"/><rect x="451.80" y="645.60" width="7.10" height="1.00" fill="#cdcdcd"/><rect x="451.80" y="614.50" width="7.10" height="34.10" fill="url(#cyl)"/></g><rect x="451.80" y="614.50" width="7.10" height="34.10" rx="3.2" fill="none" stroke="#8f8f8f" stroke-width="0.55"/><clipPath id="c120"><rect x="489.00" y="593.00" width="7.20" height="13.75" rx="3.2"/></clipPath><g clip-path="url(#c120)"><rect x="489.00" y="593.00" width="7.20" height="13.75" fill="#fafafa"/><rect x="489.00" y="596.00" width="7.20" height="1.50" fill="#929292"/><rect x="489.00" y="599.50" width="7.20" height="2.00" fill="#202020"/><rect x="489.00" y="602.25" width="7.20" height="1.50" fill="#545454"/><rect x="489.00" y="593.00" width="7.20" height="13.75" fill="url(#cyl)"/></g><rect x="489.00" y="593.00" width="7.20" height="13.75" rx="3.2" fill="none" stroke="#8f8f8f" stroke-width="0.55"/><clipPath id="c121"><rect x="489.00" y="606.75" width="7.20" height="41.25" rx="3.2"/></clipPath><g clip-path="url(#c121)"><rect x="489.00" y="606.75" width="7.20" height="41.25" fill="#fafafa"/><rect x="489.00" y="608.90" width="7.20" height="2.00" fill="#202020"/><rect x="489.00" y="616.65" width="7.20" height="1.50" fill="#929292"/><rect x="489.00" y="621.00" width="7.20" height="1.50" fill="#929292"/><rect x="489.00" y="625.75" width="7.20" height="2.00" fill="#202020"/><rect x="489.00" y="629.75" width="7.20" height="1.50" fill="#545454"/><rect x="489.00" y="633.50" width="7.20" height="1.50" fill="#929292"/><rect x="489.00" y="637.25" width="7.20" height="1.50" fill="#929292"/><rect x="489.00" y="641.25" width="7.20" height="1.00" fill="#cdcdcd"/><rect x="489.00" y="606.75" width="7.20" height="41.25" fill="url(#cyl)"/></g><rect x="489.00" y="606.75" width="7.20" height="41.25" rx="3.2" fill="none" stroke="#8f8f8f" stroke-width="0.55"/><rect x="303.90" y="679.50" width="5.70" height="5.40" rx="3.2" fill="#f4f4f4" stroke="#9a9a9a" stroke-width="0.55"/><path d="M304.30 682.20H309.20" stroke="#b0b0b0" stroke-width="0.5"/><clipPath id="c130"><rect x="303.30" y="685.50" width="6.90" height="41.20" rx="3.2"/></clipPath><g clip-path="url(#c130)"><rect x="303.30" y="685.50" width="6.90" height="41.20" fill="#fafafa"/><rect x="303.30" y="689.40" width="6.90" height="1.00" fill="#cdcdcd"/><rect x="303.30" y="694.15" width="6.90" height="1.50" fill="#929292"/><rect x="303.30" y="698.80" width="6.90" height="1.00" fill="#cdcdcd"/><rect x="303.30" y="701.90" width="6.90" height="2.00" fill="#202020"/><rect x="303.30" y="704.50" width="6.90" height="1.00" fill="#cdcdcd"/><rect x="303.30" y="707.60" width="6.90" height="2.00" fill="#202020"/><rect x="303.30" y="711.50" width="6.90" height="3.00" fill="#202020"/><rect x="303.30" y="716.30" width="6.90" height="2.00" fill="#202020"/><rect x="303.30" y="721.10" width="6.90" height="1.00" fill="#cdcdcd"/><rect x="303.30" y="723.50" width="6.90" height="2.00" fill="#202020"/><rect x="303.30" y="685.50" width="6.90" height="41.20" fill="url(#cyl)"/></g><rect x="303.30" y="685.50" width="6.90" height="41.20" rx="3.2" fill="none" stroke="#8f8f8f" stroke-width="0.55"/><rect x="341.10" y="679.50" width="5.60" height="5.40" rx="3.2" fill="#f4f4f4" stroke="#9a9a9a" stroke-width="0.55"/><path d="M341.50 682.20H346.30" stroke="#b0b0b0" stroke-width="0.5"/><clipPath id="c140"><rect x="340.50" y="685.50" width="6.80" height="38.30" rx="3.2"/></clipPath><g clip-path="url(#c140)"><rect x="340.50" y="685.50" width="6.80" height="38.30" fill="#fafafa"/><rect x="340.50" y="689.60" width="6.80" height="2.00" fill="#202020"/><rect x="340.50" y="694.60" width="6.80" height="2.00" fill="#202020"/><rect x="340.50" y="699.25" width="6.80" height="1.50" fill="#545454"/><rect x="340.50" y="702.85" width="6.80" height="1.50" fill="#929292"/><rect x="340.50" y="707.40" width="6.80" height="1.00" fill="#cdcdcd"/><rect x="340.50" y="712.00" width="6.80" height="2.00" fill="#202020"/><rect x="340.50" y="715.05" width="6.80" height="1.50" fill="#545454"/><rect x="340.50" y="719.70" width="6.80" height="1.00" fill="#cdcdcd"/><rect x="340.50" y="685.50" width="6.80" height="38.30" fill="url(#cyl)"/></g><rect x="340.50" y="685.50" width="6.80" height="38.30" rx="3.2" fill="none" stroke="#8f8f8f" stroke-width="0.55"/><rect x="378.10" y="679.30" width="6.05" height="8.10" rx="3.2" fill="#f4f4f4" stroke="#9a9a9a" stroke-width="0.55"/><path d="M378.50 683.21H383.75" stroke="#b0b0b0" stroke-width="0.5"/><clipPath id="c150"><rect x="377.50" y="688.00" width="7.25" height="33.50" rx="3.2"/></clipPath><g clip-path="url(#c150)"><rect x="377.50" y="688.00" width="7.25" height="33.50" fill="#fafafa"/><rect x="377.50" y="689.75" width="7.25" height="1.00" fill="#cdcdcd"/><rect x="377.50" y="693.25" width="7.25" height="1.50" fill="#545454"/><rect x="377.50" y="698.25" width="7.25" height="1.50" fill="#545454"/><rect x="377.50" y="702.00" width="7.25" height="1.50" fill="#545454"/><rect x="377.50" y="707.25" width="7.25" height="1.00" fill="#cdcdcd"/><rect x="377.50" y="711.35" width="7.25" height="1.50" fill="#929292"/><rect x="377.50" y="714.50" width="7.25" height="1.50" fill="#929292"/><rect x="377.50" y="717.90" width="7.25" height="1.00" fill="#cdcdcd"/><rect x="377.50" y="688.00" width="7.25" height="33.50" fill="url(#cyl)"/></g><rect x="377.50" y="688.00" width="7.25" height="33.50" rx="3.2" fill="none" stroke="#8f8f8f" stroke-width="0.55"/><clipPath id="c160"><rect x="414.40" y="679.30" width="7.50" height="14.70" rx="3.2"/></clipPath><g clip-path="url(#c160)"><rect x="414.40" y="679.30" width="7.50" height="14.70" fill="#fafafa"/><rect x="414.40" y="682.90" width="7.50" height="1.00" fill="#cdcdcd"/><rect x="414.40" y="686.00" width="7.50" height="1.00" fill="#cdcdcd"/><rect x="414.40" y="689.75" width="7.50" height="1.00" fill="#cdcdcd"/><rect x="414.40" y="679.30" width="7.50" height="14.70" fill="url(#cyl)"/></g><rect x="414.40" y="679.30" width="7.50" height="14.70" rx="3.2" fill="none" stroke="#8f8f8f" stroke-width="0.55"/><clipPath id="c161"><rect x="414.40" y="694.00" width="7.50" height="22.50" rx="3.2"/></clipPath><g clip-path="url(#c161)"><rect x="414.40" y="694.00" width="7.50" height="22.50" fill="#fafafa"/><rect x="414.40" y="695.50" width="7.50" height="6.00" fill="#e6e6e6"/><rect x="414.40" y="703.35" width="7.50" height="2.50" fill="#202020"/><rect x="414.40" y="709.50" width="7.50" height="1.50" fill="#545454"/><rect x="414.40" y="712.90" width="7.50" height="1.00" fill="#cdcdcd"/><rect x="414.40" y="694.00" width="7.50" height="22.50" fill="url(#cyl)"/></g><rect x="414.40" y="694.00" width="7.50" height="22.50" rx="3.2" fill="none" stroke="#8f8f8f" stroke-width="0.55"/><clipPath id="c170"><rect x="451.60" y="679.50" width="7.20" height="10.40" rx="3.2"/></clipPath><g clip-path="url(#c170)"><rect x="451.60" y="679.50" width="7.20" height="10.40" fill="#fafafa"/><rect x="451.60" y="684.05" width="7.20" height="1.50" fill="#545454"/><rect x="451.60" y="687.90" width="7.20" height="1.00" fill="#cdcdcd"/><rect x="451.60" y="679.50" width="7.20" height="10.40" fill="url(#cyl)"/></g><rect x="451.60" y="679.50" width="7.20" height="10.40" rx="3.2" fill="none" stroke="#8f8f8f" stroke-width="0.55"/><clipPath id="c171"><rect x="451.60" y="689.90" width="7.20" height="23.10" rx="3.2"/></clipPath><g clip-path="url(#c171)"><rect x="451.60" y="689.90" width="7.20" height="23.10" fill="#fafafa"/><rect x="451.60" y="693.70" width="7.20" height="1.00" fill="#cdcdcd"/><rect x="451.60" y="699.95" width="7.20" height="1.50" fill="#545454"/><rect x="451.60" y="702.15" width="7.20" height="1.50" fill="#545454"/><rect x="451.60" y="707.15" width="7.20" height="1.50" fill="#929292"/><rect x="451.60" y="689.90" width="7.20" height="23.10" fill="url(#cyl)"/></g><rect x="451.60" y="689.90" width="7.20" height="23.10" rx="3.2" fill="none" stroke="#8f8f8f" stroke-width="0.55"/><clipPath id="c180"><rect x="489.10" y="679.50" width="7.20" height="8.20" rx="3.2"/></clipPath><g clip-path="url(#c180)"><rect x="489.10" y="679.50" width="7.20" height="8.20" fill="#fafafa"/><rect x="489.10" y="682.20" width="7.20" height="1.00" fill="#cdcdcd"/><rect x="489.10" y="685.80" width="7.20" height="1.00" fill="#cdcdcd"/><rect x="489.10" y="679.50" width="7.20" height="8.20" fill="url(#cyl)"/></g><rect x="489.10" y="679.50" width="7.20" height="8.20" rx="3.2" fill="none" stroke="#8f8f8f" stroke-width="0.55"/><clipPath id="c181"><rect x="489.10" y="687.70" width="7.20" height="23.80" rx="3.2"/></clipPath><g clip-path="url(#c181)"><rect x="489.10" y="687.70" width="7.20" height="23.80" fill="#fafafa"/><rect x="489.10" y="690.30" width="7.20" height="2.00" fill="#202020"/><rect x="489.10" y="694.85" width="7.20" height="1.50" fill="#545454"/><rect x="489.10" y="699.25" width="7.20" height="1.50" fill="#545454"/><rect x="489.10" y="704.00" width="7.20" height="2.00" fill="#202020"/><rect x="489.10" y="687.70" width="7.20" height="23.80" fill="url(#cyl)"/></g><rect x="489.10" y="687.70" width="7.20" height="23.80" rx="3.2" fill="none" stroke="#8f8f8f" stroke-width="0.55"/><clipPath id="c190"><rect x="303.10" y="747.60" width="6.70" height="10.65" rx="3.2"/></clipPath><g clip-path="url(#c190)"><rect x="303.10" y="747.60" width="6.70" height="10.65" fill="#fafafa"/><rect x="303.10" y="751.50" width="6.70" height="1.00" fill="#cdcdcd"/><rect x="303.10" y="755.25" width="6.70" height="1.00" fill="#cdcdcd"/><rect x="303.10" y="747.60" width="6.70" height="10.65" fill="url(#cyl)"/></g><rect x="303.10" y="747.60" width="6.70" height="10.65" rx="3.2" fill="none" stroke="#8f8f8f" stroke-width="0.55"/><clipPath id="c191"><rect x="303.10" y="758.25" width="6.70" height="13.75" rx="3.2"/></clipPath><g clip-path="url(#c191)"><rect x="303.10" y="758.25" width="6.70" height="13.75" fill="#fafafa"/><rect x="303.10" y="763.40" width="6.70" height="1.00" fill="#cdcdcd"/><rect x="303.10" y="767.75" width="6.70" height="1.00" fill="#cdcdcd"/><rect x="303.10" y="758.25" width="6.70" height="13.75" fill="url(#cyl)"/></g><rect x="303.10" y="758.25" width="6.70" height="13.75" rx="3.2" fill="none" stroke="#8f8f8f" stroke-width="0.55"/><clipPath id="c200"><rect x="340.00" y="747.60" width="7.20" height="10.65" rx="3.2"/></clipPath><g clip-path="url(#c200)"><rect x="340.00" y="747.60" width="7.20" height="10.65" fill="#fafafa"/><rect x="340.00" y="749.75" width="7.20" height="1.50" fill="#545454"/><rect x="340.00" y="753.50" width="7.20" height="2.00" fill="#202020"/><rect x="340.00" y="747.60" width="7.20" height="10.65" fill="url(#cyl)"/></g><rect x="340.00" y="747.60" width="7.20" height="10.65" rx="3.2" fill="none" stroke="#8f8f8f" stroke-width="0.55"/><clipPath id="c201"><rect x="340.00" y="758.25" width="7.20" height="15.00" rx="3.2"/></clipPath><g clip-path="url(#c201)"><rect x="340.00" y="758.25" width="7.20" height="15.00" fill="#fafafa"/><rect x="340.00" y="763.75" width="7.20" height="1.50" fill="#545454"/><rect x="340.00" y="768.50" width="7.20" height="1.50" fill="#545454"/><rect x="340.00" y="758.25" width="7.20" height="15.00" fill="url(#cyl)"/></g><rect x="340.00" y="758.25" width="7.20" height="15.00" rx="3.2" fill="none" stroke="#8f8f8f" stroke-width="0.55"/><rect x="378.10" y="747.60" width="6.05" height="4.80" rx="3.2" fill="#f4f4f4" stroke="#9a9a9a" stroke-width="0.55"/><path d="M378.50 750.03H383.75" stroke="#b0b0b0" stroke-width="0.5"/><clipPath id="c210"><rect x="377.50" y="753.00" width="7.25" height="14.60" rx="3.2"/></clipPath><g clip-path="url(#c210)"><rect x="377.50" y="753.00" width="7.25" height="14.60" fill="#fafafa"/><rect x="377.50" y="754.50" width="7.25" height="3.00" fill="#202020"/><rect x="377.50" y="759.35" width="7.25" height="1.50" fill="#545454"/><rect x="377.50" y="763.40" width="7.25" height="1.00" fill="#cdcdcd"/><rect x="377.50" y="753.00" width="7.25" height="14.60" fill="url(#cyl)"/></g><rect x="377.50" y="753.00" width="7.25" height="14.60" rx="3.2" fill="none" stroke="#8f8f8f" stroke-width="0.55"/><rect x="415.00" y="747.60" width="6.30" height="5.05" rx="3.2" fill="#f4f4f4" stroke="#9a9a9a" stroke-width="0.55"/><path d="M415.40 750.14H420.90" stroke="#b0b0b0" stroke-width="0.5"/><clipPath id="c220"><rect x="414.40" y="753.25" width="7.50" height="16.00" rx="3.2"/></clipPath><g clip-path="url(#c220)"><rect x="414.40" y="753.25" width="7.50" height="16.00" fill="#fafafa"/><rect x="414.40" y="757.75" width="7.50" height="1.00" fill="#cdcdcd"/><rect x="414.40" y="761.25" width="7.50" height="1.50" fill="#929292"/><rect x="414.40" y="764.50" width="7.50" height="1.00" fill="#cdcdcd"/><rect x="414.40" y="753.25" width="7.50" height="16.00" fill="url(#cyl)"/></g><rect x="414.40" y="753.25" width="7.50" height="16.00" rx="3.2" fill="none" stroke="#8f8f8f" stroke-width="0.55"/><clipPath id="cX0"><rect x="452.10" y="747.90" width="7.00" height="24.70" rx="3.2"/></clipPath><g clip-path="url(#cX0)"><rect x="452.10" y="747.90" width="7.00" height="24.70" fill="#fafafa"/><rect x="452.10" y="750.10" width="7.00" height="1.00" fill="#cdcdcd"/><rect x="452.10" y="752.95" width="7.00" height="1.50" fill="#929292"/><rect x="452.10" y="758.10" width="7.00" height="2.00" fill="#202020"/><rect x="452.10" y="761.30" width="7.00" height="2.00" fill="#202020"/><rect x="452.10" y="765.55" width="7.00" height="1.50" fill="#545454"/><rect x="452.10" y="768.50" width="7.00" height="1.00" fill="#cdcdcd"/><rect x="452.10" y="747.90" width="7.00" height="24.70" fill="url(#cyl)"/></g><rect x="452.10" y="747.90" width="7.00" height="24.70" rx="3.2" fill="none" stroke="#8f8f8f" stroke-width="0.55"/><clipPath id="cX1"><rect x="452.10" y="772.60" width="7.00" height="39.20" rx="3.2"/></clipPath><g clip-path="url(#cX1)"><rect x="452.10" y="772.60" width="7.00" height="39.20" fill="#fafafa"/><rect x="452.10" y="776.20" width="7.00" height="1.00" fill="#cdcdcd"/><rect x="452.10" y="779.20" width="7.00" height="3.00" fill="#202020"/><rect x="452.10" y="783.30" width="7.00" height="2.00" fill="#202020"/><rect x="452.10" y="786.75" width="7.00" height="1.50" fill="#545454"/><rect x="452.10" y="790.60" width="7.00" height="1.00" fill="#cdcdcd"/><rect x="452.10" y="793.55" width="7.00" height="1.50" fill="#545454"/><rect x="452.10" y="798.20" width="7.00" height="2.00" fill="#202020"/><rect x="452.10" y="802.80" width="7.00" height="1.00" fill="#cdcdcd"/><rect x="452.10" y="806.30" width="7.00" height="2.00" fill="#202020"/><rect x="452.10" y="772.60" width="7.00" height="39.20" fill="url(#cyl)"/></g><rect x="452.10" y="772.60" width="7.00" height="39.20" rx="3.2" fill="none" stroke="#8f8f8f" stroke-width="0.55"/><clipPath id="cY0"><rect x="488.80" y="747.80" width="7.00" height="4.20" rx="3.2"/></clipPath><g clip-path="url(#cY0)"><rect x="488.80" y="747.80" width="7.00" height="4.20" fill="#fafafa"/><rect x="488.80" y="747.80" width="7.00" height="4.20" fill="url(#cyl)"/></g><rect x="488.80" y="747.80" width="7.00" height="4.20" rx="3.2" fill="none" stroke="#8f8f8f" stroke-width="0.55"/><clipPath id="cY1"><rect x="488.80" y="752.00" width="7.00" height="20.00" rx="3.2"/></clipPath><g clip-path="url(#cY1)"><rect x="488.80" y="752.00" width="7.00" height="20.00" fill="#fafafa"/><rect x="488.80" y="754.10" width="7.00" height="1.20" fill="#929292"/><rect x="488.80" y="756.70" width="7.00" height="1.20" fill="#929292"/><rect x="488.80" y="752.00" width="7.00" height="20.00" fill="url(#cyl)"/></g><rect x="488.80" y="752.00" width="7.00" height="20.00" rx="3.2" fill="none" stroke="#8f8f8f" stroke-width="0.55"/><rect x="0" y="0" width="520" height="1.2" fill="#000"/><rect x="0" y="0" width="1.2" height="822" fill="#000"/><rect x="518.6" y="0" width="1.4" height="822" fill="#000"/><rect x="0" y="820.6" width="520" height="1.4" fill="#000"/>
</svg>
</body></html>
